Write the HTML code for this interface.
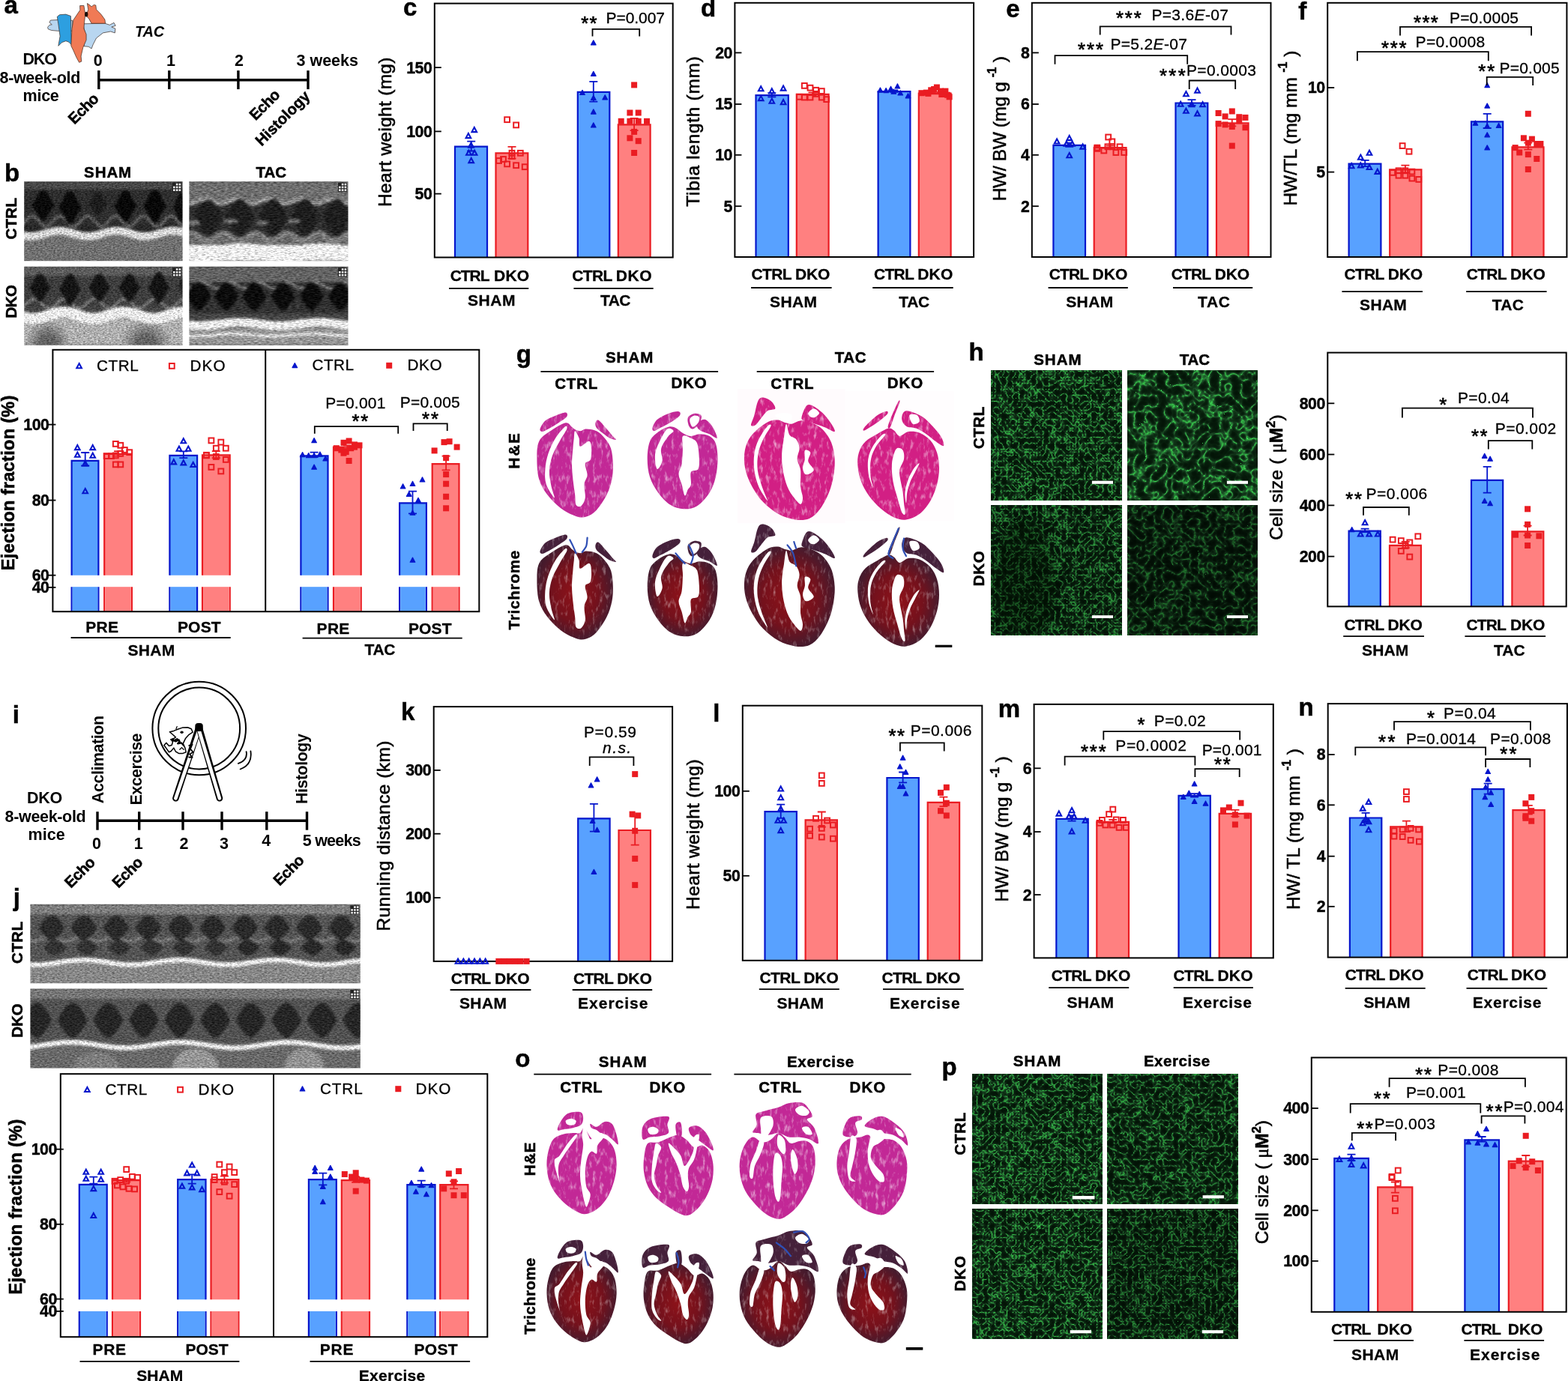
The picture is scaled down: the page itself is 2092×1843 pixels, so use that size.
<!DOCTYPE html>
<html lang="en"><head><meta charset="utf-8"><title>Figure</title>
<style>
html,body{margin:0;padding:0;background:#fff}
body{width:2092px;height:1843px;overflow:hidden}
svg{display:block;font-family:"Liberation Sans",sans-serif}
text{white-space:pre}
</style></head><body>
<svg width="2092" height="1843" viewBox="0 0 2092 1843">
<defs><filter id="blur8" x="-50%" y="-50%" width="200%" height="200%"><feGaussianBlur stdDeviation="8"/></filter>
<clipPath id="ec1"><rect x="32.2" y="242.3" width="211.4" height="105.9"/></clipPath>
<filter id="ef1" filterUnits="userSpaceOnUse" x="32.2" y="242.3" width="211.4" height="105.9" color-interpolation-filters="sRGB"><feGaussianBlur in="SourceGraphic" stdDeviation="1.4" result="b"/><feTurbulence type="fractalNoise" baseFrequency="0.35 0.7" numOctaves="2" seed="2" result="n"/><feColorMatrix in="n" type="matrix" values="1 0 0 0 0 1 0 0 0 0 1 0 0 0 0 0 0 0 0 1" result="g"/><feComposite in="b" in2="g" operator="arithmetic" k1="0.7" k2="0.65" k3="0.2" k4="-0.1"/></filter>
<clipPath id="ec2"><rect x="252.4" y="242.3" width="212.1" height="105.9"/></clipPath>
<filter id="ef2" filterUnits="userSpaceOnUse" x="252.4" y="242.3" width="212.1" height="105.9" color-interpolation-filters="sRGB"><feGaussianBlur in="SourceGraphic" stdDeviation="1.4" result="b"/><feTurbulence type="fractalNoise" baseFrequency="0.2 0.8" numOctaves="2" seed="3" result="n"/><feColorMatrix in="n" type="matrix" values="1 0 0 0 0 1 0 0 0 0 1 0 0 0 0 0 0 0 0 1" result="g"/><feComposite in="b" in2="g" operator="arithmetic" k1="0.7" k2="0.65" k3="0.2" k4="-0.1"/></filter>
<clipPath id="ec3"><rect x="32.2" y="355.7" width="211.4" height="105"/></clipPath>
<filter id="ef3" filterUnits="userSpaceOnUse" x="32.2" y="355.7" width="211.4" height="105" color-interpolation-filters="sRGB"><feGaussianBlur in="SourceGraphic" stdDeviation="1.4" result="b"/><feTurbulence type="fractalNoise" baseFrequency="0.35 0.7" numOctaves="2" seed="4" result="n"/><feColorMatrix in="n" type="matrix" values="1 0 0 0 0 1 0 0 0 0 1 0 0 0 0 0 0 0 0 1" result="g"/><feComposite in="b" in2="g" operator="arithmetic" k1="0.7" k2="0.65" k3="0.2" k4="-0.1"/></filter>
<clipPath id="ec4"><rect x="252.4" y="355.7" width="212.1" height="105"/></clipPath>
<filter id="ef4" filterUnits="userSpaceOnUse" x="252.4" y="355.7" width="212.1" height="105" color-interpolation-filters="sRGB"><feGaussianBlur in="SourceGraphic" stdDeviation="1.4" result="b"/><feTurbulence type="fractalNoise" baseFrequency="0.2 0.8" numOctaves="2" seed="5" result="n"/><feColorMatrix in="n" type="matrix" values="1 0 0 0 0 1 0 0 0 0 1 0 0 0 0 0 0 0 0 1" result="g"/><feComposite in="b" in2="g" operator="arithmetic" k1="0.7" k2="0.65" k3="0.2" k4="-0.1"/></filter>
<clipPath id="ec5"><rect x="40.4" y="1206.8" width="440.4" height="105.4"/></clipPath>
<filter id="ef5" filterUnits="userSpaceOnUse" x="40.4" y="1206.8" width="440.4" height="105.4" color-interpolation-filters="sRGB"><feGaussianBlur in="SourceGraphic" stdDeviation="1.4" result="b"/><feTurbulence type="fractalNoise" baseFrequency="0.3 0.7" numOctaves="2" seed="6" result="n"/><feColorMatrix in="n" type="matrix" values="1 0 0 0 0 1 0 0 0 0 1 0 0 0 0 0 0 0 0 1" result="g"/><feComposite in="b" in2="g" operator="arithmetic" k1="0.7" k2="0.65" k3="0.2" k4="-0.1"/></filter>
<clipPath id="ec6"><rect x="40.4" y="1319.4" width="440.4" height="106"/></clipPath>
<filter id="ef6" filterUnits="userSpaceOnUse" x="40.4" y="1319.4" width="440.4" height="106" color-interpolation-filters="sRGB"><feGaussianBlur in="SourceGraphic" stdDeviation="1.4" result="b"/><feTurbulence type="fractalNoise" baseFrequency="0.3 0.7" numOctaves="2" seed="7" result="n"/><feColorMatrix in="n" type="matrix" values="1 0 0 0 0 1 0 0 0 0 1 0 0 0 0 0 0 0 0 1" result="g"/><feComposite in="b" in2="g" operator="arithmetic" k1="0.7" k2="0.65" k3="0.2" k4="-0.1"/></filter>
<filter id="gf1" filterUnits="userSpaceOnUse" x="1322.6" y="494.1" width="173.6" height="173.6" color-interpolation-filters="sRGB"><feTurbulence type="turbulence" baseFrequency="0.125" numOctaves="2" seed="3"/><feColorMatrix type="matrix" values="1 0 0 0 0 1 0 0 0 0 1 0 0 0 0 0 0 0 0 1"/><feComponentTransfer><feFuncR type="table" tableValues="0.220 0.130 0.070 0.040 0.025 0.020 0.015 0.012 0.010 0.010 0.010"/><feFuncG type="table" tableValues="0.800 0.600 0.400 0.280 0.210 0.170 0.140 0.120 0.110 0.100 0.090 0.085 0.080 0.080 0.080 0.080 0.080 0.080 0.080 0.080 0.080"/><feFuncB type="table" tableValues="0.300 0.180 0.100 0.060 0.045 0.035 0.030 0.025 0.022 0.020 0.020"/></feComponentTransfer></filter>
<filter id="gf2" filterUnits="userSpaceOnUse" x="1504.4" y="494.1" width="173.6" height="173.6" color-interpolation-filters="sRGB"><feTurbulence type="turbulence" baseFrequency="0.07" numOctaves="2" seed="8"/><feColorMatrix type="matrix" values="1 0 0 0 0 1 0 0 0 0 1 0 0 0 0 0 0 0 0 1"/><feComponentTransfer><feFuncR type="table" tableValues="0.231 0.137 0.074 0.042 0.026 0.021 0.016 0.013 0.011 0.011 0.011"/><feFuncG type="table" tableValues="0.840 0.630 0.420 0.294 0.221 0.179 0.147 0.126 0.116 0.105 0.095 0.089 0.084 0.084 0.084 0.084 0.084 0.084 0.084 0.084 0.084"/><feFuncB type="table" tableValues="0.315 0.189 0.105 0.063 0.047 0.037 0.032 0.026 0.023 0.021 0.021"/></feComponentTransfer></filter>
<filter id="gf3" filterUnits="userSpaceOnUse" x="1322.6" y="674.2" width="173.6" height="173.6" color-interpolation-filters="sRGB"><feTurbulence type="turbulence" baseFrequency="0.125" numOctaves="2" seed="12"/><feColorMatrix type="matrix" values="1 0 0 0 0 1 0 0 0 0 1 0 0 0 0 0 0 0 0 1"/><feComponentTransfer><feFuncR type="table" tableValues="0.198 0.117 0.063 0.036 0.023 0.018 0.013 0.011 0.009 0.009 0.009"/><feFuncG type="table" tableValues="0.720 0.540 0.360 0.252 0.189 0.153 0.126 0.108 0.099 0.090 0.081 0.077 0.072 0.072 0.072 0.072 0.072 0.072 0.072 0.072 0.072"/><feFuncB type="table" tableValues="0.270 0.162 0.090 0.054 0.041 0.032 0.027 0.023 0.020 0.018 0.018"/></feComponentTransfer></filter>
<clipPath id="gc3"><rect x="1322.6" y="674.2" width="173.6" height="173.6"/></clipPath>
<filter id="gf4" filterUnits="userSpaceOnUse" x="1504.4" y="674.2" width="173.6" height="173.6" color-interpolation-filters="sRGB"><feTurbulence type="turbulence" baseFrequency="0.085" numOctaves="2" seed="21"/><feColorMatrix type="matrix" values="1 0 0 0 0 1 0 0 0 0 1 0 0 0 0 0 0 0 0 1"/><feComponentTransfer><feFuncR type="table" tableValues="0.136 0.081 0.043 0.025 0.015 0.012 0.009 0.007 0.006 0.006 0.006"/><feFuncG type="table" tableValues="0.496 0.372 0.248 0.174 0.130 0.105 0.087 0.074 0.068 0.062 0.056 0.053 0.050 0.050 0.050 0.050 0.050 0.050 0.050 0.050 0.050"/><feFuncB type="table" tableValues="0.186 0.112 0.062 0.037 0.028 0.022 0.019 0.015 0.014 0.012 0.012"/></feComponentTransfer></filter>
<filter id="gf5" filterUnits="userSpaceOnUse" x="1297.1" y="1433.2" width="173.8" height="173.6" color-interpolation-filters="sRGB"><feTurbulence type="turbulence" baseFrequency="0.125" numOctaves="2" seed="31"/><feColorMatrix type="matrix" values="1 0 0 0 0 1 0 0 0 0 1 0 0 0 0 0 0 0 0 1"/><feComponentTransfer><feFuncR type="table" tableValues="0.220 0.130 0.070 0.040 0.025 0.020 0.015 0.012 0.010 0.010 0.010"/><feFuncG type="table" tableValues="0.800 0.600 0.400 0.280 0.210 0.170 0.140 0.120 0.110 0.100 0.090 0.085 0.080 0.080 0.080 0.080 0.080 0.080 0.080 0.080 0.080"/><feFuncB type="table" tableValues="0.300 0.180 0.100 0.060 0.045 0.035 0.030 0.025 0.022 0.020 0.020"/></feComponentTransfer></filter>
<filter id="gf6" filterUnits="userSpaceOnUse" x="1477.8" y="1433.2" width="174.1" height="173.6" color-interpolation-filters="sRGB"><feTurbulence type="turbulence" baseFrequency="0.115" numOctaves="2" seed="38"/><feColorMatrix type="matrix" values="1 0 0 0 0 1 0 0 0 0 1 0 0 0 0 0 0 0 0 1"/><feComponentTransfer><feFuncR type="table" tableValues="0.209 0.123 0.067 0.038 0.024 0.019 0.014 0.011 0.009 0.009 0.009"/><feFuncG type="table" tableValues="0.760 0.570 0.380 0.266 0.199 0.162 0.133 0.114 0.104 0.095 0.085 0.081 0.076 0.076 0.076 0.076 0.076 0.076 0.076 0.076 0.076"/><feFuncB type="table" tableValues="0.285 0.171 0.095 0.057 0.043 0.033 0.028 0.024 0.021 0.019 0.019"/></feComponentTransfer></filter>
<filter id="gf7" filterUnits="userSpaceOnUse" x="1297.1" y="1613.2" width="173.8" height="173.6" color-interpolation-filters="sRGB"><feTurbulence type="turbulence" baseFrequency="0.125" numOctaves="2" seed="42"/><feColorMatrix type="matrix" values="1 0 0 0 0 1 0 0 0 0 1 0 0 0 0 0 0 0 0 1"/><feComponentTransfer><feFuncR type="table" tableValues="0.220 0.130 0.070 0.040 0.025 0.020 0.015 0.012 0.010 0.010 0.010"/><feFuncG type="table" tableValues="0.800 0.600 0.400 0.280 0.210 0.170 0.140 0.120 0.110 0.100 0.090 0.085 0.080 0.080 0.080 0.080 0.080 0.080 0.080 0.080 0.080"/><feFuncB type="table" tableValues="0.300 0.180 0.100 0.060 0.045 0.035 0.030 0.025 0.022 0.020 0.020"/></feComponentTransfer></filter>
<filter id="gf8" filterUnits="userSpaceOnUse" x="1477.8" y="1613.2" width="174.1" height="173.6" color-interpolation-filters="sRGB"><feTurbulence type="turbulence" baseFrequency="0.125" numOctaves="2" seed="51"/><feColorMatrix type="matrix" values="1 0 0 0 0 1 0 0 0 0 1 0 0 0 0 0 0 0 0 1"/><feComponentTransfer><feFuncR type="table" tableValues="0.176 0.104 0.056 0.032 0.020 0.016 0.012 0.010 0.008 0.008 0.008"/><feFuncG type="table" tableValues="0.640 0.480 0.320 0.224 0.168 0.136 0.112 0.096 0.088 0.080 0.072 0.068 0.064 0.064 0.064 0.064 0.064 0.064 0.064 0.064 0.064"/><feFuncB type="table" tableValues="0.240 0.144 0.080 0.048 0.036 0.028 0.024 0.020 0.018 0.016 0.016"/></feComponentTransfer></filter>
<radialGradient id="trg" gradientUnits="objectBoundingBox" cx="0.5" cy="0.5" r="0.6"><stop offset="0" stop-color="#8e1219"/><stop offset="0.5" stop-color="#74111c"/><stop offset="0.82" stop-color="#4a1a2c"/><stop offset="1" stop-color="#3a1a2c"/></radialGradient>
<filter id="hx" x="0" y="0" width="100%" height="100%" color-interpolation-filters="sRGB"><feTurbulence type="fractalNoise" baseFrequency="0.22 0.09" numOctaves="3" seed="5" result="n"/><feColorMatrix in="n" type="matrix" values="0 0 0 0 1 0 0 0 0 1 0 0 0 0 1 1.5 0 0 0 -0.78" result="w"/><feComposite in="w" in2="SourceAlpha" operator="in" result="wi"/><feMerge><feMergeNode in="SourceGraphic"/><feMergeNode in="wi"/></feMerge></filter>
<filter id="hy" x="0" y="0" width="100%" height="100%" color-interpolation-filters="sRGB"><feTurbulence type="fractalNoise" baseFrequency="0.22 0.09" numOctaves="3" seed="9" result="n"/><feColorMatrix in="n" type="matrix" values="0 0 0 0 1 0 0 0 0 1 0 0 0 0 1 1.1 0 0 0 -0.6" result="w"/><feComposite in="w" in2="SourceAlpha" operator="in" result="wi"/><feMerge><feMergeNode in="SourceGraphic"/><feMergeNode in="wi"/></feMerge></filter></defs>
<rect width="2092" height="1843" fill="#fff"/>
<path d="M607 343.5V195.6H650V343.5" fill="#58a1ff" stroke="#0616cc" stroke-width="2.2"/>
<path d="M661.5 343.5V204.3H704.3V343.5" fill="#ff8080" stroke="#ea1c22" stroke-width="2.2"/>
<path d="M770.8 343.5V122.9H813.3V343.5" fill="#58a1ff" stroke="#0616cc" stroke-width="2.2"/>
<path d="M824.8 343.5V166.4H867.6V343.5" fill="#ff8080" stroke="#ea1c22" stroke-width="2.2"/>
<rect x="579.8" y="4.6" width="317.9" height="338.9" fill="none" stroke="#000" stroke-width="2"/>
<line x1="579.8" y1="90.1" x2="588.8" y2="90.1" stroke="#000" stroke-width="1.8"/>
<text x="576.3" y="97.5" font-size="21.3" font-weight="700" text-anchor="end" letter-spacing="-0.5" stroke="#000" stroke-width="0.4">150</text>
<line x1="579.8" y1="175.4" x2="588.8" y2="175.4" stroke="#000" stroke-width="1.8"/>
<text x="576.3" y="182.7" font-size="21.3" font-weight="700" text-anchor="end" letter-spacing="-0.5" stroke="#000" stroke-width="0.4">100</text>
<line x1="579.8" y1="258.6" x2="588.8" y2="258.6" stroke="#000" stroke-width="1.8"/>
<text x="576.3" y="265.9" font-size="21.3" font-weight="700" text-anchor="end" letter-spacing="-0.5" stroke="#000" stroke-width="0.4">50</text>
<path d="M623.2 188.7H634.2M623.2 201.5H634.2M628.7 188.7V201.5" fill="none" stroke="#0616cc" stroke-width="1.8"/>
<path d="M677.5 195.8H688.5M677.5 211.7H688.5M683 195.8V211.7" fill="none" stroke="#ea1c22" stroke-width="1.8"/>
<path d="M786.3 108.8H797.3M786.3 135.7H797.3M791.8 108.8V135.7" fill="none" stroke="#0616cc" stroke-width="1.8"/>
<path d="M840.6 157.9H851.6M840.6 174.1H851.6M846.1 157.9V174.1" fill="none" stroke="#ea1c22" stroke-width="1.8"/>
<polygon points="632.8,170 636.1,176.1 629.5,176.1" fill="none" stroke="#0616cc" stroke-width="2.1"/>
<polygon points="624.9,177.9 628.2,184.1 621.6,184.1" fill="none" stroke="#0616cc" stroke-width="2.1"/>
<polygon points="628.5,190.5 631.8,196.6 625.2,196.6" fill="none" stroke="#0616cc" stroke-width="2.1"/>
<polygon points="625.4,200.7 628.7,206.8 622.1,206.8" fill="none" stroke="#0616cc" stroke-width="2.1"/>
<polygon points="633.1,200.7 636.4,206.8 629.8,206.8" fill="none" stroke="#0616cc" stroke-width="2.1"/>
<polygon points="628.7,211 632,217.1 625.4,217.1" fill="none" stroke="#0616cc" stroke-width="2.1"/>
<rect x="673.2" y="156.3" width="6.8" height="6.8" fill="none" stroke="#ea1c22" stroke-width="2"/>
<rect x="685.2" y="163.5" width="6.8" height="6.8" fill="none" stroke="#ea1c22" stroke-width="2"/>
<rect x="690.9" y="200.9" width="6.8" height="6.8" fill="none" stroke="#ea1c22" stroke-width="2"/>
<rect x="679.6" y="200.9" width="6.8" height="6.8" fill="none" stroke="#ea1c22" stroke-width="2"/>
<rect x="679.6" y="205.2" width="6.8" height="6.8" fill="none" stroke="#ea1c22" stroke-width="2"/>
<rect x="662.2" y="211.1" width="6.8" height="6.8" fill="none" stroke="#ea1c22" stroke-width="2"/>
<rect x="668.1" y="209.1" width="6.8" height="6.8" fill="none" stroke="#ea1c22" stroke-width="2"/>
<rect x="673.2" y="215.5" width="6.8" height="6.8" fill="none" stroke="#ea1c22" stroke-width="2"/>
<rect x="685.2" y="217.3" width="6.8" height="6.8" fill="none" stroke="#ea1c22" stroke-width="2"/>
<rect x="696.8" y="219.3" width="6.8" height="6.8" fill="none" stroke="#ea1c22" stroke-width="2"/>
<polygon points="791.8,53.8 795.1,59.9 788.5,59.9" fill="#0616cc" stroke="#0616cc" stroke-width="1.2" stroke-linejoin="round"/>
<polygon points="791.8,95.3 795.1,101.4 788.5,101.4" fill="#0616cc" stroke="#0616cc" stroke-width="1.2" stroke-linejoin="round"/>
<polygon points="777,120.3 780.3,126.5 773.7,126.5" fill="#0616cc" stroke="#0616cc" stroke-width="1.2" stroke-linejoin="round"/>
<polygon points="807.2,126.7 810.5,132.9 803.9,132.9" fill="#0616cc" stroke="#0616cc" stroke-width="1.2" stroke-linejoin="round"/>
<polygon points="791.8,127.3 795.1,133.4 788.5,133.4" fill="#0616cc" stroke="#0616cc" stroke-width="1.2" stroke-linejoin="round"/>
<polygon points="791.8,145.9 795.1,152.1 788.5,152.1" fill="#0616cc" stroke="#0616cc" stroke-width="1.2" stroke-linejoin="round"/>
<polygon points="791.8,163.9 795.1,170 788.5,170" fill="#0616cc" stroke="#0616cc" stroke-width="1.2" stroke-linejoin="round"/>
<rect x="842.1" y="109.4" width="8" height="8" fill="#ea1c22"/>
<rect x="836.4" y="146.5" width="8" height="8" fill="#ea1c22"/>
<rect x="847.7" y="146.5" width="8" height="8" fill="#ea1c22"/>
<rect x="824.7" y="157.8" width="8" height="8" fill="#ea1c22"/>
<rect x="836.4" y="157.8" width="8" height="8" fill="#ea1c22"/>
<rect x="847.7" y="157.8" width="8" height="8" fill="#ea1c22"/>
<rect x="859" y="157.8" width="8" height="8" fill="#ea1c22"/>
<rect x="842.1" y="171.9" width="8" height="8" fill="#ea1c22"/>
<rect x="836.4" y="180.3" width="8" height="8" fill="#ea1c22"/>
<rect x="847.7" y="184.2" width="8" height="8" fill="#ea1c22"/>
<rect x="842.1" y="200" width="8" height="8" fill="#ea1c22"/>
<path d="M790.5 48.6V38.9H853.2V48.6" fill="none" stroke="#000" stroke-width="1.8"/>
<text font-size="25.5" letter-spacing="1.35" stroke="#000" stroke-width="0.7" x="775.3" y="40">**</text>
<text font-size="21" letter-spacing="-0.08" stroke="#000" stroke-width="0.3" x="808.6" y="31.2">P=0.007</text>
<text font-size="21" font-weight="700" letter-spacing="-1.10" stroke="#000" stroke-width="0.3" x="600.8" y="374.6">CTRL</text>
<text font-size="21" font-weight="700" letter-spacing="0.19" stroke="#000" stroke-width="0.3" x="659.1" y="374.6">DKO</text>
<text font-size="21" font-weight="700" letter-spacing="0.56" stroke="#000" stroke-width="0.3" x="624" y="408.3">SHAM</text>
<text font-size="21" font-weight="700" letter-spacing="-0.67" stroke="#000" stroke-width="0.3" x="763.3" y="374.6">CTRL</text>
<text font-size="21" font-weight="700" letter-spacing="0.58" stroke="#000" stroke-width="0.3" x="821.7" y="374.6">DKO</text>
<text font-size="21" font-weight="700" letter-spacing="-0.58" stroke="#000" stroke-width="0.3" x="801.1" y="408.3">TAC</text>
<line x1="599" y1="384.8" x2="705.3" y2="384.8" stroke="#000" stroke-width="1.8"/>
<line x1="765.4" y1="384.8" x2="871.7" y2="384.8" stroke="#000" stroke-width="1.8"/>
<text font-size="33" font-weight="700" stroke="#000" stroke-width="0.5" x="538.1" y="21">c</text>
<text font-size="24.5" letter-spacing="0.29" stroke="#000" stroke-width="0.6" transform="translate(521.6 275.9) rotate(-90)">Heart weight (mg)</text>
<path d="M1008.5 343V127.2H1051.8V343" fill="#58a1ff" stroke="#0616cc" stroke-width="2.2"/>
<path d="M1062.8 343V125.9H1105.6V343" fill="#ff8080" stroke="#ea1c22" stroke-width="2.2"/>
<path d="M1171.6 343V122.1H1214.4V343" fill="#58a1ff" stroke="#0616cc" stroke-width="2.2"/>
<path d="M1225.8 343V124.7H1268.6V343" fill="#ff8080" stroke="#ea1c22" stroke-width="2.2"/>
<rect x="980.4" y="3.8" width="318.7" height="339.2" fill="none" stroke="#000" stroke-width="2"/>
<line x1="980.4" y1="70.4" x2="989.4" y2="70.4" stroke="#000" stroke-width="1.8"/>
<text x="976.9" y="77.7" font-size="21.3" font-weight="700" text-anchor="end" letter-spacing="-0.5" stroke="#000" stroke-width="0.4">20</text>
<line x1="980.4" y1="139" x2="989.4" y2="139" stroke="#000" stroke-width="1.8"/>
<text x="976.9" y="146.4" font-size="21.3" font-weight="700" text-anchor="end" letter-spacing="-0.5" stroke="#000" stroke-width="0.4">15</text>
<line x1="980.4" y1="206.8" x2="989.4" y2="206.8" stroke="#000" stroke-width="1.8"/>
<text x="976.9" y="214.2" font-size="21.3" font-weight="700" text-anchor="end" letter-spacing="-0.5" stroke="#000" stroke-width="0.4">10</text>
<line x1="980.4" y1="275.2" x2="989.4" y2="275.2" stroke="#000" stroke-width="1.8"/>
<text x="976.9" y="282.5" font-size="21.3" font-weight="700" text-anchor="end" letter-spacing="-0.5" stroke="#000" stroke-width="0.4">5</text>
<path d="M1024.3 124.2H1035.3M1024.3 129.3H1035.3M1029.8 124.2V129.3" fill="none" stroke="#0616cc" stroke-width="1.8"/>
<path d="M1078.5 123.4H1089.5M1078.5 127.2H1089.5M1084 123.4V127.2" fill="none" stroke="#ea1c22" stroke-width="1.8"/>
<path d="M1187.3 120.3H1198.3M1187.3 122.9H1198.3M1192.8 120.3V122.9" fill="none" stroke="#0616cc" stroke-width="1.8"/>
<path d="M1241.9 122.9H1252.9M1241.9 125.4H1252.9M1247.4 122.9V125.4" fill="none" stroke="#ea1c22" stroke-width="1.8"/>
<polygon points="1015.2,115.2 1018.5,121.3 1011.9,121.3" fill="none" stroke="#0616cc" stroke-width="2.1"/>
<polygon points="1045.1,114.5 1048.4,120.6 1041.8,120.6" fill="none" stroke="#0616cc" stroke-width="2.1"/>
<polygon points="1029.8,118.3 1033.1,124.4 1026.5,124.4" fill="none" stroke="#0616cc" stroke-width="2.1"/>
<polygon points="1015.2,128 1018.5,134.1 1011.9,134.1" fill="none" stroke="#0616cc" stroke-width="2.1"/>
<polygon points="1029.8,131.6 1033.1,137.7 1026.5,137.7" fill="none" stroke="#0616cc" stroke-width="2.1"/>
<polygon points="1045.1,133.1 1048.4,139.3 1041.8,139.3" fill="none" stroke="#0616cc" stroke-width="2.1"/>
<rect x="1069.9" y="111" width="6.8" height="6.8" fill="none" stroke="#ea1c22" stroke-width="2"/>
<rect x="1077.6" y="113.8" width="6.8" height="6.8" fill="none" stroke="#ea1c22" stroke-width="2"/>
<rect x="1085.2" y="116.9" width="6.8" height="6.8" fill="none" stroke="#ea1c22" stroke-width="2"/>
<rect x="1092.9" y="118.2" width="6.8" height="6.8" fill="none" stroke="#ea1c22" stroke-width="2"/>
<rect x="1063" y="125.9" width="6.8" height="6.8" fill="none" stroke="#ea1c22" stroke-width="2"/>
<rect x="1069.9" y="126.6" width="6.8" height="6.8" fill="none" stroke="#ea1c22" stroke-width="2"/>
<rect x="1077.6" y="126.6" width="6.8" height="6.8" fill="none" stroke="#ea1c22" stroke-width="2"/>
<rect x="1085.2" y="122" width="6.8" height="6.8" fill="none" stroke="#ea1c22" stroke-width="2"/>
<rect x="1092.9" y="126.6" width="6.8" height="6.8" fill="none" stroke="#ea1c22" stroke-width="2"/>
<rect x="1099.3" y="129.2" width="6.8" height="6.8" fill="none" stroke="#ea1c22" stroke-width="2"/>
<polygon points="1174.4,117 1177.7,123.1 1171.1,123.1" fill="#0616cc" stroke="#0616cc" stroke-width="1.2" stroke-linejoin="round"/>
<polygon points="1182.1,117.5 1185.4,123.6 1178.8,123.6" fill="#0616cc" stroke="#0616cc" stroke-width="1.2" stroke-linejoin="round"/>
<polygon points="1188.5,115.2 1191.8,121.3 1185.2,121.3" fill="#0616cc" stroke="#0616cc" stroke-width="1.2" stroke-linejoin="round"/>
<polygon points="1197.4,111.9 1200.7,118 1194.1,118" fill="#0616cc" stroke="#0616cc" stroke-width="1.2" stroke-linejoin="round"/>
<polygon points="1192.3,119.1 1195.6,125.2 1189,125.2" fill="#0616cc" stroke="#0616cc" stroke-width="1.2" stroke-linejoin="round"/>
<polygon points="1201.3,120.9 1204.6,127 1198,127" fill="#0616cc" stroke="#0616cc" stroke-width="1.2" stroke-linejoin="round"/>
<polygon points="1211.5,124.7 1214.8,130.8 1208.2,130.8" fill="#0616cc" stroke="#0616cc" stroke-width="1.2" stroke-linejoin="round"/>
<rect x="1225.4" y="120.2" width="8" height="8" fill="#ea1c22"/>
<rect x="1231.8" y="119.6" width="8" height="8" fill="#ea1c22"/>
<rect x="1238.2" y="116.3" width="8" height="8" fill="#ea1c22"/>
<rect x="1245.9" y="112.5" width="8" height="8" fill="#ea1c22"/>
<rect x="1251" y="117.6" width="8" height="8" fill="#ea1c22"/>
<rect x="1257.4" y="117.6" width="8" height="8" fill="#ea1c22"/>
<rect x="1252.3" y="122" width="8" height="8" fill="#ea1c22"/>
<rect x="1260" y="122.7" width="8" height="8" fill="#ea1c22"/>
<rect x="1262.6" y="125.3" width="8" height="8" fill="#ea1c22"/>
<rect x="1242.1" y="115" width="8" height="8" fill="#ea1c22"/>
<rect x="1234.4" y="120.9" width="8" height="8" fill="#ea1c22"/>
<text font-size="21" font-weight="700" letter-spacing="-0.67" stroke="#000" stroke-width="0.3" x="1002.6" y="373.3">CTRL</text>
<text font-size="21" font-weight="700" letter-spacing="-0.06" stroke="#000" stroke-width="0.3" x="1060.9" y="373.3">DKO</text>
<text font-size="21" font-weight="700" letter-spacing="0.39" stroke="#000" stroke-width="0.3" x="1027.1" y="410.4">SHAM</text>
<text font-size="21" font-weight="700" letter-spacing="-0.67" stroke="#000" stroke-width="0.3" x="1165.9" y="373.3">CTRL</text>
<text font-size="21" font-weight="700" letter-spacing="0.19" stroke="#000" stroke-width="0.3" x="1224.2" y="373.3">DKO</text>
<text font-size="21" font-weight="700" letter-spacing="-0.33" stroke="#000" stroke-width="0.3" x="1199.3" y="410.4">TAC</text>
<line x1="1002.1" y1="384" x2="1109.6" y2="384" stroke="#000" stroke-width="1.8"/>
<line x1="1164.2" y1="384" x2="1271.7" y2="384" stroke="#000" stroke-width="1.8"/>
<text font-size="33" font-weight="700" stroke="#000" stroke-width="0.5" x="935" y="21.8">d</text>
<text font-size="24.5" letter-spacing="0.67" stroke="#000" stroke-width="0.6" transform="translate(933.1 275.7) rotate(-90)">Tibia length (mm)</text>
<path d="M1405.4 343V193.8H1448V343" fill="#58a1ff" stroke="#0616cc" stroke-width="2.2"/>
<path d="M1459.7 343V197.1H1502.5V343" fill="#ff8080" stroke="#ea1c22" stroke-width="2.2"/>
<path d="M1568.5 343V137.5H1611.3V343" fill="#58a1ff" stroke="#0616cc" stroke-width="2.2"/>
<path d="M1623 343V164.3H1665.6V343" fill="#ff8080" stroke="#ea1c22" stroke-width="2.2"/>
<rect x="1376.8" y="3.8" width="318.7" height="339.2" fill="none" stroke="#000" stroke-width="2"/>
<line x1="1376.8" y1="70.4" x2="1385.8" y2="70.4" stroke="#000" stroke-width="1.8"/>
<text x="1373.3" y="77.7" font-size="21.3" font-weight="700" text-anchor="end" letter-spacing="-0.5" stroke="#000" stroke-width="0.4">8</text>
<line x1="1376.8" y1="139" x2="1385.8" y2="139" stroke="#000" stroke-width="1.8"/>
<text x="1373.3" y="146.4" font-size="21.3" font-weight="700" text-anchor="end" letter-spacing="-0.5" stroke="#000" stroke-width="0.4">6</text>
<line x1="1376.8" y1="206.8" x2="1385.8" y2="206.8" stroke="#000" stroke-width="1.8"/>
<text x="1373.3" y="214.2" font-size="21.3" font-weight="700" text-anchor="end" letter-spacing="-0.5" stroke="#000" stroke-width="0.4">4</text>
<line x1="1376.8" y1="275.2" x2="1385.8" y2="275.2" stroke="#000" stroke-width="1.8"/>
<text x="1373.3" y="282.5" font-size="21.3" font-weight="700" text-anchor="end" letter-spacing="-0.5" stroke="#000" stroke-width="0.4">2</text>
<path d="M1421.2 190.7H1432.2M1421.2 195.8H1432.2M1426.7 190.7V195.8" fill="none" stroke="#0616cc" stroke-width="1.8"/>
<path d="M1475.7 194.6H1486.7M1475.7 199.2H1486.7M1481.2 194.6V199.2" fill="none" stroke="#ea1c22" stroke-width="1.8"/>
<path d="M1584.5 133.1H1595.5M1584.5 140.8H1595.5M1590 133.1V140.8" fill="none" stroke="#0616cc" stroke-width="1.8"/>
<path d="M1638.3 159.2H1649.3M1638.3 168.4H1649.3M1643.8 159.2V168.4" fill="none" stroke="#ea1c22" stroke-width="1.8"/>
<polygon points="1410.1,185.4 1413.4,191.5 1406.8,191.5" fill="none" stroke="#0616cc" stroke-width="2.1"/>
<polygon points="1426.7,181 1430,187.1 1423.4,187.1" fill="none" stroke="#0616cc" stroke-width="2.1"/>
<polygon points="1422.9,188.7 1426.2,194.8 1419.6,194.8" fill="none" stroke="#0616cc" stroke-width="2.1"/>
<polygon points="1430.6,188.7 1433.9,194.8 1427.3,194.8" fill="none" stroke="#0616cc" stroke-width="2.1"/>
<polygon points="1444.6,192.5 1447.9,198.6 1441.3,198.6" fill="none" stroke="#0616cc" stroke-width="2.1"/>
<polygon points="1426.7,204.1 1430,210.2 1423.4,210.2" fill="none" stroke="#0616cc" stroke-width="2.1"/>
<rect x="1475.3" y="179.6" width="6.8" height="6.8" fill="none" stroke="#ea1c22" stroke-width="2"/>
<rect x="1480.4" y="185.5" width="6.8" height="6.8" fill="none" stroke="#ea1c22" stroke-width="2"/>
<rect x="1460.4" y="195" width="6.8" height="6.8" fill="none" stroke="#ea1c22" stroke-width="2"/>
<rect x="1469.4" y="197.6" width="6.8" height="6.8" fill="none" stroke="#ea1c22" stroke-width="2"/>
<rect x="1474.5" y="192.4" width="6.8" height="6.8" fill="none" stroke="#ea1c22" stroke-width="2"/>
<rect x="1480.4" y="192.4" width="6.8" height="6.8" fill="none" stroke="#ea1c22" stroke-width="2"/>
<rect x="1490.6" y="192.4" width="6.8" height="6.8" fill="none" stroke="#ea1c22" stroke-width="2"/>
<rect x="1485.5" y="200.1" width="6.8" height="6.8" fill="none" stroke="#ea1c22" stroke-width="2"/>
<rect x="1496.3" y="200.1" width="6.8" height="6.8" fill="none" stroke="#ea1c22" stroke-width="2"/>
<rect x="1460.4" y="193.7" width="6.8" height="6.8" fill="none" stroke="#ea1c22" stroke-width="2"/>
<polygon points="1582.4,122.1 1585.7,128.2 1579.1,128.2" fill="none" stroke="#0616cc" stroke-width="2.1"/>
<polygon points="1597.5,117.5 1600.8,123.6 1594.2,123.6" fill="none" stroke="#0616cc" stroke-width="2.1"/>
<polygon points="1575.2,135.7 1578.5,141.8 1571.9,141.8" fill="none" stroke="#0616cc" stroke-width="2.1"/>
<polygon points="1590,136.2 1593.3,142.3 1586.7,142.3" fill="none" stroke="#0616cc" stroke-width="2.1"/>
<polygon points="1604.6,136.2 1607.9,142.3 1601.3,142.3" fill="none" stroke="#0616cc" stroke-width="2.1"/>
<polygon points="1582.4,144.7 1585.7,150.8 1579.1,150.8" fill="none" stroke="#0616cc" stroke-width="2.1"/>
<polygon points="1597.5,148.2 1600.8,154.4 1594.2,154.4" fill="none" stroke="#0616cc" stroke-width="2.1"/>
<rect x="1621.6" y="147" width="8" height="8" fill="#ea1c22"/>
<rect x="1639.8" y="144.5" width="8" height="8" fill="#ea1c22"/>
<rect x="1630.6" y="151.4" width="8" height="8" fill="#ea1c22"/>
<rect x="1649.3" y="152.2" width="8" height="8" fill="#ea1c22"/>
<rect x="1657.5" y="152.9" width="8" height="8" fill="#ea1c22"/>
<rect x="1621.6" y="161.1" width="8" height="8" fill="#ea1c22"/>
<rect x="1630.6" y="162.4" width="8" height="8" fill="#ea1c22"/>
<rect x="1639.8" y="165" width="8" height="8" fill="#ea1c22"/>
<rect x="1649.3" y="157.3" width="8" height="8" fill="#ea1c22"/>
<rect x="1657.5" y="166.2" width="8" height="8" fill="#ea1c22"/>
<rect x="1639.8" y="190.6" width="8" height="8" fill="#ea1c22"/>
<path d="M1467.7 46.6V35.3H1642.5V46.6" fill="none" stroke="#000" stroke-width="1.8"/>
<path d="M1407.5 85.8V74.2H1584.2V85.8" fill="none" stroke="#000" stroke-width="1.8"/>
<path d="M1586.7 119V107.5H1648.2V119" fill="none" stroke="#000" stroke-width="1.8"/>
<text font-size="25.5" letter-spacing="1.85" stroke="#000" stroke-width="0.7" x="1489.1" y="33.1">***</text>
<text font-size="25.5" letter-spacing="2.10" stroke="#000" stroke-width="0.7" x="1437.9" y="74.6">***</text>
<text font-size="25.5" letter-spacing="2.50" stroke="#000" stroke-width="0.7" x="1546.9" y="110.4">***</text>
<text font-size="21" letter-spacing="0.34" stroke="#000" stroke-width="0.3" x="1536.4" y="26.9">P=3.6<tspan font-style="italic">E</tspan>-07</text>
<text font-size="21" letter-spacing="0.34" stroke="#000" stroke-width="0.3" x="1481.4" y="66">P=5.2<tspan font-style="italic">E</tspan>-07</text>
<text font-size="21" letter-spacing="0.34" stroke="#000" stroke-width="0.3" x="1583" y="101.1">P=0.0003</text>
<text font-size="21" font-weight="700" letter-spacing="-0.93" stroke="#000" stroke-width="0.3" x="1399.8" y="373.3">CTRL</text>
<text font-size="21" font-weight="700" letter-spacing="0.19" stroke="#000" stroke-width="0.3" x="1457.4" y="373.3">DKO</text>
<text font-size="21" font-weight="700" letter-spacing="0.39" stroke="#000" stroke-width="0.3" x="1422.2" y="409.6">SHAM</text>
<text font-size="21" font-weight="700" letter-spacing="-0.93" stroke="#000" stroke-width="0.3" x="1562.8" y="373.3">CTRL</text>
<text font-size="21" font-weight="700" letter-spacing="-0.19" stroke="#000" stroke-width="0.3" x="1620.7" y="373.3">DKO</text>
<text font-size="21" font-weight="700" letter-spacing="0.70" stroke="#000" stroke-width="0.3" x="1598" y="409.6">TAC</text>
<line x1="1398.6" y1="384" x2="1504.8" y2="384" stroke="#000" stroke-width="1.8"/>
<line x1="1565" y1="384" x2="1671.2" y2="384" stroke="#000" stroke-width="1.8"/>
<text font-size="33" font-weight="700" stroke="#000" stroke-width="0.5" x="1342.2" y="22.5">e</text>
<text font-size="24.5" letter-spacing="-0.38" stroke="#000" stroke-width="0.6" transform="translate(1341.6 268.2) rotate(-90)">HW/ BW (mg g <tspan font-size="15.7" font-weight="700" dy="-12.2">-1</tspan><tspan dy="12.2"> )</tspan></text>
<path d="M1799.6 343V218.6H1842.4V343" fill="#58a1ff" stroke="#0616cc" stroke-width="2.2"/>
<path d="M1854.2 343V226.3H1896.4V343" fill="#ff8080" stroke="#ea1c22" stroke-width="2.2"/>
<path d="M1963 343V162.3H2005.2V343" fill="#58a1ff" stroke="#0616cc" stroke-width="2.2"/>
<path d="M2017.5 343V196.3H2059.5V343" fill="#ff8080" stroke="#ea1c22" stroke-width="2.2"/>
<rect x="1771.2" y="3.8" width="319.2" height="339.2" fill="none" stroke="#000" stroke-width="2"/>
<line x1="1771.2" y1="117" x2="1780.2" y2="117" stroke="#000" stroke-width="1.8"/>
<text x="1767.7" y="124.3" font-size="21.3" font-weight="700" text-anchor="end" letter-spacing="-0.5" stroke="#000" stroke-width="0.4">10</text>
<line x1="1771.2" y1="229.6" x2="1780.2" y2="229.6" stroke="#000" stroke-width="1.8"/>
<text x="1767.7" y="237" font-size="21.3" font-weight="700" text-anchor="end" letter-spacing="-0.5" stroke="#000" stroke-width="0.4">5</text>
<path d="M1815.7 213.8H1826.7M1815.7 222.2H1826.7M1821.2 213.8V222.2" fill="none" stroke="#0616cc" stroke-width="1.8"/>
<path d="M1869.4 220.7H1880.4M1869.4 230.4H1880.4M1874.9 220.7V230.4" fill="none" stroke="#ea1c22" stroke-width="1.8"/>
<path d="M1978.7 151.8H1989.7M1978.7 171H1989.7M1984.2 151.8V171" fill="none" stroke="#0616cc" stroke-width="1.8"/>
<path d="M2033.3 190.7H2044.3M2033.3 199.7H2044.3M2038.8 190.7V199.7" fill="none" stroke="#ea1c22" stroke-width="1.8"/>
<polygon points="1815.3,206.6 1818.6,212.7 1812,212.7" fill="none" stroke="#0616cc" stroke-width="2.1"/>
<polygon points="1827,200.7 1830.3,206.8 1823.7,206.8" fill="none" stroke="#0616cc" stroke-width="2.1"/>
<polygon points="1803.2,218.1 1806.5,224.2 1799.9,224.2" fill="none" stroke="#0616cc" stroke-width="2.1"/>
<polygon points="1815.3,217.4 1818.6,223.5 1812,223.5" fill="none" stroke="#0616cc" stroke-width="2.1"/>
<polygon points="1827,219.9 1830.3,226 1823.7,226" fill="none" stroke="#0616cc" stroke-width="2.1"/>
<polygon points="1837.8,225.8 1841.1,231.9 1834.5,231.9" fill="none" stroke="#0616cc" stroke-width="2.1"/>
<rect x="1867.7" y="191.2" width="6.8" height="6.8" fill="none" stroke="#ea1c22" stroke-width="2"/>
<rect x="1876.6" y="198.8" width="6.8" height="6.8" fill="none" stroke="#ea1c22" stroke-width="2"/>
<rect x="1854.4" y="227" width="6.8" height="6.8" fill="none" stroke="#ea1c22" stroke-width="2"/>
<rect x="1862.6" y="230.8" width="6.8" height="6.8" fill="none" stroke="#ea1c22" stroke-width="2"/>
<rect x="1871.5" y="224.4" width="6.8" height="6.8" fill="none" stroke="#ea1c22" stroke-width="2"/>
<rect x="1871.5" y="230.8" width="6.8" height="6.8" fill="none" stroke="#ea1c22" stroke-width="2"/>
<rect x="1880.5" y="225.7" width="6.8" height="6.8" fill="none" stroke="#ea1c22" stroke-width="2"/>
<rect x="1880.5" y="234.7" width="6.8" height="6.8" fill="none" stroke="#ea1c22" stroke-width="2"/>
<rect x="1889.4" y="236" width="6.8" height="6.8" fill="none" stroke="#ea1c22" stroke-width="2"/>
<rect x="1862.6" y="224.4" width="6.8" height="6.8" fill="none" stroke="#ea1c22" stroke-width="2"/>
<polygon points="1984.2,110.6 1987.5,116.7 1980.9,116.7" fill="#0616cc" stroke="#0616cc" stroke-width="1.2" stroke-linejoin="round"/>
<polygon points="1984.2,138 1987.5,144.1 1980.9,144.1" fill="#0616cc" stroke="#0616cc" stroke-width="1.2" stroke-linejoin="round"/>
<polygon points="1968.4,161 1971.7,167.2 1965.1,167.2" fill="#0616cc" stroke="#0616cc" stroke-width="1.2" stroke-linejoin="round"/>
<polygon points="1984.2,164.9 1987.5,171 1980.9,171" fill="#0616cc" stroke="#0616cc" stroke-width="1.2" stroke-linejoin="round"/>
<polygon points="1999.6,164.4 2002.9,170.5 1996.3,170.5" fill="#0616cc" stroke="#0616cc" stroke-width="1.2" stroke-linejoin="round"/>
<polygon points="1984.2,176.7 1987.5,182.8 1980.9,182.8" fill="#0616cc" stroke="#0616cc" stroke-width="1.2" stroke-linejoin="round"/>
<polygon points="1984.2,193.8 1987.5,199.9 1980.9,199.9" fill="#0616cc" stroke="#0616cc" stroke-width="1.2" stroke-linejoin="round"/>
<rect x="2034.8" y="147.8" width="8" height="8" fill="#ea1c22"/>
<rect x="2028.9" y="180.3" width="8" height="8" fill="#ea1c22"/>
<rect x="2039.9" y="181.6" width="8" height="8" fill="#ea1c22"/>
<rect x="2017.6" y="193.1" width="8" height="8" fill="#ea1c22"/>
<rect x="2023.2" y="199.5" width="8" height="8" fill="#ea1c22"/>
<rect x="2034.8" y="186.7" width="8" height="8" fill="#ea1c22"/>
<rect x="2046.3" y="188" width="8" height="8" fill="#ea1c22"/>
<rect x="2051.4" y="188" width="8" height="8" fill="#ea1c22"/>
<rect x="2034.8" y="202.1" width="8" height="8" fill="#ea1c22"/>
<rect x="2046.3" y="208" width="8" height="8" fill="#ea1c22"/>
<rect x="2034.8" y="222" width="8" height="8" fill="#ea1c22"/>
<path d="M1868 47.4V35.8H2043.1V47.4" fill="none" stroke="#000" stroke-width="1.8"/>
<path d="M1810.9 81.2V69.1H1985.8V81.2" fill="none" stroke="#000" stroke-width="1.8"/>
<path d="M1983.7 113.9V102.9H2045.2V113.9" fill="none" stroke="#000" stroke-width="1.8"/>
<text font-size="25.5" letter-spacing="1.46" stroke="#000" stroke-width="0.7" x="1886.1" y="38.7">***</text>
<text font-size="25.5" letter-spacing="1.85" stroke="#000" stroke-width="0.7" x="1843" y="73.3">***</text>
<text font-size="25.5" letter-spacing="2.12" stroke="#000" stroke-width="0.7" x="1972.3" y="104">**</text>
<text font-size="21" letter-spacing="0.23" stroke="#000" stroke-width="0.3" x="1933.9" y="30.7">P=0.0005</text>
<text font-size="21" letter-spacing="0.30" stroke="#000" stroke-width="0.3" x="1888.6" y="62.7">P=0.0008</text>
<text font-size="21" letter-spacing="0.22" stroke="#000" stroke-width="0.3" x="2000.5" y="97.8">P=0.005</text>
<text font-size="21" font-weight="700" letter-spacing="-0.67" stroke="#000" stroke-width="0.3" x="1793.4" y="373.3">CTRL</text>
<text font-size="21" font-weight="700" letter-spacing="-0.19" stroke="#000" stroke-width="0.3" x="1851.8" y="373.3">DKO</text>
<text font-size="21" font-weight="700" letter-spacing="0.31" stroke="#000" stroke-width="0.3" x="1814.1" y="414.2">SHAM</text>
<text font-size="21" font-weight="700" letter-spacing="-0.76" stroke="#000" stroke-width="0.3" x="1956.8" y="373.3">CTRL</text>
<text font-size="21" font-weight="700" letter-spacing="0.06" stroke="#000" stroke-width="0.3" x="2015.1" y="373.3">DKO</text>
<text font-size="21" font-weight="700" letter-spacing="0.31" stroke="#000" stroke-width="0.3" x="1990.7" y="414.2">TAC</text>
<line x1="1790.4" y1="389.1" x2="1898" y2="389.1" stroke="#000" stroke-width="1.8"/>
<line x1="1956.1" y1="389.1" x2="2063.6" y2="389.1" stroke="#000" stroke-width="1.8"/>
<text font-size="33" font-weight="700" stroke="#000" stroke-width="0.5" x="1732.3" y="25.6">f</text>
<text font-size="24.5" letter-spacing="-0.04" stroke="#000" stroke-width="0.6" transform="translate(1729.6 274.6) rotate(-90)">HW/TL (mg mm <tspan font-size="15.7" font-weight="700" dy="-12.2">-1</tspan><tspan dy="12.2"> )</tspan></text>
<path d="M95.6 767.7V614.9H131.4V767.7" fill="#58a1ff" stroke="#0616cc" stroke-width="2.2"/>
<path d="M95.6 783.2V816.2M131.4 783.2V816.2" fill="none" stroke="#0616cc" stroke-width="2.2"/>
<rect x="96.7" y="783.2" width="33.6" height="32.9" fill="#58a1ff"/>
<path d="M139.2 767.7V605.8H175.9V767.7" fill="#ff8080" stroke="#ea1c22" stroke-width="2.2"/>
<path d="M139.2 783.2V816.2M175.9 783.2V816.2" fill="none" stroke="#ea1c22" stroke-width="2.2"/>
<rect x="140.3" y="783.2" width="34.5" height="32.9" fill="#ff8080"/>
<path d="M226.4 767.7V607.8H263.1V767.7" fill="#58a1ff" stroke="#0616cc" stroke-width="2.2"/>
<path d="M226.4 783.2V816.2M263.1 783.2V816.2" fill="none" stroke="#0616cc" stroke-width="2.2"/>
<rect x="227.5" y="783.2" width="34.5" height="32.9" fill="#58a1ff"/>
<path d="M270 767.7V607.4H306.7V767.7" fill="#ff8080" stroke="#ea1c22" stroke-width="2.2"/>
<path d="M270 783.2V816.2M306.7 783.2V816.2" fill="none" stroke="#ea1c22" stroke-width="2.2"/>
<rect x="271.1" y="783.2" width="34.5" height="32.9" fill="#ff8080"/>
<path d="M401.4 767.7V608.4H437.5V767.7" fill="#58a1ff" stroke="#0616cc" stroke-width="2.2"/>
<path d="M401.4 783.2V816.2M437.5 783.2V816.2" fill="none" stroke="#0616cc" stroke-width="2.2"/>
<rect x="402.5" y="783.2" width="33.9" height="32.9" fill="#58a1ff"/>
<path d="M445 767.7V596.5H481.7V767.7" fill="#ff8080" stroke="#ea1c22" stroke-width="2.2"/>
<path d="M445 783.2V816.2M481.7 783.2V816.2" fill="none" stroke="#ea1c22" stroke-width="2.2"/>
<rect x="446.1" y="783.2" width="34.5" height="32.9" fill="#ff8080"/>
<path d="M533.1 767.7V671.4H568.9V767.7" fill="#58a1ff" stroke="#0616cc" stroke-width="2.2"/>
<path d="M533.1 783.2V816.2M568.9 783.2V816.2" fill="none" stroke="#0616cc" stroke-width="2.2"/>
<rect x="534.2" y="783.2" width="33.6" height="32.9" fill="#58a1ff"/>
<path d="M576.7 767.7V619.1H612.5V767.7" fill="#ff8080" stroke="#ea1c22" stroke-width="2.2"/>
<path d="M576.7 783.2V816.2M612.5 783.2V816.2" fill="none" stroke="#ea1c22" stroke-width="2.2"/>
<rect x="577.8" y="783.2" width="33.6" height="32.9" fill="#ff8080"/>
<rect x="70.4" y="466.8" width="568.9" height="349.4" fill="none" stroke="#000" stroke-width="2"/>
<line x1="354.2" y1="466.8" x2="354.2" y2="816.2" stroke="#000" stroke-width="2"/>
<line x1="63.4" y1="566.6" x2="74.4" y2="566.6" stroke="#000" stroke-width="1.8"/>
<text x="65.4" y="573.9" font-size="21.3" font-weight="700" text-anchor="end" letter-spacing="-0.5" stroke="#000" stroke-width="0.4">100</text>
<line x1="63.4" y1="667.6" x2="74.4" y2="667.6" stroke="#000" stroke-width="1.8"/>
<text x="65.4" y="675" font-size="21.3" font-weight="700" text-anchor="end" letter-spacing="-0.5" stroke="#000" stroke-width="0.4">80</text>
<line x1="63.4" y1="767.7" x2="74.4" y2="767.7" stroke="#000" stroke-width="1.8"/>
<text x="65.4" y="775.1" font-size="21.3" font-weight="700" text-anchor="end" letter-spacing="-0.5" stroke="#000" stroke-width="0.4">60</text>
<line x1="63.4" y1="783.9" x2="74.4" y2="783.9" stroke="#000" stroke-width="1.8"/>
<text x="65.4" y="791.2" font-size="21.3" font-weight="700" text-anchor="end" letter-spacing="-0.5" stroke="#000" stroke-width="0.4">40</text>
<path d="M108.2 604H119.2M108.2 621.5H119.2M113.7 604V621.5" fill="none" stroke="#0616cc" stroke-width="1.8"/>
<path d="M152.1 602.1H163.1M152.1 608.6H163.1M157.6 602.1V608.6" fill="none" stroke="#ea1c22" stroke-width="1.8"/>
<path d="M239.3 602.4H250.3M239.3 611.1H250.3M244.8 602.4V611.1" fill="none" stroke="#0616cc" stroke-width="1.8"/>
<path d="M282.8 602.1H293.8M282.8 611.1H293.8M288.3 602.1V611.1" fill="none" stroke="#ea1c22" stroke-width="1.8"/>
<path d="M413.6 603.7H424.6M413.6 610.2H424.6M419.1 603.7V610.2" fill="none" stroke="#0616cc" stroke-width="1.8"/>
<path d="M457.9 594.3H468.9M457.9 598.9H468.9M463.4 594.3V598.9" fill="none" stroke="#ea1c22" stroke-width="1.8"/>
<path d="M545 655.7H556M545 685.4H556M550.5 655.7V685.4" fill="none" stroke="#0616cc" stroke-width="1.8"/>
<path d="M589.6 608.6H600.6M589.6 627.3H600.6M595.1 608.6V627.3" fill="none" stroke="#ea1c22" stroke-width="1.8"/>
<polygon points="103.3,594 106.6,600.1 100,600.1" fill="none" stroke="#0616cc" stroke-width="2.1"/>
<polygon points="123.7,594 127,600.1 120.4,600.1" fill="none" stroke="#0616cc" stroke-width="2.1"/>
<polygon points="103.3,603.6 106.6,609.7 100,609.7" fill="none" stroke="#0616cc" stroke-width="2.1"/>
<polygon points="123.7,604.6 127,610.7 120.4,610.7" fill="none" stroke="#0616cc" stroke-width="2.1"/>
<polygon points="113.7,615.3 117,621.4 110.4,621.4" fill="none" stroke="#0616cc" stroke-width="2.1"/>
<polygon points="113.7,652.1 117,658.2 110.4,658.2" fill="none" stroke="#0616cc" stroke-width="2.1"/>
<rect x="150.9" y="589" width="6.8" height="6.8" fill="none" stroke="#ea1c22" stroke-width="2"/>
<rect x="157.4" y="590.9" width="6.8" height="6.8" fill="none" stroke="#ea1c22" stroke-width="2"/>
<rect x="162.9" y="597.1" width="6.8" height="6.8" fill="none" stroke="#ea1c22" stroke-width="2"/>
<rect x="169.3" y="600.3" width="6.8" height="6.8" fill="none" stroke="#ea1c22" stroke-width="2"/>
<rect x="138.7" y="605.2" width="6.8" height="6.8" fill="none" stroke="#ea1c22" stroke-width="2"/>
<rect x="145.1" y="605.2" width="6.8" height="6.8" fill="none" stroke="#ea1c22" stroke-width="2"/>
<rect x="150.9" y="604.5" width="6.8" height="6.8" fill="none" stroke="#ea1c22" stroke-width="2"/>
<rect x="157.4" y="601.9" width="6.8" height="6.8" fill="none" stroke="#ea1c22" stroke-width="2"/>
<rect x="150.9" y="616.5" width="6.8" height="6.8" fill="none" stroke="#ea1c22" stroke-width="2"/>
<rect x="157.4" y="616.5" width="6.8" height="6.8" fill="none" stroke="#ea1c22" stroke-width="2"/>
<polygon points="244.8,585.2 248.1,591.3 241.5,591.3" fill="none" stroke="#0616cc" stroke-width="2.1"/>
<polygon points="238.9,595.6 242.2,601.7 235.6,601.7" fill="none" stroke="#0616cc" stroke-width="2.1"/>
<polygon points="251.2,595.6 254.5,601.7 247.9,601.7" fill="none" stroke="#0616cc" stroke-width="2.1"/>
<polygon points="231.8,613.3 235.1,619.4 228.5,619.4" fill="none" stroke="#0616cc" stroke-width="2.1"/>
<polygon points="244.8,614.3 248.1,620.4 241.5,620.4" fill="none" stroke="#0616cc" stroke-width="2.1"/>
<polygon points="257.7,616.9 261,623 254.4,623" fill="none" stroke="#0616cc" stroke-width="2.1"/>
<rect x="278.5" y="584.5" width="6.8" height="6.8" fill="none" stroke="#ea1c22" stroke-width="2"/>
<rect x="291.4" y="586.7" width="6.8" height="6.8" fill="none" stroke="#ea1c22" stroke-width="2"/>
<rect x="284.9" y="594.8" width="6.8" height="6.8" fill="none" stroke="#ea1c22" stroke-width="2"/>
<rect x="297.9" y="594.8" width="6.8" height="6.8" fill="none" stroke="#ea1c22" stroke-width="2"/>
<rect x="272" y="603.9" width="6.8" height="6.8" fill="none" stroke="#ea1c22" stroke-width="2"/>
<rect x="284.9" y="606.1" width="6.8" height="6.8" fill="none" stroke="#ea1c22" stroke-width="2"/>
<rect x="297.9" y="610" width="6.8" height="6.8" fill="none" stroke="#ea1c22" stroke-width="2"/>
<rect x="278.5" y="620" width="6.8" height="6.8" fill="none" stroke="#ea1c22" stroke-width="2"/>
<rect x="291.4" y="625.5" width="6.8" height="6.8" fill="none" stroke="#ea1c22" stroke-width="2"/>
<rect x="272" y="604.5" width="6.8" height="6.8" fill="none" stroke="#ea1c22" stroke-width="2"/>
<polygon points="419.1,584.6 422.4,590.7 415.8,590.7" fill="#0616cc" stroke="#0616cc" stroke-width="1.2" stroke-linejoin="round"/>
<polygon points="403.6,603.6 406.9,609.7 400.3,609.7" fill="#0616cc" stroke="#0616cc" stroke-width="1.2" stroke-linejoin="round"/>
<polygon points="411.7,604.6 415,610.7 408.4,610.7" fill="#0616cc" stroke="#0616cc" stroke-width="1.2" stroke-linejoin="round"/>
<polygon points="419.1,604.6 422.4,610.7 415.8,610.7" fill="#0616cc" stroke="#0616cc" stroke-width="1.2" stroke-linejoin="round"/>
<polygon points="426.9,603 430.2,609.1 423.6,609.1" fill="#0616cc" stroke="#0616cc" stroke-width="1.2" stroke-linejoin="round"/>
<polygon points="434.3,608.8 437.6,614.9 431,614.9" fill="#0616cc" stroke="#0616cc" stroke-width="1.2" stroke-linejoin="round"/>
<polygon points="419.1,620.1 422.4,626.2 415.8,626.2" fill="#0616cc" stroke="#0616cc" stroke-width="1.2" stroke-linejoin="round"/>
<rect x="454.5" y="586.8" width="8" height="8" fill="#ea1c22"/>
<rect x="461.6" y="584.5" width="8" height="8" fill="#ea1c22"/>
<rect x="469" y="589.4" width="8" height="8" fill="#ea1c22"/>
<rect x="475.5" y="590.3" width="8" height="8" fill="#ea1c22"/>
<rect x="444.8" y="594.2" width="8" height="8" fill="#ea1c22"/>
<rect x="451.3" y="596.5" width="8" height="8" fill="#ea1c22"/>
<rect x="457.7" y="599.1" width="8" height="8" fill="#ea1c22"/>
<rect x="464.2" y="594.2" width="8" height="8" fill="#ea1c22"/>
<rect x="461.6" y="611" width="8" height="8" fill="#ea1c22"/>
<rect x="454.5" y="600.7" width="8" height="8" fill="#ea1c22"/>
<rect x="469" y="592.6" width="8" height="8" fill="#ea1c22"/>
<polygon points="563.5,636.9 566.8,643 560.2,643" fill="#0616cc" stroke="#0616cc" stroke-width="1.2" stroke-linejoin="round"/>
<polygon points="537.6,645.9 540.9,652 534.3,652" fill="#0616cc" stroke="#0616cc" stroke-width="1.2" stroke-linejoin="round"/>
<polygon points="550.5,642.4 553.8,648.5 547.2,648.5" fill="#0616cc" stroke="#0616cc" stroke-width="1.2" stroke-linejoin="round"/>
<polygon points="545.7,656.3 549,662.4 542.4,662.4" fill="#0616cc" stroke="#0616cc" stroke-width="1.2" stroke-linejoin="round"/>
<polygon points="558,664.3 561.3,670.4 554.7,670.4" fill="#0616cc" stroke="#0616cc" stroke-width="1.2" stroke-linejoin="round"/>
<polygon points="550.5,681.1 553.8,687.2 547.2,687.2" fill="#0616cc" stroke="#0616cc" stroke-width="1.2" stroke-linejoin="round"/>
<polygon points="550.5,744.1 553.8,750.2 547.2,750.2" fill="#0616cc" stroke="#0616cc" stroke-width="1.2" stroke-linejoin="round"/>
<rect x="588.5" y="586.1" width="8" height="8" fill="#ea1c22"/>
<rect x="595.6" y="585.2" width="8" height="8" fill="#ea1c22"/>
<rect x="575.6" y="597.4" width="8" height="8" fill="#ea1c22"/>
<rect x="605.6" y="592.6" width="8" height="8" fill="#ea1c22"/>
<rect x="591.1" y="607.1" width="8" height="8" fill="#ea1c22"/>
<rect x="591.1" y="629.1" width="8" height="8" fill="#ea1c22"/>
<rect x="591.1" y="641.7" width="8" height="8" fill="#ea1c22"/>
<rect x="591.1" y="658.8" width="8" height="8" fill="#ea1c22"/>
<rect x="591.1" y="674.3" width="8" height="8" fill="#ea1c22"/>
<path d="M419.8 578.8V569.2H531.2V578.8" fill="none" stroke="#000" stroke-width="1.8"/>
<path d="M551.5 575V565.3H596.7V575" fill="none" stroke="#000" stroke-width="1.8"/>
<text font-size="25.5" letter-spacing="1.86" stroke="#000" stroke-width="0.7" x="469.4" y="571">**</text>
<text font-size="25.5" letter-spacing="1.86" stroke="#000" stroke-width="0.7" x="563.1" y="567.8">**</text>
<text font-size="21" letter-spacing="0.23" stroke="#000" stroke-width="0.3" x="434.2" y="544.9">P=0.001</text>
<text font-size="21" letter-spacing="0.21" stroke="#000" stroke-width="0.3" x="533.7" y="544">P=0.005</text>
<text font-size="21" font-weight="700" letter-spacing="0.30" stroke="#000" stroke-width="0.3" x="114.2" y="843.8">PRE</text>
<text font-size="21" font-weight="700" letter-spacing="0.21" stroke="#000" stroke-width="0.3" x="236.9" y="843.8">POST</text>
<text font-size="21" font-weight="700" letter-spacing="0.32" stroke="#000" stroke-width="0.3" x="170.5" y="875.1">SHAM</text>
<text font-size="21" font-weight="700" letter-spacing="0.30" stroke="#000" stroke-width="0.3" x="422.6" y="846">PRE</text>
<text font-size="21" font-weight="700" letter-spacing="0.11" stroke="#000" stroke-width="0.3" x="545" y="846">POST</text>
<text font-size="21" font-weight="700" letter-spacing="-0.24" stroke="#000" stroke-width="0.3" x="486.4" y="873.5">TAC</text>
<line x1="94.6" y1="851" x2="307.7" y2="851" stroke="#000" stroke-width="1.8"/>
<line x1="403.6" y1="851.7" x2="616.7" y2="851.7" stroke="#000" stroke-width="1.8"/>
<text font-size="23.5" font-weight="700" letter-spacing="0.32" stroke="#000" stroke-width="0.6" transform="translate(18.9 761.2) rotate(-90)">Ejection fraction (%)</text>
<polygon points="105.6,485.1 108.9,491.2 102.3,491.2" fill="none" stroke="#0616cc" stroke-width="2.1"/>
<text font-size="20.7" letter-spacing="0.52" stroke="#000" stroke-width="0.3" x="129.1" y="494.9">CTRL</text>
<rect x="225.9" y="485" width="6.8" height="6.8" fill="none" stroke="#ea1c22" stroke-width="2"/>
<text font-size="20.7" letter-spacing="1.17" stroke="#000" stroke-width="0.3" x="253.4" y="494.9">DKO</text>
<polygon points="393.3,484.5 396.6,490.6 390,490.6" fill="#0616cc" stroke="#0616cc" stroke-width="1.2" stroke-linejoin="round"/>
<text font-size="20.7" letter-spacing="0.52" stroke="#000" stroke-width="0.3" x="416.5" y="494.2">CTRL</text>
<rect x="515.2" y="483.8" width="8" height="8" fill="#ea1c22"/>
<text font-size="20.7" letter-spacing="0.68" stroke="#000" stroke-width="0.3" x="543.4" y="494.2">DKO</text>
<path d="M1799.6 809.5V708.6H1841.8V809.5" fill="#58a1ff" stroke="#0616cc" stroke-width="2.2"/>
<path d="M1854 809.5V727.8H1895.9V809.5" fill="#ff8080" stroke="#ea1c22" stroke-width="2.2"/>
<path d="M1963 809.5V640.9H2005.2V809.5" fill="#58a1ff" stroke="#0616cc" stroke-width="2.2"/>
<path d="M2017.4 809.5V709.4H2059.3V809.5" fill="#ff8080" stroke="#ea1c22" stroke-width="2.2"/>
<rect x="1771.3" y="470.6" width="318.4" height="338.8" fill="none" stroke="#000" stroke-width="2"/>
<line x1="1771.3" y1="538.3" x2="1780.3" y2="538.3" stroke="#000" stroke-width="1.8"/>
<text x="1767.8" y="545.7" font-size="21.3" font-weight="700" text-anchor="end" letter-spacing="-0.5" stroke="#000" stroke-width="0.4">800</text>
<line x1="1771.3" y1="606.5" x2="1780.3" y2="606.5" stroke="#000" stroke-width="1.8"/>
<text x="1767.8" y="613.8" font-size="21.3" font-weight="700" text-anchor="end" letter-spacing="-0.5" stroke="#000" stroke-width="0.4">600</text>
<line x1="1771.3" y1="674.4" x2="1780.3" y2="674.4" stroke="#000" stroke-width="1.8"/>
<text x="1767.8" y="681.8" font-size="21.3" font-weight="700" text-anchor="end" letter-spacing="-0.5" stroke="#000" stroke-width="0.4">400</text>
<line x1="1771.3" y1="742.6" x2="1780.3" y2="742.6" stroke="#000" stroke-width="1.8"/>
<text x="1767.8" y="749.9" font-size="21.3" font-weight="700" text-anchor="end" letter-spacing="-0.5" stroke="#000" stroke-width="0.4">200</text>
<path d="M1815.6 705.6H1826.6M1815.6 710.2H1826.6M1821.1 705.6V710.2" fill="none" stroke="#0616cc" stroke-width="1.8"/>
<path d="M1869.7 722.9H1880.7M1869.7 731.1H1880.7M1875.2 722.9V731.1" fill="none" stroke="#ea1c22" stroke-width="1.8"/>
<path d="M1978.7 622.8H1989.7M1978.7 657.6H1989.7M1984.2 622.8V657.6" fill="none" stroke="#0616cc" stroke-width="1.8"/>
<path d="M2032.6 701.7H2043.6M2032.6 714.5H2043.6M2038.1 701.7V714.5" fill="none" stroke="#ea1c22" stroke-width="1.8"/>
<polygon points="1803.7,703.5 1807,709.6 1800.4,709.6" fill="#0616cc" stroke="#0616cc" stroke-width="1.2" stroke-linejoin="round"/>
<polygon points="1821.1,694.1 1824.4,700.2 1817.8,700.2" fill="none" stroke="#0616cc" stroke-width="2.1"/>
<polygon points="1815.2,709.4 1818.5,715.5 1811.9,715.5" fill="none" stroke="#0616cc" stroke-width="2.1"/>
<polygon points="1826.7,709.4 1830,715.5 1823.4,715.5" fill="none" stroke="#0616cc" stroke-width="2.1"/>
<polygon points="1838.2,709.4 1841.5,715.5 1834.9,715.5" fill="none" stroke="#0616cc" stroke-width="2.1"/>
<rect x="1854.7" y="716.7" width="6.8" height="6.8" fill="none" stroke="#ea1c22" stroke-width="2"/>
<rect x="1865.9" y="718.2" width="6.8" height="6.8" fill="none" stroke="#ea1c22" stroke-width="2"/>
<rect x="1877.4" y="720.5" width="6.8" height="6.8" fill="none" stroke="#ea1c22" stroke-width="2"/>
<rect x="1888.4" y="712.4" width="6.8" height="6.8" fill="none" stroke="#ea1c22" stroke-width="2"/>
<rect x="1871.8" y="725.1" width="6.8" height="6.8" fill="none" stroke="#ea1c22" stroke-width="2"/>
<rect x="1865.9" y="732" width="6.8" height="6.8" fill="none" stroke="#ea1c22" stroke-width="2"/>
<rect x="1877.4" y="739.7" width="6.8" height="6.8" fill="none" stroke="#ea1c22" stroke-width="2"/>
<polygon points="1980.7,605.2 1984,611.3 1977.4,611.3" fill="#0616cc" stroke="#0616cc" stroke-width="1.2" stroke-linejoin="round"/>
<polygon points="1988.1,609.1 1991.4,615.2 1984.8,615.2" fill="#0616cc" stroke="#0616cc" stroke-width="1.2" stroke-linejoin="round"/>
<polygon points="1980.7,665.2 1984,671.3 1977.4,671.3" fill="#0616cc" stroke="#0616cc" stroke-width="1.2" stroke-linejoin="round"/>
<polygon points="1988.1,668.6 1991.4,674.7 1984.8,674.7" fill="#0616cc" stroke="#0616cc" stroke-width="1.2" stroke-linejoin="round"/>
<rect x="2034.1" y="675.3" width="8" height="8" fill="#ea1c22"/>
<rect x="2034.1" y="695.9" width="8" height="8" fill="#ea1c22"/>
<rect x="2018" y="709.7" width="8" height="8" fill="#ea1c22"/>
<rect x="2034.1" y="710.5" width="8" height="8" fill="#ea1c22"/>
<rect x="2049.4" y="711.3" width="8" height="8" fill="#ea1c22"/>
<rect x="2034.1" y="724" width="8" height="8" fill="#ea1c22"/>
<path d="M1870.9 557.5V544.7H2045V557.5" fill="none" stroke="#000" stroke-width="1.8"/>
<path d="M1985.8 599.6V588.1H2044.3V599.6" fill="none" stroke="#000" stroke-width="1.8"/>
<path d="M1819 687.7V677H1879.8V687.7" fill="none" stroke="#000" stroke-width="1.8"/>
<text font-size="25.5" stroke="#000" stroke-width="0.7" x="1920.3" y="548.9">*</text>
<text font-size="25.5" letter-spacing="1.81" stroke="#000" stroke-width="0.7" x="1962.9" y="591">**</text>
<text font-size="25.5" letter-spacing="1.81" stroke="#000" stroke-width="0.7" x="1795.2" y="675.3">**</text>
<text font-size="21" letter-spacing="0.32" stroke="#000" stroke-width="0.3" x="1945" y="538.3">P=0.04</text>
<text font-size="21" letter-spacing="0.44" stroke="#000" stroke-width="0.3" x="1994.8" y="579.2">P=0.002</text>
<text font-size="21" letter-spacing="0.49" stroke="#000" stroke-width="0.3" x="1822.5" y="666">P=0.006</text>
<text font-size="21" font-weight="700" letter-spacing="-0.80" stroke="#000" stroke-width="0.3" x="1793.4" y="841.2">CTRL</text>
<text font-size="21" font-weight="700" letter-spacing="-0.25" stroke="#000" stroke-width="0.3" x="1851.6" y="841.2">DKO</text>
<text font-size="21" font-weight="700" letter-spacing="0.09" stroke="#000" stroke-width="0.3" x="1817.1" y="874.9">SHAM</text>
<text font-size="21" font-weight="700" letter-spacing="-0.89" stroke="#000" stroke-width="0.3" x="1956.6" y="841.2">CTRL</text>
<text font-size="21" font-weight="700" letter-spacing="-0.25" stroke="#000" stroke-width="0.3" x="2015.1" y="841.2">DKO</text>
<text font-size="21" font-weight="700" stroke="#000" stroke-width="0.3" x="1993" y="874.9">TAC</text>
<line x1="1792.2" y1="849.1" x2="1900" y2="849.1" stroke="#000" stroke-width="1.8"/>
<line x1="1954.4" y1="849.1" x2="2062.1" y2="849.1" stroke="#000" stroke-width="1.8"/>
<text font-size="24.5" letter-spacing="0.16" stroke="#000" stroke-width="0.6" transform="translate(1711.2 720.8) rotate(-90)">Cell size ( <tspan font-family="'Liberation Serif',serif">μ</tspan><tspan font-weight="700">M</tspan><tspan font-size="16.2" font-weight="700" dy="-9.8">2</tspan><tspan dy="9.8">)</tspan></text>
<path d="M771.2 1282.9V1092.3H813.6V1282.9" fill="#58a1ff" stroke="#0616cc" stroke-width="2.2"/>
<path d="M825.5 1282.9V1108H867.9V1282.9" fill="#ff8080" stroke="#ea1c22" stroke-width="2.2"/>
<rect x="578.7" y="943.1" width="318.4" height="339.8" fill="none" stroke="#000" stroke-width="2"/>
<line x1="578.7" y1="1027.9" x2="587.7" y2="1027.9" stroke="#000" stroke-width="1.8"/>
<text x="575.2" y="1035.2" font-size="21.3" font-weight="700" text-anchor="end" letter-spacing="-0.5" stroke="#000" stroke-width="0.4">300</text>
<line x1="578.7" y1="1112.7" x2="587.7" y2="1112.7" stroke="#000" stroke-width="1.8"/>
<text x="575.2" y="1120.1" font-size="21.3" font-weight="700" text-anchor="end" letter-spacing="-0.5" stroke="#000" stroke-width="0.4">200</text>
<line x1="578.7" y1="1198.1" x2="587.7" y2="1198.1" stroke="#000" stroke-width="1.8"/>
<text x="575.2" y="1205.4" font-size="21.3" font-weight="700" text-anchor="end" letter-spacing="-0.5" stroke="#000" stroke-width="0.4">100</text>
<path d="M786.9 1072.8H797.9M786.9 1109.6H797.9M792.4 1072.8V1109.6" fill="none" stroke="#0616cc" stroke-width="1.8"/>
<path d="M841.7 1089.7H852.7M841.7 1127.6H852.7M847.2 1089.7V1127.6" fill="none" stroke="#ea1c22" stroke-width="1.8"/>
<polygon points="611,1279.6 614.3,1285.7 607.7,1285.7" fill="none" stroke="#0616cc" stroke-width="2.1"/>
<polygon points="618.3,1279.6 621.6,1285.7 615,1285.7" fill="none" stroke="#0616cc" stroke-width="2.1"/>
<polygon points="625.6,1279.6 628.9,1285.7 622.3,1285.7" fill="none" stroke="#0616cc" stroke-width="2.1"/>
<polygon points="633,1279.6 636.3,1285.7 629.7,1285.7" fill="none" stroke="#0616cc" stroke-width="2.1"/>
<polygon points="640.3,1279.6 643.6,1285.7 637,1285.7" fill="none" stroke="#0616cc" stroke-width="2.1"/>
<polygon points="647.6,1279.6 650.9,1285.7 644.3,1285.7" fill="none" stroke="#0616cc" stroke-width="2.1"/>
<rect x="661.3" y="1278.9" width="8" height="8" fill="#ea1c22"/>
<rect x="668.6" y="1278.9" width="8" height="8" fill="#ea1c22"/>
<rect x="675.9" y="1278.9" width="8" height="8" fill="#ea1c22"/>
<rect x="683.2" y="1278.9" width="8" height="8" fill="#ea1c22"/>
<rect x="690.6" y="1278.9" width="8" height="8" fill="#ea1c22"/>
<rect x="698.6" y="1278.9" width="8" height="8" fill="#ea1c22"/>
<polygon points="796.6,1036.8 799.9,1043 793.3,1043" fill="#0616cc" stroke="#0616cc" stroke-width="1.2" stroke-linejoin="round"/>
<polygon points="788.5,1044.9 791.8,1051 785.2,1051" fill="#0616cc" stroke="#0616cc" stroke-width="1.2" stroke-linejoin="round"/>
<polygon points="790.6,1092.4 793.9,1098.5 787.3,1098.5" fill="#0616cc" stroke="#0616cc" stroke-width="1.2" stroke-linejoin="round"/>
<polygon points="796.6,1104.2 799.9,1110.3 793.3,1110.3" fill="#0616cc" stroke="#0616cc" stroke-width="1.2" stroke-linejoin="round"/>
<polygon points="792.4,1160.3 795.7,1166.4 789.1,1166.4" fill="#0616cc" stroke="#0616cc" stroke-width="1.2" stroke-linejoin="round"/>
<rect x="843.2" y="1029.1" width="8" height="8" fill="#ea1c22"/>
<rect x="839.6" y="1082.6" width="8" height="8" fill="#ea1c22"/>
<rect x="847.2" y="1084.4" width="8" height="8" fill="#ea1c22"/>
<rect x="843.2" y="1104.8" width="8" height="8" fill="#ea1c22"/>
<rect x="843.2" y="1141.9" width="8" height="8" fill="#ea1c22"/>
<rect x="843.2" y="1177.1" width="8" height="8" fill="#ea1c22"/>
<path d="M786.7 1021.9V1010.4H845.4V1021.9" fill="none" stroke="#000" stroke-width="1.8"/>
<text font-size="21" letter-spacing="0.57" stroke="#000" stroke-width="0.3" x="779" y="984.3">P=0.59</text>
<text font-size="21" font-style="italic" letter-spacing="1.42" stroke="#000" stroke-width="0.3" x="804.1" y="1005.2">n.s.</text>
<text font-size="21" font-weight="700" letter-spacing="-0.94" stroke="#000" stroke-width="0.3" x="601.8" y="1313.2">CTRL</text>
<text font-size="21" font-weight="700" letter-spacing="-0.02" stroke="#000" stroke-width="0.3" x="660" y="1313.2">DKO</text>
<text font-size="21" font-weight="700" letter-spacing="0.36" stroke="#000" stroke-width="0.3" x="613" y="1345.8">SHAM</text>
<text font-size="21" font-weight="700" letter-spacing="-0.76" stroke="#000" stroke-width="0.3" x="765" y="1313.2">CTRL</text>
<text font-size="21" font-weight="700" letter-spacing="-0.02" stroke="#000" stroke-width="0.3" x="823.2" y="1313.2">DKO</text>
<text font-size="21" font-weight="700" letter-spacing="1.01" stroke="#000" stroke-width="0.3" x="771" y="1345.8">Exercise</text>
<line x1="600.6" y1="1321" x2="708.4" y2="1321" stroke="#000" stroke-width="1.8"/>
<line x1="763.7" y1="1321" x2="870.2" y2="1321" stroke="#000" stroke-width="1.8"/>
<text font-size="33" font-weight="700" stroke="#000" stroke-width="0.5" x="535.1" y="961.3">k</text>
<text font-size="24.5" letter-spacing="0.45" stroke="#000" stroke-width="0.6" transform="translate(519.6 1242.6) rotate(-90)">Running distance (km)</text>
<path d="M1020.5 1281.8V1083.2H1062.9V1281.8" fill="#58a1ff" stroke="#0616cc" stroke-width="2.2"/>
<path d="M1074.6 1281.8V1094.4H1116.9V1281.8" fill="#ff8080" stroke="#ea1c22" stroke-width="2.2"/>
<path d="M1183.4 1281.8V1038H1225.8V1281.8" fill="#58a1ff" stroke="#0616cc" stroke-width="2.2"/>
<path d="M1237.7 1281.8V1070.9H1280.1V1281.8" fill="#ff8080" stroke="#ea1c22" stroke-width="2.2"/>
<rect x="990.8" y="941.7" width="319.5" height="340.1" fill="none" stroke="#000" stroke-width="2"/>
<line x1="990.8" y1="1055.8" x2="999.8" y2="1055.8" stroke="#000" stroke-width="1.8"/>
<text x="987.3" y="1063.2" font-size="21.3" font-weight="700" text-anchor="end" letter-spacing="-0.5" stroke="#000" stroke-width="0.4">100</text>
<line x1="990.8" y1="1168.8" x2="999.8" y2="1168.8" stroke="#000" stroke-width="1.8"/>
<text x="987.3" y="1176.2" font-size="21.3" font-weight="700" text-anchor="end" letter-spacing="-0.5" stroke="#000" stroke-width="0.4">50</text>
<path d="M1036.2 1073.6H1047.2M1036.2 1091.8H1047.2M1041.7 1073.6V1091.8" fill="none" stroke="#0616cc" stroke-width="1.8"/>
<path d="M1090.8 1083.5H1101.8M1090.8 1103.6H1101.8M1096.3 1083.5V1103.6" fill="none" stroke="#ea1c22" stroke-width="1.8"/>
<path d="M1199.1 1030.5H1210.1M1199.1 1044.3H1210.1M1204.6 1030.5V1044.3" fill="none" stroke="#0616cc" stroke-width="1.8"/>
<path d="M1253.4 1063.6H1264.4M1253.4 1076.2H1264.4M1258.9 1063.6V1076.2" fill="none" stroke="#ea1c22" stroke-width="1.8"/>
<polygon points="1041.7,1049.4 1045,1055.5 1038.4,1055.5" fill="none" stroke="#0616cc" stroke-width="2.1"/>
<polygon points="1041.7,1061.1 1045,1067.2 1038.4,1067.2" fill="none" stroke="#0616cc" stroke-width="2.1"/>
<polygon points="1041.7,1076 1045,1082.1 1038.4,1082.1" fill="none" stroke="#0616cc" stroke-width="2.1"/>
<polygon points="1037.8,1091.7 1041.1,1097.8 1034.5,1097.8" fill="none" stroke="#0616cc" stroke-width="2.1"/>
<polygon points="1045.6,1091.7 1048.9,1097.8 1042.3,1097.8" fill="none" stroke="#0616cc" stroke-width="2.1"/>
<polygon points="1041.7,1105 1045,1111.1 1038.4,1111.1" fill="none" stroke="#0616cc" stroke-width="2.1"/>
<rect x="1092.9" y="1031.5" width="6.8" height="6.8" fill="none" stroke="#ea1c22" stroke-width="2"/>
<rect x="1092.9" y="1042" width="6.8" height="6.8" fill="none" stroke="#ea1c22" stroke-width="2"/>
<rect x="1085.1" y="1088.9" width="6.8" height="6.8" fill="none" stroke="#ea1c22" stroke-width="2"/>
<rect x="1100.2" y="1091.6" width="6.8" height="6.8" fill="none" stroke="#ea1c22" stroke-width="2"/>
<rect x="1108" y="1097.6" width="6.8" height="6.8" fill="none" stroke="#ea1c22" stroke-width="2"/>
<rect x="1077.2" y="1102.8" width="6.8" height="6.8" fill="none" stroke="#ea1c22" stroke-width="2"/>
<rect x="1092.9" y="1102" width="6.8" height="6.8" fill="none" stroke="#ea1c22" stroke-width="2"/>
<rect x="1077.2" y="1111.9" width="6.8" height="6.8" fill="none" stroke="#ea1c22" stroke-width="2"/>
<rect x="1092.9" y="1113.7" width="6.8" height="6.8" fill="none" stroke="#ea1c22" stroke-width="2"/>
<rect x="1108" y="1115.8" width="6.8" height="6.8" fill="none" stroke="#ea1c22" stroke-width="2"/>
<polygon points="1204.6,1008.1 1207.9,1014.2 1201.3,1014.2" fill="#0616cc" stroke="#0616cc" stroke-width="1.2" stroke-linejoin="round"/>
<polygon points="1200.7,1019.9 1204,1026 1197.4,1026" fill="#0616cc" stroke="#0616cc" stroke-width="1.2" stroke-linejoin="round"/>
<polygon points="1208.5,1027.2 1211.8,1033.3 1205.2,1033.3" fill="#0616cc" stroke="#0616cc" stroke-width="1.2" stroke-linejoin="round"/>
<polygon points="1200.7,1046.2 1204,1052.3 1197.4,1052.3" fill="#0616cc" stroke="#0616cc" stroke-width="1.2" stroke-linejoin="round"/>
<polygon points="1204.6,1046.2 1207.9,1052.3 1201.3,1052.3" fill="#0616cc" stroke="#0616cc" stroke-width="1.2" stroke-linejoin="round"/>
<polygon points="1208.5,1055.9 1211.8,1062 1205.2,1062" fill="#0616cc" stroke="#0616cc" stroke-width="1.2" stroke-linejoin="round"/>
<rect x="1258.8" y="1046.8" width="8" height="8" fill="#ea1c22"/>
<rect x="1251" y="1053.9" width="8" height="8" fill="#ea1c22"/>
<rect x="1258.8" y="1067.7" width="8" height="8" fill="#ea1c22"/>
<rect x="1251" y="1078.2" width="8" height="8" fill="#ea1c22"/>
<rect x="1258.8" y="1084.4" width="8" height="8" fill="#ea1c22"/>
<path d="M1200.9 1002.6V991.3H1259.7V1002.6" fill="none" stroke="#000" stroke-width="1.8"/>
<text font-size="25.5" letter-spacing="1.76" stroke="#000" stroke-width="0.7" x="1185.4" y="991.4">**</text>
<text font-size="21" letter-spacing="0.48" stroke="#000" stroke-width="0.3" x="1214.7" y="982.2">P=0.006</text>
<text font-size="21" font-weight="700" letter-spacing="-0.59" stroke="#000" stroke-width="0.3" x="1013.5" y="1312.4">CTRL</text>
<text font-size="21" font-weight="700" letter-spacing="-0.02" stroke="#000" stroke-width="0.3" x="1072.2" y="1312.4">DKO</text>
<text font-size="21" font-weight="700" letter-spacing="0.27" stroke="#000" stroke-width="0.3" x="1036.4" y="1345.8">SHAM</text>
<text font-size="21" font-weight="700" letter-spacing="-0.85" stroke="#000" stroke-width="0.3" x="1176.6" y="1312.4">CTRL</text>
<text font-size="21" font-weight="700" letter-spacing="-0.28" stroke="#000" stroke-width="0.3" x="1235.3" y="1312.4">DKO</text>
<text font-size="21" font-weight="700" letter-spacing="1.01" stroke="#000" stroke-width="0.3" x="1187.1" y="1345.8">Exercise</text>
<line x1="1012.8" y1="1320.2" x2="1119.8" y2="1320.2" stroke="#000" stroke-width="1.8"/>
<line x1="1178" y1="1320.2" x2="1285.8" y2="1320.2" stroke="#000" stroke-width="1.8"/>
<text font-size="33" font-weight="700" stroke="#000" stroke-width="0.5" x="951.2" y="962.6">l</text>
<text font-size="24.5" letter-spacing="0.37" stroke="#000" stroke-width="0.6" transform="translate(933.1 1213.9) rotate(-90)">Heart weight (mg)</text>
<path d="M1409.3 1278.5V1092.8H1451.7V1278.5" fill="#58a1ff" stroke="#0616cc" stroke-width="2.2"/>
<path d="M1463.3 1278.5V1096.8H1506V1278.5" fill="#ff8080" stroke="#ea1c22" stroke-width="2.2"/>
<path d="M1572.5 1278.5V1061.8H1614.8V1278.5" fill="#58a1ff" stroke="#0616cc" stroke-width="2.2"/>
<path d="M1626.7 1278.5V1085.8H1669.1V1278.5" fill="#ff8080" stroke="#ea1c22" stroke-width="2.2"/>
<rect x="1379.6" y="939.9" width="319.2" height="338.5" fill="none" stroke="#000" stroke-width="2"/>
<line x1="1379.6" y1="1025.3" x2="1388.6" y2="1025.3" stroke="#000" stroke-width="1.8"/>
<text x="1376.1" y="1032.6" font-size="21.3" font-weight="700" text-anchor="end" letter-spacing="-0.5" stroke="#000" stroke-width="0.4">6</text>
<line x1="1379.6" y1="1110.1" x2="1388.6" y2="1110.1" stroke="#000" stroke-width="1.8"/>
<text x="1376.1" y="1117.4" font-size="21.3" font-weight="700" text-anchor="end" letter-spacing="-0.5" stroke="#000" stroke-width="0.4">4</text>
<line x1="1379.6" y1="1194.1" x2="1388.6" y2="1194.1" stroke="#000" stroke-width="1.8"/>
<text x="1376.1" y="1201.5" font-size="21.3" font-weight="700" text-anchor="end" letter-spacing="-0.5" stroke="#000" stroke-width="0.4">2</text>
<path d="M1424.5 1088.4H1435.5M1424.5 1095.7H1435.5M1430 1088.4V1095.7" fill="none" stroke="#0616cc" stroke-width="1.8"/>
<path d="M1479.3 1093.9H1490.3M1479.3 1098.4H1490.3M1484.8 1093.9V1098.4" fill="none" stroke="#ea1c22" stroke-width="1.8"/>
<path d="M1588.1 1059.2H1599.1M1588.1 1063.6H1599.1M1593.6 1059.2V1063.6" fill="none" stroke="#0616cc" stroke-width="1.8"/>
<path d="M1642.4 1080.9H1653.4M1642.4 1089.7H1653.4M1647.9 1080.9V1089.7" fill="none" stroke="#ea1c22" stroke-width="1.8"/>
<polygon points="1412.8,1082.5 1416.1,1088.6 1409.5,1088.6" fill="none" stroke="#0616cc" stroke-width="2.1"/>
<polygon points="1430,1078.1 1433.3,1084.2 1426.7,1084.2" fill="none" stroke="#0616cc" stroke-width="2.1"/>
<polygon points="1426.1,1086.4 1429.4,1092.5 1422.8,1092.5" fill="none" stroke="#0616cc" stroke-width="2.1"/>
<polygon points="1433.1,1086.4 1436.4,1092.5 1429.8,1092.5" fill="none" stroke="#0616cc" stroke-width="2.1"/>
<polygon points="1448,1091.7 1451.3,1097.8 1444.7,1097.8" fill="none" stroke="#0616cc" stroke-width="2.1"/>
<polygon points="1430,1106.3 1433.3,1112.4 1426.7,1112.4" fill="none" stroke="#0616cc" stroke-width="2.1"/>
<rect x="1481.4" y="1076.7" width="6.8" height="6.8" fill="none" stroke="#ea1c22" stroke-width="2"/>
<rect x="1476.2" y="1083.2" width="6.8" height="6.8" fill="none" stroke="#ea1c22" stroke-width="2"/>
<rect x="1467" y="1091" width="6.8" height="6.8" fill="none" stroke="#ea1c22" stroke-width="2"/>
<rect x="1485.8" y="1090.5" width="6.8" height="6.8" fill="none" stroke="#ea1c22" stroke-width="2"/>
<rect x="1495" y="1091" width="6.8" height="6.8" fill="none" stroke="#ea1c22" stroke-width="2"/>
<rect x="1463.6" y="1095" width="6.8" height="6.8" fill="none" stroke="#ea1c22" stroke-width="2"/>
<rect x="1471.5" y="1097.6" width="6.8" height="6.8" fill="none" stroke="#ea1c22" stroke-width="2"/>
<rect x="1480.6" y="1097.6" width="6.8" height="6.8" fill="none" stroke="#ea1c22" stroke-width="2"/>
<rect x="1489.7" y="1101" width="6.8" height="6.8" fill="none" stroke="#ea1c22" stroke-width="2"/>
<rect x="1498.9" y="1101" width="6.8" height="6.8" fill="none" stroke="#ea1c22" stroke-width="2"/>
<polygon points="1593.6,1042.9 1596.9,1049 1590.3,1049" fill="#0616cc" stroke="#0616cc" stroke-width="1.2" stroke-linejoin="round"/>
<polygon points="1586.3,1055.1 1589.6,1061.2 1583,1061.2" fill="#0616cc" stroke="#0616cc" stroke-width="1.2" stroke-linejoin="round"/>
<polygon points="1600.2,1056.4 1603.5,1062.5 1596.9,1062.5" fill="#0616cc" stroke="#0616cc" stroke-width="1.2" stroke-linejoin="round"/>
<polygon points="1578.8,1060.3 1582.1,1066.4 1575.5,1066.4" fill="#0616cc" stroke="#0616cc" stroke-width="1.2" stroke-linejoin="round"/>
<polygon points="1593.6,1066.3 1596.9,1072.4 1590.3,1072.4" fill="#0616cc" stroke="#0616cc" stroke-width="1.2" stroke-linejoin="round"/>
<polygon points="1608.5,1069 1611.8,1075.1 1605.2,1075.1" fill="#0616cc" stroke="#0616cc" stroke-width="1.2" stroke-linejoin="round"/>
<rect x="1651.5" y="1067.7" width="8" height="8" fill="#ea1c22"/>
<rect x="1635.8" y="1073.5" width="8" height="8" fill="#ea1c22"/>
<rect x="1628" y="1077.4" width="8" height="8" fill="#ea1c22"/>
<rect x="1643.9" y="1083.4" width="8" height="8" fill="#ea1c22"/>
<rect x="1659.6" y="1084.7" width="8" height="8" fill="#ea1c22"/>
<rect x="1643.9" y="1096.4" width="8" height="8" fill="#ea1c22"/>
<path d="M1472.3 987.4V976.2H1654.2V987.4" fill="none" stroke="#000" stroke-width="1.8"/>
<path d="M1420.6 1021.4V1009.6H1594.4V1021.4" fill="none" stroke="#000" stroke-width="1.8"/>
<path d="M1594.4 1037V1026.1H1653.7V1037" fill="none" stroke="#000" stroke-width="1.8"/>
<text font-size="25.5" stroke="#000" stroke-width="0.7" x="1517.5" y="975.8">*</text>
<text font-size="25.5" letter-spacing="2.04" stroke="#000" stroke-width="0.7" x="1441.9" y="1011.5">***</text>
<text font-size="25.5" letter-spacing="1.76" stroke="#000" stroke-width="0.7" x="1620.1" y="1029.3">**</text>
<text font-size="21" letter-spacing="0.33" stroke="#000" stroke-width="0.3" x="1539.8" y="968.6">P=0.02</text>
<text font-size="21" letter-spacing="0.59" stroke="#000" stroke-width="0.3" x="1488.3" y="1002.3">P=0.0002</text>
<text font-size="21" letter-spacing="0.15" stroke="#000" stroke-width="0.3" x="1603.7" y="1008.3">P=0.001</text>
<text font-size="21" font-weight="700" letter-spacing="-0.76" stroke="#000" stroke-width="0.3" x="1402.8" y="1309.3">CTRL</text>
<text font-size="21" font-weight="700" letter-spacing="0.37" stroke="#000" stroke-width="0.3" x="1461" y="1309.3">DKO</text>
<text font-size="21" font-weight="700" letter-spacing="0.27" stroke="#000" stroke-width="0.3" x="1423.4" y="1344.5">SHAM</text>
<text font-size="21" font-weight="700" letter-spacing="-0.59" stroke="#000" stroke-width="0.3" x="1565.4" y="1309.3">CTRL</text>
<text font-size="21" font-weight="700" letter-spacing="0.24" stroke="#000" stroke-width="0.3" x="1624.4" y="1309.3">DKO</text>
<text font-size="21" font-weight="700" letter-spacing="0.82" stroke="#000" stroke-width="0.3" x="1577.9" y="1344.5">Exercise</text>
<line x1="1399.2" y1="1318.1" x2="1506.2" y2="1318.1" stroke="#000" stroke-width="1.8"/>
<line x1="1565.7" y1="1318.1" x2="1671.9" y2="1318.1" stroke="#000" stroke-width="1.8"/>
<text font-size="33" font-weight="700" stroke="#000" stroke-width="0.5" x="1331.8" y="957.4">m</text>
<text font-size="24.5" letter-spacing="-0.32" stroke="#000" stroke-width="0.6" transform="translate(1344.9 1203.4) rotate(-90)">HW/ BW (mg g <tspan font-size="15.7" font-weight="700" dy="-12.2">-1</tspan><tspan dy="12.2"> )</tspan></text>
<path d="M1800.9 1277.7V1091.5H1843.3V1277.7" fill="#58a1ff" stroke="#0616cc" stroke-width="2.2"/>
<path d="M1855.2 1277.7V1103.3H1897.6V1277.7" fill="#ff8080" stroke="#ea1c22" stroke-width="2.2"/>
<path d="M1964.1 1277.7V1053.2H2006.4V1277.7" fill="#58a1ff" stroke="#0616cc" stroke-width="2.2"/>
<path d="M2018.4 1277.7V1081.1H2060.7V1277.7" fill="#ff8080" stroke="#ea1c22" stroke-width="2.2"/>
<rect x="1771.7" y="939.1" width="319.2" height="338.5" fill="none" stroke="#000" stroke-width="2"/>
<line x1="1771.7" y1="1007" x2="1780.7" y2="1007" stroke="#000" stroke-width="1.8"/>
<text x="1768.2" y="1014.3" font-size="21.3" font-weight="700" text-anchor="end" letter-spacing="-0.5" stroke="#000" stroke-width="0.4">8</text>
<line x1="1771.7" y1="1074.3" x2="1780.7" y2="1074.3" stroke="#000" stroke-width="1.8"/>
<text x="1768.2" y="1081.7" font-size="21.3" font-weight="700" text-anchor="end" letter-spacing="-0.5" stroke="#000" stroke-width="0.4">6</text>
<line x1="1771.7" y1="1142.7" x2="1780.7" y2="1142.7" stroke="#000" stroke-width="1.8"/>
<text x="1768.2" y="1150.1" font-size="21.3" font-weight="700" text-anchor="end" letter-spacing="-0.5" stroke="#000" stroke-width="0.4">4</text>
<line x1="1771.7" y1="1209.8" x2="1780.7" y2="1209.8" stroke="#000" stroke-width="1.8"/>
<text x="1768.2" y="1217.2" font-size="21.3" font-weight="700" text-anchor="end" letter-spacing="-0.5" stroke="#000" stroke-width="0.4">2</text>
<path d="M1816.6 1084.8H1827.6M1816.6 1097.6H1827.6M1822.1 1084.8V1097.6" fill="none" stroke="#0616cc" stroke-width="1.8"/>
<path d="M1870.9 1095.7H1881.9M1870.9 1110.1H1881.9M1876.4 1095.7V1110.1" fill="none" stroke="#ea1c22" stroke-width="1.8"/>
<path d="M1979.7 1045.6H1990.7M1979.7 1059.7H1990.7M1985.2 1045.6V1059.7" fill="none" stroke="#0616cc" stroke-width="1.8"/>
<path d="M2033.8 1074.9H2044.8M2033.8 1086.6H2044.8M2039.3 1074.9V1086.6" fill="none" stroke="#ea1c22" stroke-width="1.8"/>
<polygon points="1826,1066.9 1829.3,1073 1822.7,1073" fill="none" stroke="#0616cc" stroke-width="2.1"/>
<polygon points="1818.2,1075.5 1821.5,1081.6 1814.9,1081.6" fill="none" stroke="#0616cc" stroke-width="2.1"/>
<polygon points="1822.1,1089.8 1825.4,1095.9 1818.8,1095.9" fill="none" stroke="#0616cc" stroke-width="2.1"/>
<polygon points="1818.2,1095.1 1821.5,1101.2 1814.9,1101.2" fill="none" stroke="#0616cc" stroke-width="2.1"/>
<polygon points="1826,1093.2 1829.3,1099.3 1822.7,1099.3" fill="none" stroke="#0616cc" stroke-width="2.1"/>
<polygon points="1826,1104.2 1829.3,1110.3 1822.7,1110.3" fill="none" stroke="#0616cc" stroke-width="2.1"/>
<rect x="1873" y="1053.2" width="6.8" height="6.8" fill="none" stroke="#ea1c22" stroke-width="2"/>
<rect x="1873" y="1063.1" width="6.8" height="6.8" fill="none" stroke="#ea1c22" stroke-width="2"/>
<rect x="1878.7" y="1102" width="6.8" height="6.8" fill="none" stroke="#ea1c22" stroke-width="2"/>
<rect x="1867.8" y="1103.6" width="6.8" height="6.8" fill="none" stroke="#ea1c22" stroke-width="2"/>
<rect x="1856.6" y="1105.4" width="6.8" height="6.8" fill="none" stroke="#ea1c22" stroke-width="2"/>
<rect x="1889.2" y="1103.6" width="6.8" height="6.8" fill="none" stroke="#ea1c22" stroke-width="2"/>
<rect x="1856.6" y="1112.7" width="6.8" height="6.8" fill="none" stroke="#ea1c22" stroke-width="2"/>
<rect x="1867.8" y="1113.2" width="6.8" height="6.8" fill="none" stroke="#ea1c22" stroke-width="2"/>
<rect x="1878.7" y="1117.9" width="6.8" height="6.8" fill="none" stroke="#ea1c22" stroke-width="2"/>
<rect x="1890" y="1119.7" width="6.8" height="6.8" fill="none" stroke="#ea1c22" stroke-width="2"/>
<polygon points="1985.2,1026.4 1988.5,1032.5 1981.9,1032.5" fill="#0616cc" stroke="#0616cc" stroke-width="1.2" stroke-linejoin="round"/>
<polygon points="1985.2,1036.8 1988.5,1043 1981.9,1043" fill="#0616cc" stroke="#0616cc" stroke-width="1.2" stroke-linejoin="round"/>
<polygon points="1982.1,1047.3 1985.4,1053.4 1978.8,1053.4" fill="#0616cc" stroke="#0616cc" stroke-width="1.2" stroke-linejoin="round"/>
<polygon points="1989.2,1054.6 1992.5,1060.7 1985.9,1060.7" fill="#0616cc" stroke="#0616cc" stroke-width="1.2" stroke-linejoin="round"/>
<polygon points="1981.3,1060.6 1984.6,1066.7 1978,1066.7" fill="#0616cc" stroke="#0616cc" stroke-width="1.2" stroke-linejoin="round"/>
<polygon points="1989.2,1070.3 1992.5,1076.4 1985.9,1076.4" fill="#0616cc" stroke="#0616cc" stroke-width="1.2" stroke-linejoin="round"/>
<rect x="2039.2" y="1059.9" width="8" height="8" fill="#ea1c22"/>
<rect x="2031.4" y="1068.3" width="8" height="8" fill="#ea1c22"/>
<rect x="2039.2" y="1078.2" width="8" height="8" fill="#ea1c22"/>
<rect x="2031.4" y="1085.2" width="8" height="8" fill="#ea1c22"/>
<rect x="2031.4" y="1087.8" width="8" height="8" fill="#ea1c22"/>
<rect x="2039.2" y="1091.7" width="8" height="8" fill="#ea1c22"/>
<path d="M1860 974.4V963.1H2041.9V974.4" fill="none" stroke="#000" stroke-width="1.8"/>
<path d="M1808.3 1008.3V997.3H1982.1V1008.3" fill="none" stroke="#000" stroke-width="1.8"/>
<path d="M1982.1 1024V1013H2041.4V1024" fill="none" stroke="#000" stroke-width="1.8"/>
<text font-size="25.5" stroke="#000" stroke-width="0.7" x="1903.9" y="967.4">*</text>
<text font-size="25.5" letter-spacing="2.50" stroke="#000" stroke-width="0.7" x="1839" y="998.7">**</text>
<text font-size="25.5" letter-spacing="2.28" stroke="#000" stroke-width="0.7" x="2001.3" y="1015.4">**</text>
<text font-size="21" letter-spacing="0.51" stroke="#000" stroke-width="0.3" x="1926.1" y="958.7">P=0.04</text>
<text font-size="21" letter-spacing="0.34" stroke="#000" stroke-width="0.3" x="1876" y="992.6">P=0.0014</text>
<text font-size="21" letter-spacing="0.39" stroke="#000" stroke-width="0.3" x="1988" y="992.6">P=0.008</text>
<text font-size="21" font-weight="700" letter-spacing="-0.76" stroke="#000" stroke-width="0.3" x="1794.7" y="1308">CTRL</text>
<text font-size="21" font-weight="700" letter-spacing="-0.02" stroke="#000" stroke-width="0.3" x="1852.9" y="1308">DKO</text>
<text font-size="21" font-weight="700" letter-spacing="0.10" stroke="#000" stroke-width="0.3" x="1819.4" y="1344.5">SHAM</text>
<text font-size="21" font-weight="700" letter-spacing="-0.59" stroke="#000" stroke-width="0.3" x="1957.8" y="1308">CTRL</text>
<text font-size="21" font-weight="700" letter-spacing="0.24" stroke="#000" stroke-width="0.3" x="2016" y="1308">DKO</text>
<text font-size="21" font-weight="700" letter-spacing="0.74" stroke="#000" stroke-width="0.3" x="1964.8" y="1344.5">Exercise</text>
<line x1="1794.7" y1="1318.9" x2="1901.7" y2="1318.9" stroke="#000" stroke-width="1.8"/>
<line x1="1956.5" y1="1318.9" x2="2064.3" y2="1318.9" stroke="#000" stroke-width="1.8"/>
<text font-size="33" font-weight="700" stroke="#000" stroke-width="0.5" x="1732.5" y="955.3">n</text>
<text font-size="24.5" letter-spacing="0.05" stroke="#000" stroke-width="0.6" transform="translate(1733.9 1213.9) rotate(-90)">HW/ TL (mg mm <tspan font-size="15.7" font-weight="700" dy="-12.2">-1</tspan><tspan dy="12.2"> )</tspan></text>
<path d="M105.8 1734.3V1580.8H142.7V1734.3" fill="#58a1ff" stroke="#0616cc" stroke-width="2.2"/>
<path d="M105.8 1749.9V1784.2M142.7 1749.9V1784.2" fill="none" stroke="#0616cc" stroke-width="2.2"/>
<rect x="106.9" y="1749.9" width="34.7" height="34.3" fill="#58a1ff"/>
<path d="M150 1734.3V1575.1H187V1734.3" fill="#ff8080" stroke="#ea1c22" stroke-width="2.2"/>
<path d="M150 1749.9V1784.2M187 1749.9V1784.2" fill="none" stroke="#ea1c22" stroke-width="2.2"/>
<rect x="151.1" y="1749.9" width="34.7" height="34.3" fill="#ff8080"/>
<path d="M237.2 1734.3V1574.1H274.5V1734.3" fill="#58a1ff" stroke="#0616cc" stroke-width="2.2"/>
<path d="M237.2 1749.9V1784.2M274.5 1749.9V1784.2" fill="none" stroke="#0616cc" stroke-width="2.2"/>
<rect x="238.3" y="1749.9" width="35.1" height="34.3" fill="#58a1ff"/>
<path d="M281.5 1734.3V1574.1H318.4V1734.3" fill="#ff8080" stroke="#ea1c22" stroke-width="2.2"/>
<path d="M281.5 1749.9V1784.2M318.4 1749.9V1784.2" fill="none" stroke="#ea1c22" stroke-width="2.2"/>
<rect x="282.6" y="1749.9" width="34.7" height="34.3" fill="#ff8080"/>
<path d="M411.9 1734.3V1574.1H448.8V1734.3" fill="#58a1ff" stroke="#0616cc" stroke-width="2.2"/>
<path d="M411.9 1749.9V1784.2M448.8 1749.9V1784.2" fill="none" stroke="#0616cc" stroke-width="2.2"/>
<rect x="413" y="1749.9" width="34.7" height="34.3" fill="#58a1ff"/>
<path d="M455.8 1734.3V1575.1H493V1734.3" fill="#ff8080" stroke="#ea1c22" stroke-width="2.2"/>
<path d="M455.8 1749.9V1784.2M493 1749.9V1784.2" fill="none" stroke="#ea1c22" stroke-width="2.2"/>
<rect x="456.9" y="1749.9" width="35.1" height="34.3" fill="#ff8080"/>
<path d="M543.3 1734.3V1581.1H580.5V1734.3" fill="#58a1ff" stroke="#0616cc" stroke-width="2.2"/>
<path d="M543.3 1749.9V1784.2M580.5 1749.9V1784.2" fill="none" stroke="#0616cc" stroke-width="2.2"/>
<rect x="544.4" y="1749.9" width="35.1" height="34.3" fill="#58a1ff"/>
<path d="M587.2 1734.3V1581.1H624.4V1734.3" fill="#ff8080" stroke="#ea1c22" stroke-width="2.2"/>
<path d="M587.2 1749.9V1784.2M624.4 1749.9V1784.2" fill="none" stroke="#ea1c22" stroke-width="2.2"/>
<rect x="588.3" y="1749.9" width="35.1" height="34.3" fill="#ff8080"/>
<rect x="80.8" y="1433.2" width="569.5" height="351" fill="none" stroke="#000" stroke-width="2"/>
<line x1="365" y1="1433.2" x2="365" y2="1784.2" stroke="#000" stroke-width="2"/>
<line x1="73.8" y1="1533.7" x2="84.8" y2="1533.7" stroke="#000" stroke-width="1.8"/>
<text x="75.8" y="1541" font-size="21.3" font-weight="700" text-anchor="end" letter-spacing="-0.5" stroke="#000" stroke-width="0.4">100</text>
<line x1="73.8" y1="1633.8" x2="84.8" y2="1633.8" stroke="#000" stroke-width="1.8"/>
<text x="75.8" y="1641.2" font-size="21.3" font-weight="700" text-anchor="end" letter-spacing="-0.5" stroke="#000" stroke-width="0.4">80</text>
<line x1="73.8" y1="1733.6" x2="84.8" y2="1733.6" stroke="#000" stroke-width="1.8"/>
<text x="75.8" y="1741" font-size="21.3" font-weight="700" text-anchor="end" letter-spacing="-0.5" stroke="#000" stroke-width="0.4">60</text>
<line x1="73.8" y1="1749.9" x2="84.8" y2="1749.9" stroke="#000" stroke-width="1.8"/>
<text x="75.8" y="1757.3" font-size="21.3" font-weight="700" text-anchor="end" letter-spacing="-0.5" stroke="#000" stroke-width="0.4">40</text>
<path d="M119.3 1570.6H130.3M119.3 1579.6H130.3M124.8 1570.6V1579.6" fill="none" stroke="#0616cc" stroke-width="1.8"/>
<path d="M163.2 1573H174.2M163.2 1577.3H174.2M168.7 1573V1577.3" fill="none" stroke="#ea1c22" stroke-width="1.8"/>
<path d="M250.7 1567.3H261.7M250.7 1579.6H261.7M256.2 1567.3V1579.6" fill="none" stroke="#0616cc" stroke-width="1.8"/>
<path d="M293.9 1569.6H304.9M293.9 1578.6H304.9M299.4 1569.6V1578.6" fill="none" stroke="#ea1c22" stroke-width="1.8"/>
<path d="M425.3 1565.6H436.3M425.3 1581.3H436.3M430.8 1565.6V1581.3" fill="none" stroke="#0616cc" stroke-width="1.8"/>
<path d="M469.2 1570.3H480.2M469.2 1577.9H480.2M474.7 1570.3V1577.9" fill="none" stroke="#ea1c22" stroke-width="1.8"/>
<path d="M556.7 1575.6H567.7M556.7 1583.6H567.7M562.2 1575.6V1583.6" fill="none" stroke="#0616cc" stroke-width="1.8"/>
<path d="M600 1576.3H611M600 1586.3H611M605.5 1576.3V1586.3" fill="none" stroke="#ea1c22" stroke-width="1.8"/>
<polygon points="114.8,1560.7 118.1,1566.8 111.5,1566.8" fill="none" stroke="#0616cc" stroke-width="2.1"/>
<polygon points="134.7,1560.7 138,1566.8 131.4,1566.8" fill="none" stroke="#0616cc" stroke-width="2.1"/>
<polygon points="114.8,1569.7 118.1,1575.8 111.5,1575.8" fill="none" stroke="#0616cc" stroke-width="2.1"/>
<polygon points="134.7,1570.7 138,1576.8 131.4,1576.8" fill="none" stroke="#0616cc" stroke-width="2.1"/>
<polygon points="124.8,1583 128.1,1589.1 121.5,1589.1" fill="none" stroke="#0616cc" stroke-width="2.1"/>
<polygon points="124.8,1618.9 128.1,1625 121.5,1625" fill="none" stroke="#0616cc" stroke-width="2.1"/>
<rect x="165.3" y="1557.2" width="6.8" height="6.8" fill="none" stroke="#ea1c22" stroke-width="2"/>
<rect x="172.9" y="1566.9" width="6.8" height="6.8" fill="none" stroke="#ea1c22" stroke-width="2"/>
<rect x="180.2" y="1567.9" width="6.8" height="6.8" fill="none" stroke="#ea1c22" stroke-width="2"/>
<rect x="149.6" y="1572.9" width="6.8" height="6.8" fill="none" stroke="#ea1c22" stroke-width="2"/>
<rect x="157.3" y="1571.2" width="6.8" height="6.8" fill="none" stroke="#ea1c22" stroke-width="2"/>
<rect x="165.3" y="1572.9" width="6.8" height="6.8" fill="none" stroke="#ea1c22" stroke-width="2"/>
<rect x="153" y="1578.5" width="6.8" height="6.8" fill="none" stroke="#ea1c22" stroke-width="2"/>
<rect x="160.6" y="1580.5" width="6.8" height="6.8" fill="none" stroke="#ea1c22" stroke-width="2"/>
<rect x="168.6" y="1582.9" width="6.8" height="6.8" fill="none" stroke="#ea1c22" stroke-width="2"/>
<rect x="176.2" y="1583.5" width="6.8" height="6.8" fill="none" stroke="#ea1c22" stroke-width="2"/>
<polygon points="256.2,1551.4 259.5,1557.5 252.9,1557.5" fill="none" stroke="#0616cc" stroke-width="2.1"/>
<polygon points="249.5,1562.3 252.8,1568.4 246.2,1568.4" fill="none" stroke="#0616cc" stroke-width="2.1"/>
<polygon points="262.8,1562.3 266.1,1568.4 259.5,1568.4" fill="none" stroke="#0616cc" stroke-width="2.1"/>
<polygon points="242.9,1579.6 246.2,1585.7 239.6,1585.7" fill="none" stroke="#0616cc" stroke-width="2.1"/>
<polygon points="256.2,1581.3 259.5,1587.4 252.9,1587.4" fill="none" stroke="#0616cc" stroke-width="2.1"/>
<polygon points="269.5,1584 272.8,1590.1 266.2,1590.1" fill="none" stroke="#0616cc" stroke-width="2.1"/>
<rect x="289.4" y="1550.6" width="6.8" height="6.8" fill="none" stroke="#ea1c22" stroke-width="2"/>
<rect x="302.7" y="1553.6" width="6.8" height="6.8" fill="none" stroke="#ea1c22" stroke-width="2"/>
<rect x="296" y="1561.2" width="6.8" height="6.8" fill="none" stroke="#ea1c22" stroke-width="2"/>
<rect x="309.3" y="1561.2" width="6.8" height="6.8" fill="none" stroke="#ea1c22" stroke-width="2"/>
<rect x="282.7" y="1567.2" width="6.8" height="6.8" fill="none" stroke="#ea1c22" stroke-width="2"/>
<rect x="296" y="1573.9" width="6.8" height="6.8" fill="none" stroke="#ea1c22" stroke-width="2"/>
<rect x="309.3" y="1577.2" width="6.8" height="6.8" fill="none" stroke="#ea1c22" stroke-width="2"/>
<rect x="289.4" y="1587.2" width="6.8" height="6.8" fill="none" stroke="#ea1c22" stroke-width="2"/>
<rect x="302.7" y="1592.8" width="6.8" height="6.8" fill="none" stroke="#ea1c22" stroke-width="2"/>
<rect x="282.7" y="1571.2" width="6.8" height="6.8" fill="none" stroke="#ea1c22" stroke-width="2"/>
<polygon points="420.2,1555.3 423.5,1561.5 416.9,1561.5" fill="#0616cc" stroke="#0616cc" stroke-width="1.2" stroke-linejoin="round"/>
<polygon points="440.8,1555.3 444.1,1561.5 437.5,1561.5" fill="#0616cc" stroke="#0616cc" stroke-width="1.2" stroke-linejoin="round"/>
<polygon points="420.2,1560.3 423.5,1566.4 416.9,1566.4" fill="#0616cc" stroke="#0616cc" stroke-width="1.2" stroke-linejoin="round"/>
<polygon points="440.8,1567 444.1,1573.1 437.5,1573.1" fill="#0616cc" stroke="#0616cc" stroke-width="1.2" stroke-linejoin="round"/>
<polygon points="430.8,1580.3 434.1,1586.4 427.5,1586.4" fill="#0616cc" stroke="#0616cc" stroke-width="1.2" stroke-linejoin="round"/>
<polygon points="430.8,1600.6 434.1,1606.7 427.5,1606.7" fill="#0616cc" stroke="#0616cc" stroke-width="1.2" stroke-linejoin="round"/>
<rect x="455.8" y="1563" width="8" height="8" fill="#ea1c22"/>
<rect x="470.7" y="1561.3" width="8" height="8" fill="#ea1c22"/>
<rect x="465.1" y="1566.6" width="8" height="8" fill="#ea1c22"/>
<rect x="470.7" y="1569" width="8" height="8" fill="#ea1c22"/>
<rect x="478.4" y="1570.6" width="8" height="8" fill="#ea1c22"/>
<rect x="485" y="1571.6" width="8" height="8" fill="#ea1c22"/>
<rect x="470.7" y="1585.6" width="8" height="8" fill="#ea1c22"/>
<polygon points="562.2,1557 565.5,1563.1 558.9,1563.1" fill="#0616cc" stroke="#0616cc" stroke-width="1.2" stroke-linejoin="round"/>
<polygon points="548.9,1575.3 552.2,1581.4 545.6,1581.4" fill="#0616cc" stroke="#0616cc" stroke-width="1.2" stroke-linejoin="round"/>
<polygon points="562.2,1578.6 565.5,1584.7 558.9,1584.7" fill="#0616cc" stroke="#0616cc" stroke-width="1.2" stroke-linejoin="round"/>
<polygon points="575.5,1578.6 578.8,1584.7 572.2,1584.7" fill="#0616cc" stroke="#0616cc" stroke-width="1.2" stroke-linejoin="round"/>
<polygon points="554.9,1587 558.2,1593.1 551.6,1593.1" fill="#0616cc" stroke="#0616cc" stroke-width="1.2" stroke-linejoin="round"/>
<polygon points="568.9,1590.6 572.2,1596.7 565.6,1596.7" fill="#0616cc" stroke="#0616cc" stroke-width="1.2" stroke-linejoin="round"/>
<rect x="608.1" y="1559" width="8" height="8" fill="#ea1c22"/>
<rect x="594.8" y="1562.3" width="8" height="8" fill="#ea1c22"/>
<rect x="601.5" y="1573.3" width="8" height="8" fill="#ea1c22"/>
<rect x="588.2" y="1582.3" width="8" height="8" fill="#ea1c22"/>
<rect x="601.5" y="1591.2" width="8" height="8" fill="#ea1c22"/>
<rect x="614.8" y="1591.2" width="8" height="8" fill="#ea1c22"/>
<text font-size="21" font-weight="700" letter-spacing="0.76" stroke="#000" stroke-width="0.3" x="123.4" y="1808.3">PRE</text>
<text font-size="21" font-weight="700" stroke="#000" stroke-width="0.3" x="247.5" y="1808.3">POST</text>
<text font-size="21" font-weight="700" letter-spacing="0.05" stroke="#000" stroke-width="0.3" x="182.3" y="1843.2">SHAM</text>
<text font-size="21" font-weight="700" letter-spacing="0.76" stroke="#000" stroke-width="0.3" x="426.8" y="1808.3">PRE</text>
<text font-size="21" font-weight="700" letter-spacing="0.34" stroke="#000" stroke-width="0.3" x="552.5" y="1808.3">POST</text>
<text font-size="21" font-weight="700" letter-spacing="0.31" stroke="#000" stroke-width="0.3" x="478.7" y="1843.2">Exercise</text>
<line x1="106.5" y1="1816.8" x2="319.4" y2="1816.8" stroke="#000" stroke-width="1.8"/>
<line x1="413.5" y1="1816.8" x2="627.1" y2="1816.8" stroke="#000" stroke-width="1.8"/>
<text font-size="23.5" font-weight="700" letter-spacing="0.33" stroke="#000" stroke-width="0.6" transform="translate(29.3 1727.5) rotate(-90)">Ejection fraction (%)</text>
<polygon points="116.4,1450.9 119.7,1457 113.1,1457" fill="none" stroke="#0616cc" stroke-width="2.1"/>
<text font-size="20.7" letter-spacing="0.62" stroke="#000" stroke-width="0.3" x="140.4" y="1460.8">CTRL</text>
<rect x="237.1" y="1450.8" width="6.8" height="6.8" fill="none" stroke="#ea1c22" stroke-width="2"/>
<text font-size="20.7" letter-spacing="1.34" stroke="#000" stroke-width="0.3" x="264.5" y="1460.8">DKO</text>
<polygon points="403.5,1449.9 406.8,1456 400.2,1456" fill="#0616cc" stroke="#0616cc" stroke-width="1.2" stroke-linejoin="round"/>
<text font-size="20.7" letter-spacing="0.84" stroke="#000" stroke-width="0.3" x="427.1" y="1459.8">CTRL</text>
<rect x="527.3" y="1449.2" width="8" height="8" fill="#ea1c22"/>
<text font-size="20.7" letter-spacing="1.01" stroke="#000" stroke-width="0.3" x="554.6" y="1459.8">DKO</text>
<path d="M1780.3 1750.8V1545.8H1825.9V1750.8" fill="#58a1ff" stroke="#0616cc" stroke-width="2.2"/>
<path d="M1838.2 1750.8V1584.4H1884.3V1750.8" fill="#ff8080" stroke="#ea1c22" stroke-width="2.2"/>
<path d="M1954.4 1750.8V1521.4H2000V1750.8" fill="#58a1ff" stroke="#0616cc" stroke-width="2.2"/>
<path d="M2012.8 1750.8V1549.7H2058.3V1750.8" fill="#ff8080" stroke="#ea1c22" stroke-width="2.2"/>
<rect x="1749.8" y="1411.4" width="339.9" height="339.4" fill="none" stroke="#000" stroke-width="2"/>
<line x1="1749.8" y1="1479" x2="1758.8" y2="1479" stroke="#000" stroke-width="1.8"/>
<text x="1746.3" y="1486.3" font-size="21.3" font-weight="700" text-anchor="end" letter-spacing="-0.5" stroke="#000" stroke-width="0.4">400</text>
<line x1="1749.8" y1="1547.1" x2="1758.8" y2="1547.1" stroke="#000" stroke-width="1.8"/>
<text x="1746.3" y="1554.5" font-size="21.3" font-weight="700" text-anchor="end" letter-spacing="-0.5" stroke="#000" stroke-width="0.4">300</text>
<line x1="1749.8" y1="1615.3" x2="1758.8" y2="1615.3" stroke="#000" stroke-width="1.8"/>
<text x="1746.3" y="1622.6" font-size="21.3" font-weight="700" text-anchor="end" letter-spacing="-0.5" stroke="#000" stroke-width="0.4">200</text>
<line x1="1749.8" y1="1682.9" x2="1758.8" y2="1682.9" stroke="#000" stroke-width="1.8"/>
<text x="1746.3" y="1690.2" font-size="21.3" font-weight="700" text-anchor="end" letter-spacing="-0.5" stroke="#000" stroke-width="0.4">100</text>
<path d="M1797.5 1540.7H1808.5M1797.5 1548.9H1808.5M1803 1540.7V1548.9" fill="none" stroke="#0616cc" stroke-width="1.8"/>
<path d="M1855.9 1577.5H1866.9M1855.9 1591.6H1866.9M1861.4 1577.5V1591.6" fill="none" stroke="#ea1c22" stroke-width="1.8"/>
<path d="M1971.6 1517H1982.6M1971.6 1523.5H1982.6M1977.1 1517V1523.5" fill="none" stroke="#0616cc" stroke-width="1.8"/>
<path d="M2030.2 1542H2041.2M2030.2 1556.9H2041.2M2035.7 1542V1556.9" fill="none" stroke="#ea1c22" stroke-width="1.8"/>
<polygon points="1803,1526.6 1806.3,1532.7 1799.7,1532.7" fill="none" stroke="#0616cc" stroke-width="2.1"/>
<polygon points="1787,1543.8 1790.3,1549.9 1783.7,1549.9" fill="none" stroke="#0616cc" stroke-width="2.1"/>
<polygon points="1803,1542.5 1806.3,1548.7 1799.7,1548.7" fill="none" stroke="#0616cc" stroke-width="2.1"/>
<polygon points="1803,1550.8 1806.3,1556.9 1799.7,1556.9" fill="none" stroke="#0616cc" stroke-width="2.1"/>
<polygon points="1819.2,1552.3 1822.5,1558.4 1815.9,1558.4" fill="none" stroke="#0616cc" stroke-width="2.1"/>
<rect x="1861.8" y="1558.6" width="6.8" height="6.8" fill="none" stroke="#ea1c22" stroke-width="2"/>
<rect x="1853.6" y="1566.9" width="6.8" height="6.8" fill="none" stroke="#ea1c22" stroke-width="2"/>
<rect x="1861.8" y="1575.9" width="6.8" height="6.8" fill="none" stroke="#ea1c22" stroke-width="2"/>
<rect x="1858" y="1595.9" width="6.8" height="6.8" fill="none" stroke="#ea1c22" stroke-width="2"/>
<rect x="1858" y="1612.4" width="6.8" height="6.8" fill="none" stroke="#ea1c22" stroke-width="2"/>
<rect x="1853.6" y="1568.2" width="6.8" height="6.8" fill="none" stroke="#ea1c22" stroke-width="2"/>
<polygon points="1983,1503.2 1986.3,1509.3 1979.7,1509.3" fill="#0616cc" stroke="#0616cc" stroke-width="1.2" stroke-linejoin="round"/>
<polygon points="1971.4,1509.6 1974.7,1515.7 1968.1,1515.7" fill="#0616cc" stroke="#0616cc" stroke-width="1.2" stroke-linejoin="round"/>
<polygon points="1959.1,1520.7 1962.4,1526.8 1955.8,1526.8" fill="#0616cc" stroke="#0616cc" stroke-width="1.2" stroke-linejoin="round"/>
<polygon points="1971.4,1522 1974.7,1528.1 1968.1,1528.1" fill="#0616cc" stroke="#0616cc" stroke-width="1.2" stroke-linejoin="round"/>
<polygon points="1983,1523.8 1986.3,1529.9 1979.7,1529.9" fill="#0616cc" stroke="#0616cc" stroke-width="1.2" stroke-linejoin="round"/>
<polygon points="1994.5,1524.5 1997.8,1530.7 1991.2,1530.7" fill="#0616cc" stroke="#0616cc" stroke-width="1.2" stroke-linejoin="round"/>
<rect x="2031.7" y="1511.8" width="8" height="8" fill="#ea1c22"/>
<rect x="2022.7" y="1545.2" width="8" height="8" fill="#ea1c22"/>
<rect x="2040.2" y="1546.2" width="8" height="8" fill="#ea1c22"/>
<rect x="2014.5" y="1552.1" width="8" height="8" fill="#ea1c22"/>
<rect x="2031.7" y="1554.2" width="8" height="8" fill="#ea1c22"/>
<rect x="2047.9" y="1558" width="8" height="8" fill="#ea1c22"/>
<path d="M1853.6 1450.7V1439.1H2034.9V1450.7" fill="none" stroke="#000" stroke-width="1.8"/>
<path d="M1801.7 1485.4V1473.1H1975.3V1485.4" fill="none" stroke="#000" stroke-width="1.8"/>
<path d="M1976.6 1499.6V1489.3H2034.4V1499.6" fill="none" stroke="#000" stroke-width="1.8"/>
<path d="M1803.8 1522.2V1511.9H1862.1V1522.2" fill="none" stroke="#000" stroke-width="1.8"/>
<text font-size="25.5" letter-spacing="1.96" stroke="#000" stroke-width="0.7" x="1888.2" y="1443.3">**</text>
<text font-size="25.5" letter-spacing="1.96" stroke="#000" stroke-width="0.7" x="1832.9" y="1474.9">**</text>
<text font-size="25.5" letter-spacing="1.96" stroke="#000" stroke-width="0.7" x="1982.6" y="1492.1">**</text>
<text font-size="25.5" letter-spacing="1.45" stroke="#000" stroke-width="0.7" x="1810.3" y="1514.8">**</text>
<text font-size="21" letter-spacing="0.37" stroke="#000" stroke-width="0.3" x="1918.3" y="1434.8">P=0.008</text>
<text font-size="21" letter-spacing="0.17" stroke="#000" stroke-width="0.3" x="1875.9" y="1464.9">P=0.001</text>
<text font-size="21" letter-spacing="0.33" stroke="#000" stroke-width="0.3" x="2005.7" y="1484.1">P=0.004</text>
<text font-size="21" letter-spacing="0.45" stroke="#000" stroke-width="0.3" x="1833.5" y="1506.8">P=0.003</text>
<text font-size="21" font-weight="700" letter-spacing="-0.85" stroke="#000" stroke-width="0.3" x="1775.9" y="1781.4">CTRL</text>
<text font-size="21" font-weight="700" letter-spacing="-0.09" stroke="#000" stroke-width="0.3" x="1837.6" y="1781.4">DKO</text>
<text font-size="21" font-weight="700" letter-spacing="0.40" stroke="#000" stroke-width="0.3" x="1803.1" y="1815.3">SHAM</text>
<text font-size="21" font-weight="700" letter-spacing="-0.85" stroke="#000" stroke-width="0.3" x="1949.5" y="1781.4">CTRL</text>
<text font-size="21" font-weight="700" letter-spacing="0.03" stroke="#000" stroke-width="0.3" x="2011.7" y="1781.4">DKO</text>
<text font-size="21" font-weight="700" letter-spacing="1.00" stroke="#000" stroke-width="0.3" x="1961" y="1815.3">Exercise</text>
<line x1="1779.3" y1="1788.8" x2="1886" y2="1788.8" stroke="#000" stroke-width="1.8"/>
<line x1="1953.4" y1="1788.8" x2="2060.1" y2="1788.8" stroke="#000" stroke-width="1.8"/>
<text font-size="24.5" stroke="#000" stroke-width="0.6" transform="translate(1691.7 1660.2) rotate(-90)">Cell size ( <tspan font-family="'Liberation Serif',serif">μ</tspan><tspan font-weight="700">M</tspan><tspan font-size="16.2" font-weight="700" dy="-9.8">2</tspan><tspan dy="9.8">)</tspan></text>
<path d="M63.6 36.3L66.1 33.3L69.3 32.8L65.9 29.9L67.4 27L77.6 26.5L96.7 27.3L96.7 41.3L77.6 41.3L68.7 40.5L64.2 38.8Z" fill="#b8d6f0" stroke="#3a2a22" stroke-width="0.7" stroke-linejoin="round"/>
<path d="M76.3 22.3L79.5 19.7L87.8 19.1L94.4 21.4L94.8 38.2L95.4 59.8L91.6 56L87.8 54.7L82.7 56.6L77.8 61.3L80.1 48.3L77.8 31.8Z" fill="#2d9fe0" stroke="#3a2a22" stroke-width="0.7" stroke-linejoin="round"/>
<path d="M110.7 31.8L139.9 31.2L146.3 33.3L152 30.3L154.2 34.3L148.8 36L153.9 38.2L153.3 43.9L147.6 42L137.4 43.9L128.5 50.9L124 59.8L122.1 64.9L118.3 62.3L111.9 61.7L114.5 48.3Z" fill="#b8d6f0" stroke="#3a2a22" stroke-width="0.7" stroke-linejoin="round"/>
<path d="M116.4 4.5L118.9 6.1L122.1 8.9L125.3 6.4L127.8 7L128.5 12.7L134.8 19.1L139.9 26.1L140.6 31.2L122.1 31.2L118.9 25.4L115.1 21L117.7 12.7Z" fill="#f07a55" stroke="#3a2a22" stroke-width="0.7" stroke-linejoin="round"/>
<path d="M106.6 7.6L111.9 7.4L112.6 12.1L113.8 19.1L112.6 29.3L111.9 38.2L115.1 45.8L115.1 53.4L110.7 63.6L108.1 75L108.8 82L105.6 83.3L101.8 76.3L97.9 67.4L94.8 61.1L96 38.2L97.9 26.7L103 19.1L106.8 13.4Z" fill="#f07a55" stroke="#3a2a22" stroke-width="0.7" stroke-linejoin="round"/>
<ellipse cx="115.2" cy="19.1" rx="2.2" ry="3.4" fill="#1a0d08"/>
<text font-size="33" font-weight="700" stroke="#000" stroke-width="0.5" x="5.6" y="18.2">a</text>
<text font-size="20" font-weight="700" font-style="italic" letter-spacing="-0.17" x="179.9" y="49.2">TAC</text>
<text font-size="21.5" font-weight="700" letter-spacing="-1.11" x="30.4" y="85.9">DKO</text>
<text font-size="21.5" font-weight="700" letter-spacing="-0.38" x="-0.4" y="110.7">8-week-old</text>
<text font-size="21.5" font-weight="700" letter-spacing="-0.26" x="30.6" y="134.9">mice</text>
<line x1="131.8" y1="106.7" x2="411" y2="106.7" stroke="#000" stroke-width="3.6"/>
<line x1="131.8" y1="94.1" x2="131.8" y2="119.1" stroke="#000" stroke-width="3.4"/>
<line x1="225.8" y1="94.1" x2="225.8" y2="119.1" stroke="#000" stroke-width="3.4"/>
<line x1="317.9" y1="94.1" x2="317.9" y2="119.1" stroke="#000" stroke-width="3.4"/>
<line x1="411" y1="94.1" x2="411" y2="119.1" stroke="#000" stroke-width="3.4"/>
<text x="130.7" y="87.5" font-size="21.5" font-weight="700" text-anchor="middle">0</text>
<text x="228" y="87.5" font-size="21.5" font-weight="700" text-anchor="middle">1</text>
<text x="319.1" y="87.5" font-size="21.5" font-weight="700" text-anchor="middle">2</text>
<text font-size="21.5" font-weight="700" letter-spacing="0.03" x="395.4" y="87.5">3 weeks</text>
<text font-size="20.5" font-weight="700" letter-spacing="-0.66" stroke="#000" stroke-width="0.5" transform="translate(100.1 165.9) rotate(-45)" x="-1.3">Echo</text>
<text font-size="20.5" font-weight="700" letter-spacing="-0.66" stroke="#000" stroke-width="0.5" transform="translate(341.8 160.7) rotate(-45)" x="-1.3">Echo</text>
<text font-size="20.5" font-weight="700" stroke="#000" stroke-width="0.5" transform="translate(349.8 194.8) rotate(-45)" x="-1.3">Histology</text>
<text font-size="33" font-weight="700" stroke="#000" stroke-width="0.5" x="5.9" y="241.5">b</text>
<text font-size="20.5" font-weight="700" letter-spacing="0.91" stroke="#000" stroke-width="0.5" x="112.1" y="236.9">SHAM</text>
<text font-size="20.5" font-weight="700" letter-spacing="0.02" stroke="#000" stroke-width="0.5" x="341.5" y="236.9">TAC</text>
<text font-size="20.5" font-weight="700" letter-spacing="0.27" stroke="#000" stroke-width="0.5" transform="translate(22.3 319.5) rotate(-90)">CTRL</text>
<text font-size="20.5" font-weight="700" letter-spacing="-0.54" stroke="#000" stroke-width="0.5" transform="translate(22.3 424.5) rotate(-90)">DKO</text>
<g clip-path="url(#ec1)"><g filter="url(#ef1)">
<rect x="27.2" y="237.3" width="221.4" height="115.9" fill="#303030"/>
<rect x="27.2" y="242.3" width="221.4" height="10.6" fill="#484848"/>
<rect x="27.2" y="252.9" width="221.4" height="47.7" fill="#2e2e2e"/>
<rect x="27.2" y="300.6" width="221.4" height="7.4" fill="#282828"/>
<rect x="27.2" y="316.4" width="221.4" height="31.8" fill="#6c6c6c"/>
<path d="M28.2 314L32.2 314.9L36.2 315.6L40.2 315.9L44.2 315.8L48.2 315.3L52.2 314.5L56.2 313.4L60.2 312.2L64.2 311L68.2 309.9L72.2 309.1L76.2 308.6L80.2 308.5L84.2 308.8L88.2 309.5L92.2 310.4L96.2 311.6L100.2 312.8L104.2 314L108.2 314.9L112.2 315.6L116.2 315.9L120.2 315.8L124.2 315.3L128.2 314.5L132.2 313.4L136.2 312.2L140.2 311L144.2 310L148.2 309.1L152.2 308.6L156.2 308.5L160.2 308.8L164.2 309.5L168.2 310.4L172.2 311.6L176.2 312.8L180.2 313.9L184.2 314.9L188.2 315.6L192.2 315.9L196.2 315.8L200.2 315.3L204.2 314.5L208.2 313.5L212.2 312.3L216.2 311.1L220.2 310L224.2 309.1L228.2 308.6L232.2 308.5L236.2 308.8L240.2 309.4L244.2 310.4L248.2 311.5L247.5 353.5L28.2 353.5Z" fill="#707070"/>
<path d="M28.2 313.5L32.2 314.4L36.2 315.1L40.2 315.4L44.2 315.3L48.2 314.8L52.2 314L56.2 312.9L60.2 311.7L64.2 310.5L68.2 309.4L72.2 308.6L76.2 308.1L80.2 308L84.2 308.3L88.2 308.9L92.2 309.9L96.2 311.1L100.2 312.3L104.2 313.4L108.2 314.4L112.2 315.1L116.2 315.4L120.2 315.3L124.2 314.8L128.2 314L132.2 312.9L136.2 311.7L140.2 310.5L144.2 309.4L148.2 308.6L152.2 308.1L156.2 308L160.2 308.3L164.2 308.9L168.2 309.9L172.2 311L176.2 312.3L180.2 313.4L184.2 314.4L188.2 315.1L192.2 315.4L196.2 315.3L200.2 314.8L204.2 314L208.2 312.9L212.2 311.7L216.2 310.5L220.2 309.4L224.2 308.6L228.2 308.1L232.2 308L236.2 308.3L240.2 308.9L244.2 309.9L248.2 311" fill="none" stroke="#d7d7d7" stroke-width="10.6" stroke-linejoin="round"/>
<path d="M28.2 301.3L32.2 297.2L36.2 292.3L40.2 288.7L44.2 288L48.2 290.6L52.2 295.2L56.2 299.9L60.2 302.5L64.2 301.9L68.2 298.4L72.2 293.4L76.2 289.3L80.2 287.9L84.2 289.7L88.2 294L92.2 298.9L96.2 302.1L100.2 302.4L104.2 299.4L108.2 294.7L112.2 290.1L116.2 287.9L120.2 288.9L124.2 292.8L128.2 297.7L132.2 301.6L136.2 302.6L140.2 300.4L144.2 295.9L148.2 291.1L152.2 288.2L156.2 288.4L160.2 291.7L164.2 296.5L168.2 300.8L172.2 302.7L176.2 301.2L180.2 297.1L184.2 292.2L188.2 288.6L192.2 288L196.2 290.6L200.2 295.3L204.2 299.9L208.2 302.5L212.2 301.9L216.2 298.3L220.2 293.4L224.2 289.3L228.2 287.9L232.2 289.7L236.2 294.1L240.2 298.9L244.2 302.2L248.2 302.3" fill="none" stroke="#696969" stroke-width="3.2" stroke-linejoin="round"/>
<path d="M41.7 274.1C48.8 268 50.4 254 57.5 254C64.7 254 66.3 268 73.4 274.1C66.3 280.1 62.3 294.2 57.5 294.2C52.8 294.2 48.8 280.1 41.7 274.1Z" fill="#0a0a0a"/>
<path d="M77.6 277.3C84.7 270.6 86.3 255 93.5 255C100.6 255 102.2 270.6 109.3 277.3C102.2 283.9 98.2 299.5 93.5 299.5C88.7 299.5 84.7 283.9 77.6 277.3Z" fill="#0a0a0a"/>
<path d="M117.8 272C123.5 267.2 124.7 256.1 130.5 256.1C136.2 256.1 137.4 267.2 143.1 272C137.4 276.7 134.3 287.9 130.5 287.9C126.6 287.9 123.5 276.7 117.8 272Z" fill="#1c1c1c"/>
<path d="M151.6 275.1C158.7 268.8 160.3 254 167.4 254C174.6 254 176.2 268.8 183.3 275.1C176.2 281.5 172.2 296.3 167.4 296.3C162.7 296.3 158.7 281.5 151.6 275.1Z" fill="#080808"/>
<path d="M190.7 275.1C197.8 268.5 199.4 252.9 206.5 252.9C213.7 252.9 215.3 268.5 222.4 275.1C215.3 281.8 211.3 297.4 206.5 297.4C201.8 297.4 197.8 281.8 190.7 275.1Z" fill="#080808"/>
<path d="M230.8 277.3C235.6 271.5 236.7 258.2 241.4 258.2C246.2 258.2 247.2 271.5 252 277.3C247.2 283 244.6 296.3 241.4 296.3C238.2 296.3 235.6 283 230.8 277.3Z" fill="#0e0e0e"/>
</g>
<rect x="230" y="243.8" width="12" height="12" fill="#222"/>
<rect x="234.8" y="244.8" width="2.6" height="2.6" fill="#eee"/>
<rect x="238.6" y="244.8" width="2.6" height="2.6" fill="#eee"/>
<rect x="231" y="248.6" width="2.6" height="2.6" fill="#eee"/>
<rect x="234.8" y="248.6" width="2.6" height="2.6" fill="#eee"/>
<rect x="238.6" y="248.6" width="2.6" height="2.6" fill="#eee"/>
<rect x="231" y="252.4" width="2.6" height="2.6" fill="#eee"/>
<rect x="234.8" y="252.4" width="2.6" height="2.6" fill="#eee"/>
<rect x="238.6" y="252.4" width="2.6" height="2.6" fill="#eee"/>
</g>
<g clip-path="url(#ec2)"><g filter="url(#ef2)">
<rect x="247.4" y="237.3" width="222.1" height="115.9" fill="#464646"/>
<rect x="247.4" y="242.3" width="222.1" height="27.5" fill="#6e6e6e"/>
<rect x="247.4" y="269.8" width="222.1" height="46.6" fill="#303030"/>
<rect x="247.4" y="316.4" width="222.1" height="10.6" fill="#696969"/>
<rect x="247.4" y="327" width="222.1" height="21.2" fill="#ebebeb"/>
<path d="M248.4 271.5L252.4 272L256.4 271.4L260.4 269.9L264.4 268.1L268.4 266.5L272.4 265.6L276.4 265.9L280.4 267.1L284.4 268.9L288.4 270.7L292.4 271.8L296.4 271.9L300.4 270.9L304.4 269.2L308.4 267.4L312.4 266L316.4 265.6L320.4 266.3L324.4 267.8L328.4 269.7L332.4 271.2L336.4 271.9L340.4 271.6L344.4 270.3L348.4 268.4L352.4 266.7L356.4 265.7L360.4 265.8L364.4 266.8L368.4 268.6L372.4 270.4L376.4 271.6L380.4 271.9L384.4 271.2L388.4 269.6L392.4 267.7L396.4 266.2L400.4 265.6L404.4 266.1L408.4 267.5L412.4 269.3L416.4 271L420.4 271.9L424.4 271.7L428.4 270.6L432.4 268.8L436.4 267.1L440.4 265.9L444.4 265.7L448.4 266.5L452.4 268.2L456.4 270L460.4 271.4L464.4 272L468.4 271.4L472.4 269.9" fill="none" stroke="#969696" stroke-width="5.3" stroke-linejoin="round"/>
<path d="M258.8 290C262.6 283 269.3 266.7 277.9 266.7C286.5 266.7 293.2 283 297 290C293.2 297 283.6 313.3 277.9 313.3C272.2 313.3 262.6 297 258.8 290Z" fill="#1e1e1e"/>
<path d="M301.2 290C305 282.7 311.7 265.6 320.3 265.6C328.9 265.6 335.6 282.7 339.4 290C335.6 297.3 326 314.3 320.3 314.3C314.6 314.3 305 297.3 301.2 290Z" fill="#1e1e1e"/>
<path d="M345.8 290C349.6 282.7 356.2 265.6 364.8 265.6C373.4 265.6 380.1 282.7 383.9 290C380.1 297.3 370.6 314.3 364.8 314.3C359.1 314.3 349.6 297.3 345.8 290Z" fill="#1e1e1e"/>
<path d="M388.2 290C392 282.7 398.7 265.6 407.2 265.6C415.8 265.6 422.5 282.7 426.3 290C422.5 297.3 413 314.3 407.2 314.3C401.5 314.3 392 297.3 388.2 290Z" fill="#1e1e1e"/>
<path d="M430.6 290C434.4 282.7 441.1 265.6 449.7 265.6C458.2 265.6 464.9 282.7 468.7 290C464.9 297.3 455.4 314.3 449.7 314.3C443.9 314.3 434.4 297.3 430.6 290Z" fill="#1e1e1e"/>
<path d="M248.4 314.1L252.4 311.9L256.4 311.2L260.4 312.3L264.4 314.8L268.4 317.9L272.4 320.5L276.4 321.7L280.4 321.1L284.4 318.9L288.4 315.9L292.4 313.1L296.4 311.4L300.4 311.4L304.4 313.2L308.4 316L312.4 319.1L316.4 321.2L320.4 321.7L324.4 320.4L328.4 317.8L332.4 314.7L336.4 312.2L340.4 311.2L344.4 311.9L348.4 314.2L352.4 317.3L356.4 320.1L360.4 321.6L364.4 321.4L368.4 319.5L372.4 316.6L376.4 313.6L380.4 311.6L384.4 311.2L388.4 312.7L392.4 315.4L396.4 318.5L400.4 320.9L404.4 321.7L408.4 320.8L412.4 318.4L416.4 315.3L420.4 312.6L424.4 311.2L428.4 311.6L432.4 313.6L436.4 316.6L440.4 319.6L444.4 321.4L448.4 321.6L452.4 320L456.4 317.2L460.4 314.1L464.4 311.9L468.4 311.2L472.4 312.3" fill="none" stroke="#7d7d7d" stroke-width="7.4" stroke-linejoin="round"/>
<ellipse cx="307.6" cy="295.3" rx="10.6" ry="3.2" fill="#6e6e6e"/>
<ellipse cx="350" cy="297.4" rx="8.5" ry="3.2" fill="#6e6e6e"/>
<ellipse cx="392.4" cy="295.3" rx="8.5" ry="3.2" fill="#6e6e6e"/>
<ellipse cx="258.8" cy="297.4" rx="8.5" ry="4.2" fill="#6e6e6e"/>
<path d="M248.4 338.3L252.4 338.7L256.4 339.1L260.4 339.4L264.4 339.6L268.4 339.7L272.4 339.7L276.4 339.6L280.4 339.3L284.4 339L288.4 338.6L292.4 338.1L296.4 337.6L300.4 337.1L304.4 336.7L308.4 336.2L312.4 335.9L316.4 335.7L320.4 335.5L324.4 335.5L328.4 335.6L332.4 335.8L336.4 336.2L340.4 336.6L344.4 337L348.4 337.5L352.4 338L356.4 338.5L360.4 338.9L364.4 339.3L368.4 339.5L372.4 339.7L376.4 339.7L380.4 339.7L384.4 339.5L388.4 339.2L392.4 338.8L396.4 338.4L400.4 337.9L404.4 337.4L408.4 336.9L412.4 336.4L416.4 336.1L420.4 335.8L424.4 335.6L428.4 335.5L432.4 335.6L436.4 335.7L440.4 336L444.4 336.3L448.4 336.8L452.4 337.3L456.4 337.8L460.4 338.2L464.4 338.7L468.4 339.1L472.4 339.4" fill="none" stroke="#f0f0f0" stroke-width="21.2" stroke-linejoin="round"/>
</g>
<rect x="451" y="243.8" width="12" height="12" fill="#222"/>
<rect x="455.8" y="244.8" width="2.6" height="2.6" fill="#eee"/>
<rect x="459.6" y="244.8" width="2.6" height="2.6" fill="#eee"/>
<rect x="452" y="248.6" width="2.6" height="2.6" fill="#eee"/>
<rect x="455.8" y="248.6" width="2.6" height="2.6" fill="#eee"/>
<rect x="459.6" y="248.6" width="2.6" height="2.6" fill="#eee"/>
<rect x="452" y="252.4" width="2.6" height="2.6" fill="#eee"/>
<rect x="455.8" y="252.4" width="2.6" height="2.6" fill="#eee"/>
<rect x="459.6" y="252.4" width="2.6" height="2.6" fill="#eee"/>
</g>
<g clip-path="url(#ec3)"><g filter="url(#ef3)">
<rect x="27.2" y="350.7" width="221.4" height="115" fill="#464646"/>
<rect x="27.2" y="355.7" width="221.4" height="12.6" fill="#5c5c5c"/>
<rect x="27.2" y="368.3" width="221.4" height="42" fill="#3e3e3e"/>
<rect x="27.2" y="425" width="221.4" height="35.7" fill="#afafaf"/>
<ellipse cx="63.9" cy="460.7" rx="27.5" ry="31.5" fill="#969696"/>
<ellipse cx="63.9" cy="462.8" rx="21.1" ry="26.2" fill="#7d7d7d"/>
<ellipse cx="63.9" cy="464.9" rx="14.8" ry="21" fill="#646464"/>
<ellipse cx="194.9" cy="460.7" rx="31.7" ry="31.5" fill="#969696"/>
<ellipse cx="194.9" cy="462.8" rx="23.2" ry="26.2" fill="#7d7d7d"/>
<ellipse cx="194.9" cy="464.9" rx="16.9" ry="21" fill="#646464"/>
<path d="M28.2 422.1L32.2 423.2L36.2 424.2L40.2 424.8L44.2 425L48.2 424.8L52.2 424.3L56.2 423.4L60.2 422.2L64.2 420.9L68.2 419.6L72.2 418.4L76.2 417.5L80.2 416.9L84.2 416.6L88.2 416.8L92.2 417.3L96.2 418.2L100.2 419.4L104.2 420.7L108.2 422L112.2 423.1L116.2 424.1L120.2 424.8L124.2 425L128.2 424.9L132.2 424.3L136.2 423.4L140.2 422.3L144.2 421L148.2 419.7L152.2 418.5L156.2 417.6L160.2 416.9L164.2 416.6L168.2 416.8L172.2 417.3L176.2 418.2L180.2 419.3L184.2 420.6L188.2 421.9L192.2 423.1L196.2 424L200.2 424.7L204.2 425L208.2 424.9L212.2 424.4L216.2 423.5L220.2 422.4L224.2 421.1L228.2 419.8L232.2 418.6L236.2 417.6L240.2 416.9L244.2 416.6L248.2 416.7" fill="none" stroke="#ebebeb" stroke-width="14.7" stroke-linejoin="round"/>
<path d="M28.2 410.8L32.2 408.2L36.2 404.4L40.2 400.8L44.2 398.9L48.2 399.3L52.2 401.9L56.2 405.7L60.2 409.2L64.2 411.2L68.2 410.9L72.2 408.3L76.2 404.5L80.2 401L84.2 398.9L88.2 399.3L92.2 401.8L96.2 405.5L100.2 409.1L104.2 411.2L108.2 410.9L112.2 408.4L116.2 404.7L120.2 401.1L124.2 399L128.2 399.2L132.2 401.6L136.2 405.4L140.2 409L144.2 411.1L148.2 411L152.2 408.6L156.2 404.8L160.2 401.2L164.2 399L168.2 399.1L172.2 401.5L176.2 405.2L180.2 408.9L184.2 411.1L188.2 411L192.2 408.7L196.2 405L200.2 401.3L204.2 399.1L208.2 399.1L212.2 401.4L216.2 405.1L220.2 408.8L224.2 411.1L228.2 411.1L232.2 408.8L236.2 405.1L240.2 401.4L244.2 399.1L248.2 399" fill="none" stroke="#828282" stroke-width="3.1" stroke-linejoin="round"/>
<path d="M38.5 384.1C45.2 378.4 46.6 365.2 53.3 365.2C60 365.2 61.4 378.4 68.1 384.1C61.4 389.7 57.7 403 53.3 403C48.9 403 45.2 389.7 38.5 384.1Z" fill="#141414"/>
<path d="M78.7 386.2C85.3 379.9 86.8 365.2 93.5 365.2C100.1 365.2 101.6 379.9 108.3 386.2C101.6 392.5 97.9 407.2 93.5 407.2C89 407.2 85.3 392.5 78.7 386.2Z" fill="#141414"/>
<path d="M117.8 384.1C124.4 378.4 125.9 365.2 132.6 365.2C139.2 365.2 140.7 378.4 147.4 384.1C140.7 389.7 137 403 132.6 403C128.1 403 124.4 389.7 117.8 384.1Z" fill="#141414"/>
<path d="M157.9 384.1C164.6 378.4 166.1 365.2 172.7 365.2C179.4 365.2 180.9 378.4 187.5 384.1C180.9 389.7 177.2 403 172.7 403C168.3 403 164.6 389.7 157.9 384.1Z" fill="#141414"/>
<path d="M197 384.1C203.7 377.8 205.2 363.1 211.8 363.1C218.5 363.1 220 377.8 226.6 384.1C220 390.4 216.3 405.1 211.8 405.1C207.4 405.1 203.7 390.4 197 384.1Z" fill="#141414"/>
<path d="M237.2 382C240 378.8 240.7 371.5 243.5 371.5C246.4 371.5 247 378.8 249.9 382C247 385.1 245.4 392.5 243.5 392.5C241.6 392.5 240 385.1 237.2 382Z" fill="#242424"/>
</g>
<rect x="230" y="357.2" width="12" height="12" fill="#222"/>
<rect x="234.8" y="358.2" width="2.6" height="2.6" fill="#eee"/>
<rect x="238.6" y="358.2" width="2.6" height="2.6" fill="#eee"/>
<rect x="231" y="362" width="2.6" height="2.6" fill="#eee"/>
<rect x="234.8" y="362" width="2.6" height="2.6" fill="#eee"/>
<rect x="238.6" y="362" width="2.6" height="2.6" fill="#eee"/>
<rect x="231" y="365.8" width="2.6" height="2.6" fill="#eee"/>
<rect x="234.8" y="365.8" width="2.6" height="2.6" fill="#eee"/>
<rect x="238.6" y="365.8" width="2.6" height="2.6" fill="#eee"/>
</g>
<g clip-path="url(#ec4)"><g filter="url(#ef4)">
<rect x="247.4" y="350.7" width="222.1" height="115" fill="#444444"/>
<rect x="247.4" y="355.7" width="222.1" height="21" fill="#626262"/>
<rect x="247.4" y="376.7" width="222.1" height="42" fill="#323232"/>
<rect x="247.4" y="418.7" width="222.1" height="8.4" fill="#464646"/>
<rect x="247.4" y="437.6" width="222.1" height="23.1" fill="#969696"/>
<path d="M248.4 433.4L252.4 433.8L256.4 434.1L260.4 434.3L264.4 434.4L268.4 434.4L272.4 434.3L276.4 434.1L280.4 433.8L284.4 433.4L288.4 432.9L292.4 432.4L296.4 431.9L300.4 431.5L304.4 431L308.4 430.7L312.4 430.4L316.4 430.3L320.4 430.3L324.4 430.4L328.4 430.5L332.4 430.8L336.4 431.2L340.4 431.7L344.4 432.2L348.4 432.7L352.4 433.1L356.4 433.6L360.4 433.9L364.4 434.2L368.4 434.4L372.4 434.5L376.4 434.4L380.4 434.2L384.4 434L388.4 433.6L392.4 433.2L396.4 432.7L400.4 432.2L404.4 431.7L408.4 431.3L412.4 430.9L416.4 430.6L420.4 430.4L424.4 430.3L428.4 430.3L432.4 430.4L436.4 430.7L440.4 431L444.4 431.4L448.4 431.9L452.4 432.4L456.4 432.9L460.4 433.4L464.4 433.8L468.4 434.1L472.4 434.3" fill="none" stroke="#ebebeb" stroke-width="11.5" stroke-linejoin="round"/>
<path d="M248.4 448.4L252.4 448.5L256.4 448.6L260.4 448.6L264.4 448.5L268.4 448.3L272.4 448.1L276.4 447.8L280.4 447.4L284.4 447.1L288.4 446.7L292.4 446.4L296.4 446L300.4 445.8L304.4 445.6L308.4 445.5L312.4 445.5L316.4 445.6L320.4 445.7L324.4 446L328.4 446.2L332.4 446.6L336.4 447L340.4 447.3L344.4 447.7L348.4 448L352.4 448.3L356.4 448.5L360.4 448.6L364.4 448.6L368.4 448.6L372.4 448.4L376.4 448.2L380.4 448L384.4 447.6L388.4 447.3L392.4 446.9L396.4 446.5L400.4 446.2L404.4 445.9L408.4 445.7L412.4 445.5L416.4 445.5L420.4 445.5L424.4 445.6L428.4 445.8L432.4 446.1L436.4 446.4L440.4 446.8L444.4 447.1L448.4 447.5L452.4 447.8L456.4 448.1L460.4 448.4L464.4 448.5L468.4 448.6L472.4 448.6" fill="none" stroke="#f0f0f0" stroke-width="3.1" stroke-linejoin="round"/>
<path d="M248.4 384.2L252.4 385.1L256.4 384.2L260.4 381.9L264.4 379.2L268.4 377.2L272.4 376.8L276.4 378.2L280.4 380.8L284.4 383.4L288.4 385L292.4 384.8L296.4 382.9L300.4 380.2L304.4 377.8L308.4 376.7L312.4 377.5L316.4 379.8L320.4 382.5L324.4 384.6L328.4 385.1L332.4 383.8L336.4 381.2L340.4 378.6L344.4 376.9L348.4 377L352.4 378.8L356.4 381.5L360.4 383.9L364.4 385.1L368.4 384.5L372.4 382.3L376.4 379.5L380.4 377.4L384.4 376.8L388.4 377.9L392.4 380.4L396.4 383.1L400.4 384.9L404.4 384.9L408.4 383.3L412.4 380.6L416.4 378.1L420.4 376.8L424.4 377.3L428.4 379.4L432.4 382.1L436.4 384.4L440.4 385.1L444.4 384.1L448.4 381.7L452.4 378.9L456.4 377.1L460.4 376.9L464.4 378.4L468.4 381L472.4 383.6" fill="none" stroke="#8c8c8c" stroke-width="2.6" stroke-linejoin="round"/>
<path d="M248.2 395.6C251.6 390 257.5 376.7 265.2 376.7C272.8 376.7 278.7 390 282.1 395.6C278.7 401.3 270.3 414.5 265.2 414.5C260.1 414.5 251.6 401.3 248.2 395.6Z" fill="#0c0c0c"/>
<path d="M286.4 395.6C289.6 390 295.1 376.7 302.3 376.7C309.4 376.7 315 390 318.2 395.6C315 401.3 307.1 414.5 302.3 414.5C297.5 414.5 289.6 401.3 286.4 395.6Z" fill="#0c0c0c"/>
<path d="M323.5 395.6C326.7 390 332.2 376.7 339.4 376.7C346.5 376.7 352.1 390 355.3 395.6C352.1 401.3 344.2 414.5 339.4 414.5C334.6 414.5 326.7 401.3 323.5 395.6Z" fill="#0c0c0c"/>
<path d="M361.7 395.6C364.8 390 370.4 376.7 377.6 376.7C384.7 376.7 390.3 390 393.5 395.6C390.3 401.3 382.3 414.5 377.6 414.5C372.8 414.5 364.8 401.3 361.7 395.6Z" fill="#0c0c0c"/>
<path d="M399.8 395.6C403 390 408.6 376.7 415.7 376.7C422.9 376.7 428.5 390 431.6 395.6C428.5 401.3 420.5 414.5 415.7 414.5C411 414.5 403 401.3 399.8 395.6Z" fill="#0c0c0c"/>
<path d="M438 395.6C441.2 390 446.7 376.7 453.9 376.7C461.1 376.7 466.6 390 469.8 395.6C466.6 401.3 458.7 414.5 453.9 414.5C449.1 414.5 441.2 401.3 438 395.6Z" fill="#0c0c0c"/>
</g>
<rect x="451" y="357.2" width="12" height="12" fill="#222"/>
<rect x="455.8" y="358.2" width="2.6" height="2.6" fill="#eee"/>
<rect x="459.6" y="358.2" width="2.6" height="2.6" fill="#eee"/>
<rect x="452" y="362" width="2.6" height="2.6" fill="#eee"/>
<rect x="455.8" y="362" width="2.6" height="2.6" fill="#eee"/>
<rect x="459.6" y="362" width="2.6" height="2.6" fill="#eee"/>
<rect x="452" y="365.8" width="2.6" height="2.6" fill="#eee"/>
<rect x="455.8" y="365.8" width="2.6" height="2.6" fill="#eee"/>
<rect x="459.6" y="365.8" width="2.6" height="2.6" fill="#eee"/>
</g>
<text font-size="33" font-weight="700" stroke="#000" stroke-width="0.5" x="16.8" y="964.8">i</text>
<text font-size="21.5" font-weight="700" letter-spacing="-0.35" x="36.1" y="1071.6">DKO</text>
<text font-size="21.5" font-weight="700" letter-spacing="-0.34" x="6.6" y="1096.7">8-week-old</text>
<text font-size="21.5" font-weight="700" letter-spacing="0.07" x="37.6" y="1121.3">mice</text>
<line x1="130" y1="1095.3" x2="409.5" y2="1095.3" stroke="#000" stroke-width="3.6"/>
<line x1="130" y1="1083.2" x2="130" y2="1107.7" stroke="#000" stroke-width="3.4"/>
<line x1="185.7" y1="1083.2" x2="185.7" y2="1107.7" stroke="#000" stroke-width="3.4"/>
<line x1="244" y1="1083.2" x2="244" y2="1107.7" stroke="#000" stroke-width="3.4"/>
<line x1="296" y1="1083.2" x2="296" y2="1107.7" stroke="#000" stroke-width="3.4"/>
<line x1="355.8" y1="1083.2" x2="355.8" y2="1107.7" stroke="#000" stroke-width="3.4"/>
<line x1="409.5" y1="1083.2" x2="409.5" y2="1107.7" stroke="#000" stroke-width="3.4"/>
<text x="129.1" y="1133.1" font-size="21.5" font-weight="700" text-anchor="middle">0</text>
<text x="184.8" y="1133.1" font-size="21.5" font-weight="700" text-anchor="middle">1</text>
<text x="245.5" y="1133.1" font-size="21.5" font-weight="700" text-anchor="middle">2</text>
<text x="298.9" y="1133.1" font-size="21.5" font-weight="700" text-anchor="middle">3</text>
<text x="355.2" y="1129.4" font-size="21.5" font-weight="700" text-anchor="middle">4</text>
<text font-size="21.5" font-weight="700" letter-spacing="-0.74" x="403.7" y="1129.4">5 weeks</text>
<text font-size="21.5" font-weight="700" letter-spacing="-0.45" transform="translate(137.8 1072.2) rotate(-90)">Acclimation</text>
<text font-size="21.5" font-weight="700" letter-spacing="-0.55" transform="translate(189.2 1074.5) rotate(-90)">Excercise</text>
<text font-size="21.5" font-weight="700" letter-spacing="-0.50" transform="translate(410.1 1073) rotate(-90)">Histology</text>
<text font-size="20.5" font-weight="700" letter-spacing="-0.66" stroke="#000" stroke-width="0.5" transform="translate(95.3 1185.1) rotate(-45)" x="-1.3">Echo</text>
<text font-size="20.5" font-weight="700" letter-spacing="-0.66" stroke="#000" stroke-width="0.5" transform="translate(158.8 1185.1) rotate(-45)" x="-1.3">Echo</text>
<text font-size="20.5" font-weight="700" letter-spacing="-0.66" stroke="#000" stroke-width="0.5" transform="translate(374 1182.2) rotate(-45)" x="-1.3">Echo</text>
<circle cx="265.7" cy="972" r="62.3" fill="none" stroke="#000" stroke-width="2"/>
<circle cx="265.7" cy="972" r="54.4" fill="none" stroke="#000" stroke-width="2"/>
<line x1="265.5" y1="970.5" x2="234.4" y2="1065.3" stroke="#000" stroke-width="8.6" stroke-linecap="round"/>
<line x1="265.5" y1="974.5" x2="234.4" y2="1065.3" stroke="#fff" stroke-width="4.6" stroke-linecap="round"/>
<line x1="265.5" y1="970.5" x2="292.9" y2="1065.3" stroke="#000" stroke-width="8.6" stroke-linecap="round"/>
<line x1="265.5" y1="974.5" x2="292.9" y2="1065.3" stroke="#fff" stroke-width="4.6" stroke-linecap="round"/>
<rect x="260.3" y="965" width="10.5" height="11" rx="4" fill="#000"/>
<path d="M328.6 1003.1Q330.8 1014.5 317.9 1018.9" fill="none" stroke="#000" stroke-width="1.8" stroke-linecap="round"/>
<path d="M334.4 1002.5Q337 1020.3 320.6 1026.5" fill="none" stroke="#000" stroke-width="1.8" stroke-linecap="round"/>
<path d="M226.4 976.7L231.8 975.4L237.1 973.2L243.3 971.1L250.4 970.8L255.3 972.7L257.1 977.2L252.2 980.3L247.7 985.2L244.2 992.3L246.9 998.1L248.2 1003.8L243.3 1005.6L238.4 1005.4L234.4 1003L231.8 998.1L228.2 1002.5L225.5 1003.8L222.4 999.4L218.9 994.5L222 991.4L225.5 995.4L229.1 994.5L230.4 990.5L229.1 987.4L234.4 983.9L230.4 980.3Z" fill="#fff" stroke="#000" stroke-width="1.5" stroke-linejoin="round" stroke-linecap="round"/>
<ellipse cx="242.6" cy="977.2" rx="2.2" ry="1.8" fill="#000"/>
<path d="M236.2 969.6L234.9 972.7" fill="none" stroke="#000" stroke-width="1.2" stroke-linejoin="round" stroke-linecap="round"/>
<path d="M228.2 987L231.8 988.7L236.2 986.1L239.8 989.6L237.1 992.3L242 991.4L245.1 995" fill="none" stroke="#000" stroke-width="2.2" stroke-linejoin="round" stroke-linecap="round"/>
<path d="M230 986.1L234.4 989.6L238.9 987.4" fill="none" stroke="#000" stroke-width="2" stroke-linejoin="round" stroke-linecap="round"/>
<path d="M252.2 995L256.6 993.2L254 999.4L257.5 1003.8L253.1 1006.5L256.6 1010.9L252.2 1010.5" fill="none" stroke="#000" stroke-width="1.8" stroke-linejoin="round" stroke-linecap="round"/>
<path d="M239.8 1000.3L242.4 997.6L245.1 1000.3" fill="none" stroke="#000" stroke-width="1.3" stroke-linejoin="round" stroke-linecap="round"/>
<text font-size="33" font-weight="700" stroke="#000" stroke-width="0.5" x="17.8" y="1208.8">j</text>
<text font-size="20.5" font-weight="700" letter-spacing="0.56" stroke="#000" stroke-width="0.5" transform="translate(29.5 1286.1) rotate(-90)">CTRL</text>
<text font-size="20.5" font-weight="700" stroke="#000" stroke-width="0.5" transform="translate(29.5 1384.8) rotate(-90)">DKO</text>
<g clip-path="url(#ec5)"><g filter="url(#ef5)">
<rect x="35.4" y="1201.8" width="450.4" height="115.4" fill="#555555"/>
<rect x="35.4" y="1206.8" width="450.4" height="13.7" fill="#7d7d7d"/>
<rect x="35.4" y="1220.5" width="450.4" height="58" fill="#545454"/>
<path d="M36.4 1288L40.4 1288.2L44.4 1288.4L48.4 1288.5L52.4 1288.4L56.4 1288.2L60.4 1287.9L64.4 1287.5L68.4 1287L72.4 1286.4L76.4 1285.8L80.4 1285.2L84.4 1284.6L88.4 1284L92.4 1283.5L96.4 1283L100.4 1282.6L104.4 1282.3L108.4 1282.2L112.4 1282.1L116.4 1282.2L120.4 1282.4L124.4 1282.7L128.4 1283.1L132.4 1283.6L136.4 1284.2L140.4 1284.8L144.4 1285.4L148.4 1286L152.4 1286.6L156.4 1287.1L160.4 1287.6L164.4 1288L168.4 1288.3L172.4 1288.4L176.4 1288.5L180.4 1288.4L184.4 1288.2L188.4 1287.9L192.4 1287.5L196.4 1287L200.4 1286.4L204.4 1285.8L208.4 1285.2L212.4 1284.6L216.4 1284L220.4 1283.4L224.4 1283L228.4 1282.6L232.4 1282.3L236.4 1282.2L240.4 1282.1L244.4 1282.2L248.4 1282.4L252.4 1282.7L256.4 1283.2L260.4 1283.7L264.4 1284.2L268.4 1284.8L272.4 1285.4L276.4 1286.1L280.4 1286.6L284.4 1287.2L288.4 1287.6L292.4 1288L296.4 1288.3L300.4 1288.4L304.4 1288.5L308.4 1288.4L312.4 1288.2L316.4 1287.8L320.4 1287.4L324.4 1286.9L328.4 1286.4L332.4 1285.8L336.4 1285.1L340.4 1284.5L344.4 1283.9L348.4 1283.4L352.4 1282.9L356.4 1282.6L360.4 1282.3L364.4 1282.2L368.4 1282.1L372.4 1282.2L376.4 1282.4L380.4 1282.8L384.4 1283.2L388.4 1283.7L392.4 1284.3L396.4 1284.9L400.4 1285.5L404.4 1286.1L408.4 1286.7L412.4 1287.2L416.4 1287.7L420.4 1288L424.4 1288.3L428.4 1288.4L432.4 1288.5L436.4 1288.4L440.4 1288.1L444.4 1287.8L448.4 1287.4L452.4 1286.9L456.4 1286.3L460.4 1285.7L464.4 1285.1L468.4 1284.5L472.4 1283.9L476.4 1283.4L480.4 1282.9L484.4 1282.6L488.4 1282.3L484.8 1317.4L36.4 1317.4Z" fill="#878787"/>
<path d="M36.4 1286.9L40.4 1287.2L44.4 1287.4L48.4 1287.4L52.4 1287.3L56.4 1287.1L60.4 1286.8L64.4 1286.4L68.4 1285.9L72.4 1285.4L76.4 1284.8L80.4 1284.2L84.4 1283.6L88.4 1283L92.4 1282.4L96.4 1282L100.4 1281.6L104.4 1281.3L108.4 1281.1L112.4 1281.1L116.4 1281.2L120.4 1281.4L124.4 1281.7L128.4 1282.1L132.4 1282.6L136.4 1283.1L140.4 1283.7L144.4 1284.3L148.4 1285L152.4 1285.5L156.4 1286.1L160.4 1286.6L164.4 1286.9L168.4 1287.2L172.4 1287.4L176.4 1287.4L180.4 1287.3L184.4 1287.1L188.4 1286.8L192.4 1286.4L196.4 1285.9L200.4 1285.3L204.4 1284.7L208.4 1284.1L212.4 1283.5L216.4 1282.9L220.4 1282.4L224.4 1281.9L228.4 1281.5L232.4 1281.3L236.4 1281.1L240.4 1281.1L244.4 1281.2L248.4 1281.4L252.4 1281.7L256.4 1282.1L260.4 1282.6L264.4 1283.2L268.4 1283.8L272.4 1284.4L276.4 1285L280.4 1285.6L284.4 1286.1L288.4 1286.6L292.4 1287L296.4 1287.2L300.4 1287.4L304.4 1287.4L308.4 1287.3L312.4 1287.1L316.4 1286.8L320.4 1286.4L324.4 1285.9L328.4 1285.3L332.4 1284.7L336.4 1284.1L340.4 1283.5L344.4 1282.9L348.4 1282.4L352.4 1281.9L356.4 1281.5L360.4 1281.3L364.4 1281.1L368.4 1281.1L372.4 1281.2L376.4 1281.4L380.4 1281.7L384.4 1282.1L388.4 1282.6L392.4 1283.2L396.4 1283.8L400.4 1284.4L404.4 1285L408.4 1285.6L412.4 1286.2L416.4 1286.6L420.4 1287L424.4 1287.2L428.4 1287.4L432.4 1287.4L436.4 1287.3L440.4 1287.1L444.4 1286.8L448.4 1286.3L452.4 1285.8L456.4 1285.3L460.4 1284.7L464.4 1284L468.4 1283.4L472.4 1282.8L476.4 1282.3L480.4 1281.9L484.4 1281.5L488.4 1281.2" fill="none" stroke="#f0f0f0" stroke-width="6.3" stroke-linejoin="round"/>
<path d="M36.4 1254.7L40.4 1255.9L44.4 1256.3L48.4 1255.6L52.4 1254.1L56.4 1252.3L60.4 1250.7L64.4 1250L68.4 1250.3L72.4 1251.6L76.4 1253.4L80.4 1255.1L84.4 1256.1L88.4 1256.2L92.4 1255.3L96.4 1253.6L100.4 1251.8L104.4 1250.4L108.4 1250L112.4 1250.6L116.4 1252L120.4 1253.9L124.4 1255.4L128.4 1256.3L132.4 1256L136.4 1254.9L140.4 1253.1L144.4 1251.4L148.4 1250.2L152.4 1250L156.4 1250.9L160.4 1252.5L164.4 1254.3L168.4 1255.7L172.4 1256.3L176.4 1255.8L180.4 1254.4L184.4 1252.6L188.4 1251L192.4 1250.1L196.4 1250.2L200.4 1251.3L204.4 1253L208.4 1254.8L212.4 1256L216.4 1256.3L220.4 1255.5L224.4 1254L228.4 1252.2L232.4 1250.7L236.4 1250L240.4 1250.4L244.4 1251.7L248.4 1253.5L252.4 1255.2L256.4 1256.2L260.4 1256.2L264.4 1255.2L268.4 1253.5L272.4 1251.7L276.4 1250.4L280.4 1250L284.4 1250.7L288.4 1252.1L292.4 1254L296.4 1255.5L300.4 1256.3L304.4 1256L308.4 1254.8L312.4 1253L316.4 1251.3L320.4 1250.2L324.4 1250.1L328.4 1251L332.4 1252.6L336.4 1254.4L340.4 1255.8L344.4 1256.3L348.4 1255.8L352.4 1254.3L356.4 1252.5L360.4 1250.9L364.4 1250L368.4 1250.2L372.4 1251.4L376.4 1253.1L380.4 1254.9L384.4 1256L388.4 1256.3L392.4 1255.5L396.4 1253.9L400.4 1252L404.4 1250.6L408.4 1250L412.4 1250.4L416.4 1251.8L420.4 1253.6L424.4 1255.2L428.4 1256.2L432.4 1256.1L436.4 1255.1L440.4 1253.4L444.4 1251.6L448.4 1250.3L452.4 1250L456.4 1250.7L460.4 1252.2L464.4 1254.1L468.4 1255.6L472.4 1256.3L476.4 1256L480.4 1254.7L484.4 1252.9L488.4 1251.2" fill="none" stroke="#828282" stroke-width="3.2" stroke-linejoin="round"/>
<path d="M51.4 1238.4C55 1233.3 61.1 1221.5 69.1 1221.5C77 1221.5 83.2 1233.3 86.7 1238.4C83.2 1243.5 74.3 1255.3 69.1 1255.3C63.8 1255.3 55 1243.5 51.4 1238.4Z" fill="#2a2a2a"/>
<path d="M58 1264.7C61.1 1261.6 66.5 1254.2 73.5 1254.2C80.4 1254.2 85.8 1261.6 88.9 1264.7C85.8 1267.9 78.1 1275.3 73.5 1275.3C68.8 1275.3 61.1 1267.9 58 1264.7Z" fill="#323232"/>
<path d="M94.4 1238.4C97.9 1233.3 104.1 1221.5 112 1221.5C119.9 1221.5 126.1 1233.3 129.6 1238.4C126.1 1243.5 117.3 1255.3 112 1255.3C106.7 1255.3 97.9 1243.5 94.4 1238.4Z" fill="#2a2a2a"/>
<path d="M101 1264.7C104.1 1261.6 109.5 1254.2 116.4 1254.2C123.3 1254.2 128.7 1261.6 131.8 1264.7C128.7 1267.9 121 1275.3 116.4 1275.3C111.8 1275.3 104.1 1267.9 101 1264.7Z" fill="#323232"/>
<path d="M137.3 1238.4C140.8 1233.3 147 1221.5 154.9 1221.5C162.9 1221.5 169 1233.3 172.6 1238.4C169 1243.5 160.2 1255.3 154.9 1255.3C149.7 1255.3 140.8 1243.5 137.3 1238.4Z" fill="#2a2a2a"/>
<path d="M143.9 1264.7C147 1261.6 152.4 1254.2 159.3 1254.2C166.3 1254.2 171.7 1261.6 174.8 1264.7C171.7 1267.9 164 1275.3 159.3 1275.3C154.7 1275.3 147 1267.9 143.9 1264.7Z" fill="#323232"/>
<path d="M180.3 1238.4C183.8 1233.3 189.9 1221.5 197.9 1221.5C205.8 1221.5 212 1233.3 215.5 1238.4C212 1243.5 203.2 1255.3 197.9 1255.3C192.6 1255.3 183.8 1243.5 180.3 1238.4Z" fill="#2a2a2a"/>
<path d="M186.9 1264.7C189.9 1261.6 195.3 1254.2 202.3 1254.2C209.2 1254.2 214.6 1261.6 217.7 1264.7C214.6 1267.9 206.9 1275.3 202.3 1275.3C197.7 1275.3 189.9 1267.9 186.9 1264.7Z" fill="#323232"/>
<path d="M223.2 1238.4C226.7 1233.3 232.9 1221.5 240.8 1221.5C248.7 1221.5 254.9 1233.3 258.4 1238.4C254.9 1243.5 246.1 1255.3 240.8 1255.3C235.5 1255.3 226.7 1243.5 223.2 1238.4Z" fill="#2a2a2a"/>
<path d="M229.8 1264.7C232.9 1261.6 238.3 1254.2 245.2 1254.2C252.2 1254.2 257.6 1261.6 260.6 1264.7C257.6 1267.9 249.8 1275.3 245.2 1275.3C240.6 1275.3 232.9 1267.9 229.8 1264.7Z" fill="#323232"/>
<path d="M266.1 1238.4C269.7 1233.3 275.8 1221.5 283.8 1221.5C291.7 1221.5 297.8 1233.3 301.4 1238.4C297.8 1243.5 289 1255.3 283.8 1255.3C278.5 1255.3 269.7 1243.5 266.1 1238.4Z" fill="#2a2a2a"/>
<path d="M272.7 1264.7C275.8 1261.6 281.2 1254.2 288.2 1254.2C295.1 1254.2 300.5 1261.6 303.6 1264.7C300.5 1267.9 292.8 1275.3 288.2 1275.3C283.5 1275.3 275.8 1267.9 272.7 1264.7Z" fill="#323232"/>
<path d="M309.1 1238.4C312.6 1233.3 318.8 1221.5 326.7 1221.5C334.6 1221.5 340.8 1233.3 344.3 1238.4C340.8 1243.5 332 1255.3 326.7 1255.3C321.4 1255.3 312.6 1243.5 309.1 1238.4Z" fill="#2a2a2a"/>
<path d="M315.7 1264.7C318.8 1261.6 324.2 1254.2 331.1 1254.2C338 1254.2 343.4 1261.6 346.5 1264.7C343.4 1267.9 335.7 1275.3 331.1 1275.3C326.5 1275.3 318.8 1267.9 315.7 1264.7Z" fill="#282828"/>
<path d="M352 1238.4C355.5 1233.3 361.7 1221.5 369.6 1221.5C377.6 1221.5 383.7 1233.3 387.3 1238.4C383.7 1243.5 374.9 1255.3 369.6 1255.3C364.3 1255.3 355.5 1243.5 352 1238.4Z" fill="#2a2a2a"/>
<path d="M358.6 1264.7C361.7 1261.6 367.1 1254.2 374 1254.2C381 1254.2 386.4 1261.6 389.5 1264.7C386.4 1267.9 378.7 1275.3 374 1275.3C369.4 1275.3 361.7 1267.9 358.6 1264.7Z" fill="#282828"/>
<path d="M395 1238.4C398.5 1233.3 404.6 1221.5 412.6 1221.5C420.5 1221.5 426.7 1233.3 430.2 1238.4C426.7 1243.5 417.9 1255.3 412.6 1255.3C407.3 1255.3 398.5 1243.5 395 1238.4Z" fill="#2a2a2a"/>
<path d="M401.6 1264.7C404.6 1261.6 410 1254.2 417 1254.2C423.9 1254.2 429.3 1261.6 432.4 1264.7C429.3 1267.9 421.6 1275.3 417 1275.3C412.4 1275.3 404.6 1267.9 401.6 1264.7Z" fill="#282828"/>
<path d="M437.9 1238.4C441.4 1233.3 447.6 1221.5 455.5 1221.5C463.4 1221.5 469.6 1233.3 473.1 1238.4C469.6 1243.5 460.8 1255.3 455.5 1255.3C450.2 1255.3 441.4 1243.5 437.9 1238.4Z" fill="#2a2a2a"/>
<path d="M444.5 1264.7C447.6 1261.6 453 1254.2 459.9 1254.2C466.9 1254.2 472.2 1261.6 475.3 1264.7C472.2 1267.9 464.5 1275.3 459.9 1275.3C455.3 1275.3 447.6 1267.9 444.5 1264.7Z" fill="#282828"/>
</g>
<rect x="467.3" y="1208.3" width="12" height="12" fill="#222"/>
<rect x="472.1" y="1209.3" width="2.6" height="2.6" fill="#eee"/>
<rect x="475.9" y="1209.3" width="2.6" height="2.6" fill="#eee"/>
<rect x="468.3" y="1213.1" width="2.6" height="2.6" fill="#eee"/>
<rect x="472.1" y="1213.1" width="2.6" height="2.6" fill="#eee"/>
<rect x="475.9" y="1213.1" width="2.6" height="2.6" fill="#eee"/>
<rect x="468.3" y="1216.9" width="2.6" height="2.6" fill="#eee"/>
<rect x="472.1" y="1216.9" width="2.6" height="2.6" fill="#eee"/>
<rect x="475.9" y="1216.9" width="2.6" height="2.6" fill="#eee"/>
</g>
<g clip-path="url(#ec6)"><g filter="url(#ef6)">
<rect x="35.4" y="1314.4" width="450.4" height="116" fill="#555555"/>
<rect x="35.4" y="1319.4" width="450.4" height="13.8" fill="#767676"/>
<rect x="35.4" y="1333.2" width="450.4" height="56.2" fill="#525252"/>
<path d="M36.4 1398.7L40.4 1398.3L44.4 1397.8L48.4 1397.2L52.4 1396.6L56.4 1396L60.4 1395.4L64.4 1394.7L68.4 1394.1L72.4 1393.6L76.4 1393.1L80.4 1392.7L84.4 1392.3L88.4 1392.1L92.4 1392L96.4 1392L100.4 1392.1L104.4 1392.3L108.4 1392.6L112.4 1393.1L116.4 1393.5L120.4 1394.1L124.4 1394.7L128.4 1395.3L132.4 1396L136.4 1396.6L140.4 1397.2L144.4 1397.8L148.4 1398.3L152.4 1398.7L156.4 1399L160.4 1399.3L164.4 1399.4L168.4 1399.4L172.4 1399.3L176.4 1399.1L180.4 1398.8L184.4 1398.4L188.4 1398L192.4 1397.4L196.4 1396.8L200.4 1396.2L204.4 1395.6L208.4 1394.9L212.4 1394.3L216.4 1393.7L220.4 1393.2L224.4 1392.8L228.4 1392.4L232.4 1392.2L236.4 1392L240.4 1392L244.4 1392.1L248.4 1392.2L252.4 1392.5L256.4 1392.9L260.4 1393.4L264.4 1393.9L268.4 1394.5L272.4 1395.1L276.4 1395.7L280.4 1396.4L284.4 1397L288.4 1397.6L292.4 1398.1L296.4 1398.6L300.4 1398.9L304.4 1399.2L308.4 1399.4L312.4 1399.4L316.4 1399.4L320.4 1399.2L324.4 1398.9L328.4 1398.6L332.4 1398.1L336.4 1397.6L340.4 1397L344.4 1396.4L348.4 1395.8L352.4 1395.1L356.4 1394.5L360.4 1393.9L364.4 1393.4L368.4 1392.9L372.4 1392.6L376.4 1392.3L380.4 1392.1L384.4 1392L388.4 1392L392.4 1392.2L396.4 1392.4L400.4 1392.8L404.4 1393.2L408.4 1393.7L412.4 1394.3L416.4 1394.9L420.4 1395.5L424.4 1396.2L428.4 1396.8L432.4 1397.4L436.4 1397.9L440.4 1398.4L444.4 1398.8L448.4 1399.1L452.4 1399.3L456.4 1399.4L460.4 1399.4L464.4 1399.3L468.4 1399L472.4 1398.7L476.4 1398.3L480.4 1397.8L484.4 1397.2L488.4 1396.6L484.8 1430.7L36.4 1430.7Z" fill="#696969"/>
<ellipse cx="128.5" cy="1425.4" rx="30.8" ry="21.2" fill="#7d7d7d"/>
<ellipse cx="260.6" cy="1425.4" rx="30.8" ry="26.5" fill="#969696"/>
<ellipse cx="406" cy="1425.4" rx="26.4" ry="26.5" fill="#919191"/>
<path d="M36.4 1397.6L40.4 1397.2L44.4 1396.7L48.4 1396.2L52.4 1395.6L56.4 1394.9L60.4 1394.3L64.4 1393.7L68.4 1393.1L72.4 1392.5L76.4 1392L80.4 1391.6L84.4 1391.3L88.4 1391.1L92.4 1391L96.4 1391L100.4 1391.1L104.4 1391.3L108.4 1391.6L112.4 1392L116.4 1392.5L120.4 1393L124.4 1393.6L128.4 1394.3L132.4 1394.9L136.4 1395.5L140.4 1396.1L144.4 1396.7L148.4 1397.2L152.4 1397.6L156.4 1398L160.4 1398.2L164.4 1398.3L168.4 1398.4L172.4 1398.3L176.4 1398.1L180.4 1397.8L184.4 1397.4L188.4 1396.9L192.4 1396.4L196.4 1395.8L200.4 1395.1L204.4 1394.5L208.4 1393.9L212.4 1393.3L216.4 1392.7L220.4 1392.2L224.4 1391.7L228.4 1391.4L232.4 1391.1L236.4 1391L240.4 1390.9L244.4 1391L248.4 1391.2L252.4 1391.5L256.4 1391.8L260.4 1392.3L264.4 1392.8L268.4 1393.4L272.4 1394L276.4 1394.7L280.4 1395.3L284.4 1395.9L288.4 1396.5L292.4 1397L296.4 1397.5L300.4 1397.9L304.4 1398.1L308.4 1398.3L312.4 1398.4L316.4 1398.3L320.4 1398.1L324.4 1397.9L328.4 1397.5L332.4 1397.1L336.4 1396.5L340.4 1396L344.4 1395.4L348.4 1394.7L352.4 1394.1L356.4 1393.5L360.4 1392.9L364.4 1392.3L368.4 1391.9L372.4 1391.5L376.4 1391.2L380.4 1391L384.4 1390.9L388.4 1391L392.4 1391.1L396.4 1391.4L400.4 1391.7L404.4 1392.1L408.4 1392.7L412.4 1393.2L416.4 1393.8L420.4 1394.5L424.4 1395.1L428.4 1395.7L432.4 1396.3L436.4 1396.9L440.4 1397.4L444.4 1397.7L448.4 1398.1L452.4 1398.3L456.4 1398.4L460.4 1398.3L464.4 1398.2L468.4 1398L472.4 1397.6L476.4 1397.2L480.4 1396.7L484.4 1396.2L488.4 1395.6" fill="none" stroke="#f0f0f0" stroke-width="6.4" stroke-linejoin="round"/>
<path d="M29.4 1361.8C32.4 1354.8 40.3 1338.5 49.2 1338.5C58.2 1338.5 66.1 1354.8 69.1 1361.8C66.1 1368.8 55.2 1385.1 49.2 1385.1C43.3 1385.1 32.4 1368.8 29.4 1361.8Z" fill="#262626"/>
<path d="M77 1361.8C80 1354.8 87.9 1338.5 96.8 1338.5C105.7 1338.5 113.6 1354.8 116.6 1361.8C113.6 1368.8 102.7 1385.1 96.8 1385.1C90.9 1385.1 80 1368.8 77 1361.8Z" fill="#262626"/>
<path d="M124.5 1361.8C127.5 1354.8 135.4 1338.5 144.4 1338.5C153.3 1338.5 161.2 1354.8 164.2 1361.8C161.2 1368.8 150.3 1385.1 144.4 1385.1C138.4 1385.1 127.5 1368.8 124.5 1361.8Z" fill="#262626"/>
<path d="M172.1 1361.8C175.1 1354.8 183 1338.5 191.9 1338.5C200.8 1338.5 208.8 1354.8 211.7 1361.8C208.8 1368.8 197.9 1385.1 191.9 1385.1C186 1385.1 175.1 1368.8 172.1 1361.8Z" fill="#262626"/>
<path d="M219.7 1361.8C222.6 1354.8 230.6 1338.5 239.5 1338.5C248.4 1338.5 256.3 1354.8 259.3 1361.8C256.3 1368.8 245.4 1385.1 239.5 1385.1C233.5 1385.1 222.6 1368.8 219.7 1361.8Z" fill="#262626"/>
<path d="M267.2 1361.8C270.2 1354.8 278.1 1338.5 287.1 1338.5C296 1338.5 303.9 1354.8 306.9 1361.8C303.9 1368.8 293 1385.1 287.1 1385.1C281.1 1385.1 270.2 1368.8 267.2 1361.8Z" fill="#262626"/>
<path d="M314.8 1361.8C317.8 1354.8 325.7 1338.5 334.6 1338.5C343.5 1338.5 351.5 1354.8 354.4 1361.8C351.5 1368.8 340.6 1385.1 334.6 1385.1C328.7 1385.1 317.8 1368.8 314.8 1361.8Z" fill="#262626"/>
<path d="M362.4 1361.8C365.3 1354.8 373.3 1338.5 382.2 1338.5C391.1 1338.5 399 1354.8 402 1361.8C399 1368.8 388.1 1385.1 382.2 1385.1C376.2 1385.1 365.3 1368.8 362.4 1361.8Z" fill="#262626"/>
<path d="M409.9 1361.8C412.9 1354.8 420.8 1338.5 429.7 1338.5C438.7 1338.5 446.6 1354.8 449.6 1361.8C446.6 1368.8 435.7 1385.1 429.7 1385.1C423.8 1385.1 412.9 1368.8 409.9 1361.8Z" fill="#262626"/>
<path d="M457.5 1361.8C460.5 1354.8 468.4 1338.5 477.3 1338.5C486.2 1338.5 494.2 1354.8 497.1 1361.8C494.2 1368.8 483.3 1385.1 477.3 1385.1C471.4 1385.1 460.5 1368.8 457.5 1361.8Z" fill="#262626"/>
</g>
<rect x="467.3" y="1320.9" width="12" height="12" fill="#222"/>
<rect x="472.1" y="1321.9" width="2.6" height="2.6" fill="#eee"/>
<rect x="475.9" y="1321.9" width="2.6" height="2.6" fill="#eee"/>
<rect x="468.3" y="1325.7" width="2.6" height="2.6" fill="#eee"/>
<rect x="472.1" y="1325.7" width="2.6" height="2.6" fill="#eee"/>
<rect x="475.9" y="1325.7" width="2.6" height="2.6" fill="#eee"/>
<rect x="468.3" y="1329.5" width="2.6" height="2.6" fill="#eee"/>
<rect x="472.1" y="1329.5" width="2.6" height="2.6" fill="#eee"/>
<rect x="475.9" y="1329.5" width="2.6" height="2.6" fill="#eee"/>
</g>
<text font-size="33" font-weight="700" stroke="#000" stroke-width="0.5" x="1292.5" y="481.4">h</text>
<text font-size="20.5" font-weight="700" letter-spacing="0.99" stroke="#000" stroke-width="0.5" x="1379.2" y="486.5">SHAM</text>
<text font-size="20.5" font-weight="700" letter-spacing="-0.15" stroke="#000" stroke-width="0.5" x="1573.7" y="486.5">TAC</text>
<text font-size="20.5" font-weight="700" letter-spacing="0.57" stroke="#000" stroke-width="0.5" transform="translate(1312.9 599.1) rotate(-90)">CTRL</text>
<text font-size="20.5" font-weight="700" letter-spacing="0.66" stroke="#000" stroke-width="0.5" transform="translate(1312.9 782.2) rotate(-90)">DKO</text>
<rect x="1322.6" y="494.1" width="173.6" height="173.6" fill="#04140a" filter="url(#gf1)"/>
<rect x="1504.4" y="494.1" width="173.6" height="173.6" fill="#04140a" filter="url(#gf2)"/>
<rect x="1322.6" y="674.2" width="173.6" height="173.6" fill="#04140a" filter="url(#gf3)"/>
<g clip-path="url(#gc3)">
<ellipse cx="1366" cy="778.3" rx="43.4" ry="86.8" fill="#020a04" opacity="0.4" filter="url(#blur8)"/>
</g>
<rect x="1504.4" y="674.2" width="173.6" height="173.6" fill="#04140a" filter="url(#gf4)"/>
<rect x="1456.9" y="641.7" width="28.1" height="4.1" fill="#fff"/>
<rect x="1636.9" y="641.7" width="28.1" height="4.1" fill="#fff"/>
<rect x="1456.9" y="821.2" width="28.1" height="3.8" fill="#fff"/>
<rect x="1636.9" y="821.2" width="28.1" height="3.8" fill="#fff"/>
<text font-size="33" font-weight="700" stroke="#000" stroke-width="0.5" x="1256.4" y="1435.3">p</text>
<text font-size="20.5" font-weight="700" letter-spacing="1.13" stroke="#000" stroke-width="0.5" x="1351.7" y="1423.2">SHAM</text>
<text font-size="20.5" font-weight="700" letter-spacing="0.55" stroke="#000" stroke-width="0.5" x="1525.9" y="1423.2">Exercise</text>
<text font-size="20.5" font-weight="700" letter-spacing="0.69" stroke="#000" stroke-width="0.5" transform="translate(1287.8 1541.5) rotate(-90)">CTRL</text>
<text font-size="20.5" font-weight="700" letter-spacing="0.82" stroke="#000" stroke-width="0.5" transform="translate(1287.8 1723.3) rotate(-90)">DKO</text>
<rect x="1297.1" y="1433.2" width="173.8" height="173.6" fill="#04140a" filter="url(#gf5)"/>
<rect x="1477.8" y="1433.2" width="174.1" height="173.6" fill="#04140a" filter="url(#gf6)"/>
<rect x="1297.1" y="1613.2" width="173.8" height="173.6" fill="#04140a" filter="url(#gf7)"/>
<rect x="1477.8" y="1613.2" width="174.1" height="173.6" fill="#04140a" filter="url(#gf8)"/>
<rect x="1430.8" y="1596" width="29.6" height="4.4" fill="#fff"/>
<rect x="1604.6" y="1595.2" width="28.3" height="4.1" fill="#fff"/>
<rect x="1427.7" y="1775.2" width="28.3" height="4.1" fill="#fff"/>
<rect x="1603.8" y="1775.2" width="28.3" height="4.1" fill="#fff"/>
<rect x="983.9" y="519.1" width="143.7" height="179.2" fill="#fffbfd"/>
<rect x="1127.6" y="522.3" width="145.3" height="172.7" fill="#fffdfe"/>
<g filter="url(#hx)">
<path d="M720.5 572.5C721.2 570.1 724 564.5 727.4 561.5C730.8 558.5 736.5 556.5 741.1 554.7C745.7 552.8 752.3 550.3 754.8 550.5C757.3 550.8 757.8 553.7 756.2 556C754.6 558.3 749.3 561.5 745.2 564.2C741.1 567 735.2 570.5 731.5 572.5C727.9 574.4 725.1 575.9 723.3 575.9C721.5 575.9 719.9 574.9 720.5 572.5Z" fill="#c22896"/>
<path d="M794.5 564.2C795 562.5 796.3 559.7 798.6 560.8C800.9 562 805.3 567.8 808.2 571.1C811.2 574.4 814.2 578.1 816.4 580.7C818.7 583.3 822.4 586.2 821.9 586.8C821.5 587.5 816.7 586.3 813.7 584.8C810.7 583.3 807.1 580.2 804.1 577.9C801.1 575.7 797.5 573.4 795.9 571.1C794.3 568.8 794.1 566 794.5 564.2Z" fill="#c22896"/>
<path d="M754.8 564.2C749.8 564.9 740.2 571.1 734.2 575.2C728.3 579.3 722.1 582.7 719.2 588.9C716.2 595.1 716.4 603.7 716.4 612.2C716.4 620.6 716.9 631.6 719.2 639.6C721.5 647.6 725.3 653.7 730.1 660.1C734.9 666.5 741.6 673.2 747.9 677.9C754.3 682.7 762.8 687 768.5 688.9C774.2 690.8 777.6 691 782.2 689.6C786.8 688.2 791.3 685.6 795.9 680.7C800.5 675.8 806.2 667 809.6 660.1C813 653.3 815.1 646.4 816.4 639.6C817.8 632.7 818 625.9 817.8 619C817.6 612.2 816.9 604.2 815.1 598.5C813.2 592.8 810 588.7 806.8 584.8C803.7 580.9 800 577.3 795.9 575.2C791.8 573.2 785.8 572.5 782.2 572.5C778.5 572.5 776.9 575.4 774 575.2C771 575 767.6 572.9 764.4 571.1C761.2 569.3 759.8 563.6 754.8 564.2Z" fill="#c22896"/>
<path d="M870.5 571.1C871.2 568.6 873.2 563.3 876.7 560.1C880.3 556.9 887 553.7 891.8 551.9C896.6 550.1 903 548.7 905.5 549.2C908 549.6 908.4 552.4 906.8 554.7C905.3 556.9 900.2 560.1 895.9 562.9C891.6 565.6 884.7 569 880.8 571.1C876.9 573.2 874.3 575.2 872.6 575.2C870.9 575.2 869.9 573.6 870.5 571.1Z" fill="#c22896"/>
<path d="M932.9 562.9C934.7 561.3 938.1 559 941.1 560.1C944.1 561.3 948.1 565.6 950.7 569.7C953.3 573.8 957.5 583.2 956.8 584.8C956.2 586.4 950.1 580.9 946.6 579.3C943 577.7 938.4 576.8 935.6 575.2C932.9 573.6 930.6 571.8 930.1 569.7C929.7 567.7 931.1 564.5 932.9 562.9Z" fill="#c22896"/>
<path d="M917.8 557.4C918.9 554.7 923.1 552.4 926 551.9C929 551.5 934.5 552.4 935.6 554.7C936.8 556.9 934.7 562.6 932.9 565.6C931.1 568.6 926.9 572 924.7 572.5C922.4 572.9 920.3 570.9 919.2 568.4C918 565.8 916.7 560.1 917.8 557.4Z" fill="#c22896"/>
<path d="M891.8 569.7C887.9 570.6 882.2 573.4 878.1 576.6C874 579.8 869.5 583 867.1 588.9C864.7 594.8 863.7 604.2 863.7 612.2C863.7 620.2 864.7 629.3 867.1 636.8C869.5 644.4 873.5 651.2 878.1 657.4C882.6 663.6 888.8 670.2 894.5 673.8C900.2 677.5 906.4 679.1 912.3 679.3C918.3 679.5 924.4 678.9 930.1 675.2C935.8 671.6 942.5 663.8 946.6 657.4C950.7 651 953 644.4 954.8 636.8C956.6 629.3 957.5 619.7 957.5 612.2C957.5 604.7 956.6 596.7 954.8 591.6C953 586.6 950.2 584.1 946.6 582.1C942.9 580 937 579.3 932.9 579.3C928.8 579.3 925.6 582.3 921.9 582.1C918.3 581.8 914.4 579.8 911 577.9C907.5 576.1 904.6 572.5 901.4 571.1C898.2 569.7 895.7 568.8 891.8 569.7Z" fill="#c22896"/>
<path d="M1002 567.2C1001.8 565 1005 559.2 1006.4 554C1007.9 548.9 1009.1 540.3 1010.8 536.4C1012.5 532.5 1013.8 530.8 1016.7 530.5C1019.6 530.3 1025.5 532.5 1028.4 535C1031.4 537.4 1035 543 1034.3 545.2C1033.6 547.4 1027.2 546 1024 548.2C1020.9 550.4 1017.9 555.3 1015.2 558.4C1012.5 561.6 1010.1 565.8 1007.9 567.2C1005.7 568.7 1002.3 569.4 1002 567.2Z" fill="#d21f84"/>
<path d="M1069.5 557C1070 553.8 1073.2 545 1075.4 542.3C1077.6 539.6 1079.1 539.4 1082.7 540.8C1086.4 542.3 1093 546.9 1097.4 551.1C1101.8 555.3 1106.5 561.6 1109.2 565.8C1111.8 569.9 1115 575.3 1113.6 576C1112.1 576.8 1105.5 572.1 1100.4 570.2C1095.2 568.2 1087.4 565.8 1082.7 564.3C1078.1 562.8 1074.7 562.6 1072.5 561.4C1070.3 560.1 1069 560.1 1069.5 557Z" fill="#d21f84"/>
<path d="M1028.4 561.4C1023.1 563.1 1017.2 567.5 1012.3 571.6C1007.4 575.8 1002.3 580.7 999.1 586.3C995.9 591.9 993.9 598.6 993.2 605.4C992.5 612.3 993 620.1 994.7 627.4C996.4 634.8 999.6 642.3 1003.5 649.4C1007.4 656.5 1012.3 663.9 1018.2 670C1024 676.1 1031.6 682.2 1038.7 686.1C1045.8 690 1053.9 692.5 1060.7 693.5C1067.6 694.4 1074.2 694.4 1079.8 692C1085.4 689.5 1090.1 684.7 1094.5 678.8C1098.9 672.9 1103.3 664.1 1106.2 656.8C1109.2 649.4 1110.9 642.1 1112.1 634.8C1113.3 627.4 1114.1 620.1 1113.6 612.7C1113.1 605.4 1111.8 597.3 1109.2 590.7C1106.5 584.1 1101.8 577.5 1097.4 573.1C1093 568.7 1087.6 566.3 1082.7 564.3C1077.8 562.3 1072.7 561.1 1068.1 561.4C1063.4 561.6 1058.8 565.8 1054.9 565.8C1050.9 565.8 1049 562.1 1044.6 561.4C1040.2 560.6 1033.8 559.7 1028.4 561.4Z" fill="#d21f84"/>
<path d="M1151.7 573.1C1152.2 571.9 1152.9 570.4 1156.1 567.2C1159.3 564.1 1166.4 557.1 1170.8 554C1175.2 551 1180.3 549.1 1182.5 548.9C1184.7 548.6 1185.5 550.5 1184 552.6C1182.5 554.6 1177.7 558.4 1173.7 561.4C1169.8 564.3 1164 568 1160.5 570.2C1157.1 572.4 1154.7 574.1 1153.2 574.6C1151.7 575.1 1151.2 574.3 1151.7 573.1Z" fill="#d21f84"/>
<path d="M1203.1 558.4C1203.1 555 1204.6 548.6 1209 548.2C1213.4 547.7 1223.6 552.1 1229.5 555.5C1235.4 558.9 1239.8 564.1 1244.2 568.7C1248.6 573.4 1253.5 579 1255.9 583.4C1258.4 587.8 1260.1 594.1 1258.9 595.1C1257.6 596.1 1252.5 591.9 1248.6 589.3C1244.7 586.6 1239.8 581.9 1235.4 579C1231 576 1226.6 573.4 1222.2 571.6C1217.8 569.9 1212.1 570.9 1209 568.7C1205.8 566.5 1203.1 561.9 1203.1 558.4Z" fill="#d21f84"/>
<path d="M1184.7 568.7C1185.4 565.5 1189 556.6 1191.4 551.1C1193.7 545.6 1197.2 538 1198.7 535.7C1200.2 533.4 1201 534.1 1200.2 537.2C1199.3 540.2 1195.6 548.5 1193.6 554C1191.5 559.5 1189.1 567.7 1187.7 570.2C1186.2 572.6 1184.1 571.9 1184.7 568.7Z" fill="#d21f84"/>
<path d="M1185.5 571.6C1181.8 572.4 1175.9 576 1170.8 579C1165.7 581.9 1158.8 585.1 1154.7 589.3C1150.5 593.4 1147.6 598.6 1145.9 603.9C1144.1 609.3 1143.9 615.2 1144.4 621.5C1144.9 627.9 1146.3 635.5 1148.8 642.1C1151.2 648.7 1154.7 655.1 1159.1 661.2C1163.5 667.3 1169.6 673.9 1175.2 678.8C1180.8 683.7 1187.2 688.1 1192.8 690.5C1198.4 693 1203.3 694.2 1209 693.5C1214.6 692.7 1221.2 690.3 1226.6 686.1C1232 682 1237.3 675.1 1241.3 668.5C1245.2 661.9 1248.1 653.8 1250.1 646.5C1252 639.2 1253 631.6 1253 624.5C1253 617.4 1252 610 1250.1 603.9C1248.1 597.8 1245.2 592.2 1241.3 587.8C1237.3 583.4 1231.5 579.5 1226.6 577.5C1221.7 575.6 1216.3 575.3 1211.9 576C1207.5 576.8 1203.3 582.2 1200.2 581.9C1197 581.7 1195.3 576.3 1192.8 574.6C1190.4 572.9 1189.1 570.9 1185.5 571.6Z" fill="#d21f84"/>
</g>
<path d="M767.1 575.2C768.3 575.2 771.5 581.4 772.6 584.8C773.7 588.2 771.7 595.1 774 595.8C776.3 596.4 783.8 588.2 786.3 588.9C788.8 589.6 788.8 595.8 789 599.9C789.3 604 789 610.4 787.7 613.6C786.3 616.8 781.5 615.6 780.8 619C780.1 622.5 783.8 629.5 783.6 634.1C783.3 638.7 779.9 641.4 779.5 646.4C779 651.5 781.5 659.5 780.8 664.2C780.1 669 777.4 673.6 775.3 675.2C773.3 676.8 769.9 676.3 768.5 673.8C767.1 671.3 767.8 665.8 767.1 660.1C766.4 654.4 765.1 646.4 764.4 639.6C763.7 632.7 763 625.9 763 619C763 612.2 763.9 604.2 764.4 598.5C764.8 592.8 765.3 588.7 765.8 584.8C766.2 580.9 766 575.2 767.1 575.2Z" fill="#fff"/>
<path d="M753.4 569.7C750.9 571.8 744.7 578.9 741.1 584.8C737.4 590.7 733.8 598.5 731.5 605.3C729.2 612.2 727.9 619 727.4 625.9C726.9 632.7 726.7 640 728.8 646.4C730.8 652.8 738.6 663.8 739.7 664.2C740.9 664.7 736.8 655.1 735.6 649.2C734.5 643.2 732.6 635.5 732.9 628.6C733.1 621.8 734.7 614.7 737 608.1C739.3 601.5 743.4 594.8 746.6 588.9C749.8 583 755 575.7 756.2 572.5C757.3 569.3 755.9 567.7 753.4 569.7Z" fill="#fff"/>
<path d="M761.6 557.4C763.2 554.9 767.8 551.2 771.2 550.5C774.7 549.9 779.9 550.8 782.2 553.3C784.5 555.8 785.4 562.4 784.9 565.6C784.5 568.8 782.2 571.1 779.5 572.5C776.7 573.8 771.5 575 768.5 573.8C765.5 572.7 762.8 568.4 761.6 565.6C760.5 562.9 760 559.9 761.6 557.4Z" fill="#fff"/>
<path d="M911 582.1C912.8 579.8 918.7 583.2 921.9 584.8C925.1 586.4 928.3 587.1 930.1 591.6C932 596.2 932.6 606.5 932.9 612.2C933.1 617.9 933.3 622.9 931.5 625.9C929.7 628.9 923.5 626.6 921.9 630C920.3 633.4 922.6 642.6 921.9 646.4C921.2 650.3 919.2 650.8 917.8 653.3C916.4 655.8 915.1 662.6 913.7 661.5C912.3 660.4 911 651.2 909.6 646.4C908.2 641.6 905.5 637.3 905.5 632.7C905.5 628.2 908.7 624.7 909.6 619C910.5 613.3 910.7 604.7 911 598.5C911.2 592.3 909.1 584.3 911 582.1Z" fill="#fff"/>
<path d="M890.4 572.5C887.4 574.5 883.6 581.8 880.8 587.5C878.1 593.2 874.7 600.3 874 606.7C873.3 613.1 875.1 624.5 876.7 625.9C878.3 627.3 882.6 619.5 883.6 614.9C884.5 610.4 880.8 604 882.2 598.5C883.6 593 889 585.9 891.8 582.1C894.5 578.2 898.9 576.8 898.6 575.2C898.4 573.6 893.4 570.4 890.4 572.5Z" fill="#fff"/>
<path d="M920.5 558.8C921.3 556.9 924 555 926 554.7C928.1 554.3 932 555.1 932.9 556.7C933.8 558.3 932.9 562.1 931.5 564.2C930.1 566.4 926.4 569.5 924.7 569.7C922.9 570 921.9 567.4 921.2 565.6C920.5 563.8 919.7 560.6 920.5 558.8Z" fill="#fff"/>
<path d="M1049 565.8C1050.2 565.3 1051.2 577 1053.4 580.5C1055.6 583.9 1060 583.4 1062.2 586.3C1064.4 589.3 1066.4 593.7 1066.6 598.1C1066.8 602.5 1063.4 607.8 1063.7 612.7C1063.9 617.6 1067.3 621.3 1068.1 627.4C1068.8 633.5 1067.6 643.3 1068.1 649.4C1068.6 655.5 1071 660.2 1071 664.1C1071 668 1070 672.9 1068.1 672.9C1066.1 672.9 1062.2 668 1059.3 664.1C1056.3 660.2 1052.9 655.5 1050.5 649.4C1048 643.3 1045.8 634.8 1044.6 627.4C1043.4 620.1 1042.9 612.7 1043.1 605.4C1043.4 598.1 1045.1 590 1046 583.4C1047 576.8 1047.8 566.3 1049 565.8Z" fill="#fff"/>
<path d="M1073.9 601C1075.2 599.5 1080.5 601.5 1081.3 603.9C1082 606.4 1077.6 611.8 1078.3 615.7C1079.1 619.6 1086.2 624.5 1085.7 627.4C1085.2 630.4 1077.8 633.8 1075.4 633.3C1073 632.8 1071.2 627.9 1071 624.5C1070.8 621.1 1073.4 616.7 1073.9 612.7C1074.4 608.8 1072.7 602.5 1073.9 601Z" fill="#fff"/>
<path d="M1024 568.7C1021.3 571.6 1015.2 580.2 1012.3 586.3C1009.4 592.4 1007.4 598.6 1006.4 605.4C1005.4 612.3 1005.4 620.1 1006.4 627.4C1007.4 634.8 1009.4 642.6 1012.3 649.4C1015.2 656.3 1023.3 668.5 1024 668.5C1024.8 668.5 1018.9 656.3 1016.7 649.4C1014.5 642.6 1011.7 634.8 1010.8 627.4C1010 620.1 1010.3 612.3 1011.6 605.4C1012.8 598.6 1015.3 592.4 1018.2 586.3C1021 580.2 1027.5 571.6 1028.4 568.7C1029.4 565.8 1026.7 565.8 1024 568.7Z" fill="#fff"/>
<path d="M1078.3 551.1C1079.1 549.3 1083.2 545.2 1085.7 545.2C1088.1 545.2 1092.8 549.1 1093 551.1C1093.3 553.1 1089.1 556.1 1087.1 557C1085.2 557.8 1082.7 557.2 1081.3 556.2C1079.8 555.3 1077.6 552.9 1078.3 551.1Z" fill="#fff"/>
<path d="M1034.3 554C1035 552.3 1042.4 551.1 1046 551.1C1049.7 551.1 1055.1 551.8 1056.3 554C1057.5 556.2 1055.8 563.1 1053.4 564.3C1050.9 565.5 1044.8 563.1 1041.6 561.4C1038.5 559.7 1033.6 555.7 1034.3 554Z" fill="#fff"/>
<path d="M1197.2 598.1C1199.2 597.3 1203.1 598.6 1204.6 601C1206 603.4 1206.8 608.3 1206 612.7C1205.3 617.1 1200.9 622.5 1200.2 627.4C1199.4 632.3 1200.9 637.2 1201.6 642.1C1202.4 647 1203.8 651.9 1204.6 656.8C1205.3 661.7 1205.5 666.6 1206 671.4C1206.5 676.3 1208 684.2 1207.5 686.1C1207 688.1 1204.8 686.9 1203.1 683.2C1201.4 679.5 1199.2 671 1197.2 664.1C1195.3 657.3 1192.6 649.4 1191.4 642.1C1190.1 634.8 1189.6 626.2 1189.9 620.1C1190.1 614 1191.6 609.1 1192.8 605.4C1194 601.7 1195.3 598.8 1197.2 598.1Z" fill="#fff"/>
<path d="M1222.2 621.5C1223.6 620.1 1226.8 617.1 1226.6 618.6C1226.3 620.1 1222.7 626.4 1220.7 630.4C1218.7 634.3 1216.5 637.7 1214.8 642.1C1213.1 646.5 1211.4 651.9 1210.4 656.8C1209.5 661.7 1209.5 671.4 1209 671.4C1208.5 671.4 1207 662.2 1207.5 656.8C1208 651.4 1210.2 644.1 1211.9 639.2C1213.6 634.3 1216.1 630.4 1217.8 627.4C1219.5 624.5 1220.7 623 1222.2 621.5Z" fill="#fff"/>
<path d="M1176.7 580.5C1174 582.9 1168 589.7 1164.9 595.1C1161.9 600.5 1159.3 606.1 1158.3 612.7C1157.3 619.3 1158 628.4 1159.1 634.8C1160.2 641.1 1164.6 650.9 1164.9 650.9C1165.3 650.9 1161.8 641.1 1161.3 634.8C1160.8 628.4 1160.7 619.3 1162 612.7C1163.3 606.1 1166.2 600.5 1169.3 595.1C1172.5 589.7 1179.9 582.9 1181.1 580.5C1182.3 578 1179.4 578 1176.7 580.5Z" fill="#fff"/>
<path d="M1213.4 554C1214.3 552.1 1221.4 552.6 1223.6 554C1225.8 555.5 1227.6 560.9 1226.6 562.8C1225.6 564.8 1220 567.2 1217.8 565.8C1215.6 564.3 1212.4 556 1213.4 554Z" fill="#fff"/>
<g filter="url(#hy)">
<path d="M720.5 735.5C721.2 733.1 724 727.5 727.4 724.5C730.8 721.5 736.5 719.5 741.1 717.7C745.7 715.8 752.3 713.3 754.8 713.5C757.3 713.8 757.8 716.7 756.2 719C754.6 721.3 749.3 724.5 745.2 727.2C741.1 730 735.2 733.5 731.5 735.5C727.9 737.4 725.1 738.9 723.3 738.9C721.5 738.9 719.9 737.9 720.5 735.5Z" fill="#45203a"/>
<path d="M794.5 727.2C795 725.5 796.3 722.7 798.6 723.8C800.9 725 805.3 730.8 808.2 734.1C811.2 737.4 814.2 741.1 816.4 743.7C818.7 746.3 822.4 749.2 821.9 749.8C821.5 750.5 816.7 749.3 813.7 747.8C810.7 746.3 807.1 743.2 804.1 740.9C801.1 738.7 797.5 736.4 795.9 734.1C794.3 731.8 794.1 729 794.5 727.2Z" fill="#45203a"/>
<path d="M754.8 727.2C749.8 727.9 740.2 734.1 734.2 738.2C728.3 742.3 722.1 745.7 719.2 751.9C716.2 758.1 716.4 766.7 716.4 775.2C716.4 783.6 716.9 794.6 719.2 802.6C721.5 810.6 725.3 816.7 730.1 823.1C734.9 829.5 741.6 836.2 747.9 840.9C754.3 845.7 762.8 850 768.5 851.9C774.2 853.8 777.6 854 782.2 852.6C786.8 851.2 791.3 848.6 795.9 843.7C800.5 838.8 806.2 830 809.6 823.1C813 816.3 815.1 809.4 816.4 802.6C817.8 795.7 818 788.9 817.8 782C817.6 775.2 816.9 767.2 815.1 761.5C813.2 755.8 810 751.7 806.8 747.8C803.7 743.9 800 740.3 795.9 738.2C791.8 736.2 785.8 735.5 782.2 735.5C778.5 735.5 776.9 738.4 774 738.2C771 738 767.6 735.9 764.4 734.1C761.2 732.3 759.8 726.6 754.8 727.2Z" fill="url(#trg)"/>
<path d="M870.5 741.1C871.2 738.6 873.2 733.3 876.7 730.1C880.3 726.9 887 723.7 891.8 721.9C896.6 720.1 903 718.7 905.5 719.2C908 719.6 908.4 722.4 906.8 724.7C905.3 726.9 900.2 730.1 895.9 732.9C891.6 735.6 884.7 739 880.8 741.1C876.9 743.2 874.3 745.2 872.6 745.2C870.9 745.2 869.9 743.6 870.5 741.1Z" fill="#45203a"/>
<path d="M932.9 732.9C934.7 731.3 938.1 729 941.1 730.1C944.1 731.3 948.1 735.6 950.7 739.7C953.3 743.8 957.5 753.2 956.8 754.8C956.2 756.4 950.1 750.9 946.6 749.3C943 747.7 938.4 746.8 935.6 745.2C932.9 743.6 930.6 741.8 930.1 739.7C929.7 737.7 931.1 734.5 932.9 732.9Z" fill="#45203a"/>
<path d="M917.8 727.4C918.9 724.7 923.1 722.4 926 721.9C929 721.5 934.5 722.4 935.6 724.7C936.8 726.9 934.7 732.6 932.9 735.6C931.1 738.6 926.9 742 924.7 742.5C922.4 742.9 920.3 740.9 919.2 738.4C918 735.8 916.7 730.1 917.8 727.4Z" fill="#45203a"/>
<path d="M891.8 739.7C887.9 740.6 882.2 743.4 878.1 746.6C874 749.8 869.5 753 867.1 758.9C864.7 764.8 863.7 774.2 863.7 782.2C863.7 790.2 864.7 799.3 867.1 806.8C869.5 814.4 873.5 821.2 878.1 827.4C882.6 833.6 888.8 840.2 894.5 843.8C900.2 847.5 906.4 849.1 912.3 849.3C918.3 849.5 924.4 848.9 930.1 845.2C935.8 841.6 942.5 833.8 946.6 827.4C950.7 821 953 814.4 954.8 806.8C956.6 799.3 957.5 789.7 957.5 782.2C957.5 774.7 956.6 766.7 954.8 761.6C953 756.6 950.2 754.1 946.6 752.1C942.9 750 937 749.3 932.9 749.3C928.8 749.3 925.6 752.3 921.9 752.1C918.3 751.8 914.4 749.8 911 747.9C907.5 746.1 904.6 742.5 901.4 741.1C898.2 739.7 895.7 738.8 891.8 739.7Z" fill="url(#trg)"/>
<path d="M1002 736.2C1001.8 734 1005 728.2 1006.4 723C1007.9 717.9 1009.1 709.3 1010.8 705.4C1012.5 701.5 1013.8 699.8 1016.7 699.5C1019.6 699.3 1025.5 701.5 1028.4 704C1031.4 706.4 1035 712 1034.3 714.2C1033.6 716.4 1027.2 715 1024 717.2C1020.9 719.4 1017.9 724.3 1015.2 727.4C1012.5 730.6 1010.1 734.8 1007.9 736.2C1005.7 737.7 1002.3 738.4 1002 736.2Z" fill="#45203a"/>
<path d="M1069.5 726C1070 722.8 1073.2 714 1075.4 711.3C1077.6 708.6 1079.1 708.4 1082.7 709.8C1086.4 711.3 1093 715.9 1097.4 720.1C1101.8 724.3 1106.5 730.6 1109.2 734.8C1111.8 738.9 1115 744.3 1113.6 745C1112.1 745.8 1105.5 741.1 1100.4 739.2C1095.2 737.2 1087.4 734.8 1082.7 733.3C1078.1 731.8 1074.7 731.6 1072.5 730.4C1070.3 729.1 1069 729.1 1069.5 726Z" fill="#45203a"/>
<path d="M1028.4 730.4C1023.1 732.1 1017.2 736.5 1012.3 740.6C1007.4 744.8 1002.3 749.7 999.1 755.3C995.9 760.9 993.9 767.6 993.2 774.4C992.5 781.3 993 789.1 994.7 796.4C996.4 803.8 999.6 811.3 1003.5 818.4C1007.4 825.5 1012.3 832.9 1018.2 839C1024 845.1 1031.6 851.2 1038.7 855.1C1045.8 859 1053.9 861.5 1060.7 862.5C1067.6 863.4 1074.2 863.4 1079.8 861C1085.4 858.5 1090.1 853.7 1094.5 847.8C1098.9 841.9 1103.3 833.1 1106.2 825.8C1109.2 818.4 1110.9 811.1 1112.1 803.8C1113.3 796.4 1114.1 789.1 1113.6 781.7C1113.1 774.4 1111.8 766.3 1109.2 759.7C1106.5 753.1 1101.8 746.5 1097.4 742.1C1093 737.7 1087.6 735.3 1082.7 733.3C1077.8 731.3 1072.7 730.1 1068.1 730.4C1063.4 730.6 1058.8 734.8 1054.9 734.8C1050.9 734.8 1049 731.1 1044.6 730.4C1040.2 729.6 1033.8 728.7 1028.4 730.4Z" fill="url(#trg)"/>
<path d="M1151.7 742.1C1152.2 740.9 1152.9 739.4 1156.1 736.2C1159.3 733.1 1166.4 726.1 1170.8 723C1175.2 720 1180.3 718.1 1182.5 717.9C1184.7 717.6 1185.5 719.5 1184 721.6C1182.5 723.6 1177.7 727.4 1173.7 730.4C1169.8 733.3 1164 737 1160.5 739.2C1157.1 741.4 1154.7 743.1 1153.2 743.6C1151.7 744.1 1151.2 743.3 1151.7 742.1Z" fill="#45203a"/>
<path d="M1203.1 727.4C1203.1 724 1204.6 717.6 1209 717.2C1213.4 716.7 1223.6 721.1 1229.5 724.5C1235.4 727.9 1239.8 733.1 1244.2 737.7C1248.6 742.4 1253.5 748 1255.9 752.4C1258.4 756.8 1260.1 763.1 1258.9 764.1C1257.6 765.1 1252.5 760.9 1248.6 758.3C1244.7 755.6 1239.8 750.9 1235.4 748C1231 745 1226.6 742.4 1222.2 740.6C1217.8 738.9 1212.1 739.9 1209 737.7C1205.8 735.5 1203.1 730.9 1203.1 727.4Z" fill="#45203a"/>
<path d="M1184.7 737.7C1185.4 734.5 1189 725.6 1191.4 720.1C1193.7 714.6 1197.2 707 1198.7 704.7C1200.2 702.4 1201 703.1 1200.2 706.2C1199.3 709.2 1195.6 717.5 1193.6 723C1191.5 728.5 1189.1 736.7 1187.7 739.2C1186.2 741.6 1184.1 740.9 1184.7 737.7Z" fill="#45203a"/>
<path d="M1185.5 740.6C1181.8 741.4 1175.9 745 1170.8 748C1165.7 750.9 1158.8 754.1 1154.7 758.3C1150.5 762.4 1147.6 767.6 1145.9 772.9C1144.1 778.3 1143.9 784.2 1144.4 790.5C1144.9 796.9 1146.3 804.5 1148.8 811.1C1151.2 817.7 1154.7 824.1 1159.1 830.2C1163.5 836.3 1169.6 842.9 1175.2 847.8C1180.8 852.7 1187.2 857.1 1192.8 859.5C1198.4 862 1203.3 863.2 1209 862.5C1214.6 861.7 1221.2 859.3 1226.6 855.1C1232 851 1237.3 844.1 1241.3 837.5C1245.2 830.9 1248.1 822.8 1250.1 815.5C1252 808.2 1253 800.6 1253 793.5C1253 786.4 1252 779 1250.1 772.9C1248.1 766.8 1245.2 761.2 1241.3 756.8C1237.3 752.4 1231.5 748.5 1226.6 746.5C1221.7 744.6 1216.3 744.3 1211.9 745C1207.5 745.8 1203.3 751.2 1200.2 750.9C1197 750.7 1195.3 745.3 1192.8 743.6C1190.4 741.9 1189.1 739.9 1185.5 740.6Z" fill="url(#trg)"/>
</g>
<path d="M767.1 738.2C768.3 738.2 771.5 744.4 772.6 747.8C773.7 751.2 771.7 758.1 774 758.8C776.3 759.4 783.8 751.2 786.3 751.9C788.8 752.6 788.8 758.8 789 762.9C789.3 767 789 773.4 787.7 776.6C786.3 779.8 781.5 778.6 780.8 782C780.1 785.5 783.8 792.5 783.6 797.1C783.3 801.7 779.9 804.4 779.5 809.4C779 814.5 781.5 822.5 780.8 827.2C780.1 832 777.4 836.6 775.3 838.2C773.3 839.8 769.9 839.3 768.5 836.8C767.1 834.3 767.8 828.8 767.1 823.1C766.4 817.4 765.1 809.4 764.4 802.6C763.7 795.7 763 788.9 763 782C763 775.2 763.9 767.2 764.4 761.5C764.8 755.8 765.3 751.7 765.8 747.8C766.2 743.9 766 738.2 767.1 738.2Z" fill="#fff"/>
<path d="M753.4 732.7C750.9 734.8 744.7 741.9 741.1 747.8C737.4 753.7 733.8 761.5 731.5 768.3C729.2 775.2 727.9 782 727.4 788.9C726.9 795.7 726.7 803 728.8 809.4C730.8 815.8 738.6 826.8 739.7 827.2C740.9 827.7 736.8 818.1 735.6 812.2C734.5 806.2 732.6 798.5 732.9 791.6C733.1 784.8 734.7 777.7 737 771.1C739.3 764.5 743.4 757.8 746.6 751.9C749.8 746 755 738.7 756.2 735.5C757.3 732.3 755.9 730.7 753.4 732.7Z" fill="#fff"/>
<path d="M761.6 720.4C763.2 717.9 767.8 714.2 771.2 713.5C774.7 712.9 779.9 713.8 782.2 716.3C784.5 718.8 785.4 725.4 784.9 728.6C784.5 731.8 782.2 734.1 779.5 735.5C776.7 736.8 771.5 738 768.5 736.8C765.5 735.7 762.8 731.4 761.6 728.6C760.5 725.9 760 722.9 761.6 720.4Z" fill="#fff"/>
<path d="M760.3 720.4C761 721.8 763 725.6 764.4 728.6C765.8 731.6 767.8 736.6 768.5 738.2" fill="none" stroke="#2f4fb5" stroke-width="2.2" stroke-linecap="round"/>
<path d="M783.6 717.7C783.3 719.5 783.3 725.4 782.2 728.6C781.1 731.8 777.6 735.5 776.7 736.8" fill="none" stroke="#2f4fb5" stroke-width="2.2" stroke-linecap="round"/>
<path d="M911 752.1C912.8 749.8 918.7 753.2 921.9 754.8C925.1 756.4 928.3 757.1 930.1 761.6C932 766.2 932.6 776.5 932.9 782.2C933.1 787.9 933.3 792.9 931.5 795.9C929.7 798.9 923.5 796.6 921.9 800C920.3 803.4 922.6 812.6 921.9 816.4C921.2 820.3 919.2 820.8 917.8 823.3C916.4 825.8 915.1 832.6 913.7 831.5C912.3 830.4 911 821.2 909.6 816.4C908.2 811.6 905.5 807.3 905.5 802.7C905.5 798.2 908.7 794.7 909.6 789C910.5 783.3 910.7 774.7 911 768.5C911.2 762.3 909.1 754.3 911 752.1Z" fill="#fff"/>
<path d="M890.4 742.5C887.4 744.5 883.6 751.8 880.8 757.5C878.1 763.2 874.7 770.3 874 776.7C873.3 783.1 875.1 794.5 876.7 795.9C878.3 797.3 882.6 789.5 883.6 784.9C884.5 780.4 880.8 774 882.2 768.5C883.6 763 889 755.9 891.8 752.1C894.5 748.2 898.9 746.8 898.6 745.2C898.4 743.6 893.4 740.4 890.4 742.5Z" fill="#fff"/>
<path d="M920.5 728.8C921.3 726.9 924 725 926 724.7C928.1 724.3 932 725.1 932.9 726.7C933.8 728.3 932.9 732.1 931.5 734.2C930.1 736.4 926.4 739.5 924.7 739.7C922.9 740 921.9 737.4 921.2 735.6C920.5 733.8 919.7 730.6 920.5 728.8Z" fill="#fff"/>
<path d="M901.4 738.4C902.5 739.7 906.2 744.3 908.2 746.6C910.3 748.9 912.8 751.1 913.7 752.1" fill="none" stroke="#2f4fb5" stroke-width="2.2" stroke-linecap="round"/>
<path d="M919.2 727.4C920.1 729.7 924.2 737 924.7 741.1C925.1 745.2 922.4 750.2 921.9 752.1" fill="none" stroke="#2f4fb5" stroke-width="2.2" stroke-linecap="round"/>
<path d="M1049 734.8C1050.2 734.3 1051.2 746 1053.4 749.5C1055.6 752.9 1060 752.4 1062.2 755.3C1064.4 758.3 1066.4 762.7 1066.6 767.1C1066.8 771.5 1063.4 776.8 1063.7 781.7C1063.9 786.6 1067.3 790.3 1068.1 796.4C1068.8 802.5 1067.6 812.3 1068.1 818.4C1068.6 824.5 1071 829.2 1071 833.1C1071 837 1070 841.9 1068.1 841.9C1066.1 841.9 1062.2 837 1059.3 833.1C1056.3 829.2 1052.9 824.5 1050.5 818.4C1048 812.3 1045.8 803.8 1044.6 796.4C1043.4 789.1 1042.9 781.7 1043.1 774.4C1043.4 767.1 1045.1 759 1046 752.4C1047 745.8 1047.8 735.3 1049 734.8Z" fill="#fff"/>
<path d="M1073.9 770C1075.2 768.5 1080.5 770.5 1081.3 772.9C1082 775.4 1077.6 780.8 1078.3 784.7C1079.1 788.6 1086.2 793.5 1085.7 796.4C1085.2 799.4 1077.8 802.8 1075.4 802.3C1073 801.8 1071.2 796.9 1071 793.5C1070.8 790.1 1073.4 785.7 1073.9 781.7C1074.4 777.8 1072.7 771.5 1073.9 770Z" fill="#fff"/>
<path d="M1024 737.7C1021.3 740.6 1015.2 749.2 1012.3 755.3C1009.4 761.4 1007.4 767.6 1006.4 774.4C1005.4 781.3 1005.4 789.1 1006.4 796.4C1007.4 803.8 1009.4 811.6 1012.3 818.4C1015.2 825.3 1023.3 837.5 1024 837.5C1024.8 837.5 1018.9 825.3 1016.7 818.4C1014.5 811.6 1011.7 803.8 1010.8 796.4C1010 789.1 1010.3 781.3 1011.6 774.4C1012.8 767.6 1015.3 761.4 1018.2 755.3C1021 749.2 1027.5 740.6 1028.4 737.7C1029.4 734.8 1026.7 734.8 1024 737.7Z" fill="#fff"/>
<path d="M1078.3 720.1C1079.1 718.3 1083.2 714.2 1085.7 714.2C1088.1 714.2 1092.8 718.1 1093 720.1C1093.3 722.1 1089.1 725.1 1087.1 726C1085.2 726.8 1082.7 726.2 1081.3 725.2C1079.8 724.3 1077.6 721.9 1078.3 720.1Z" fill="#fff"/>
<path d="M1034.3 723C1035 721.3 1042.4 720.1 1046 720.1C1049.7 720.1 1055.1 720.8 1056.3 723C1057.5 725.2 1055.8 732.1 1053.4 733.3C1050.9 734.5 1044.8 732.1 1041.6 730.4C1038.5 728.7 1033.6 724.7 1034.3 723Z" fill="#fff"/>
<path d="M1050.5 727.4C1051.7 729.1 1055.8 733.1 1057.8 737.7C1059.7 742.4 1061.5 752.4 1062.2 755.3" fill="none" stroke="#2f4fb5" stroke-width="2.2" stroke-linecap="round"/>
<path d="M1059.3 723C1059.7 724.5 1061.7 730.4 1062.2 731.8" fill="none" stroke="#2f4fb5" stroke-width="2.2" stroke-linecap="round"/>
<path d="M1197.2 767.1C1199.2 766.3 1203.1 767.6 1204.6 770C1206 772.4 1206.8 777.3 1206 781.7C1205.3 786.1 1200.9 791.5 1200.2 796.4C1199.4 801.3 1200.9 806.2 1201.6 811.1C1202.4 816 1203.8 820.9 1204.6 825.8C1205.3 830.7 1205.5 835.6 1206 840.4C1206.5 845.3 1208 853.2 1207.5 855.1C1207 857.1 1204.8 855.9 1203.1 852.2C1201.4 848.5 1199.2 840 1197.2 833.1C1195.3 826.3 1192.6 818.4 1191.4 811.1C1190.1 803.8 1189.6 795.2 1189.9 789.1C1190.1 783 1191.6 778.1 1192.8 774.4C1194 770.7 1195.3 767.8 1197.2 767.1Z" fill="#fff"/>
<path d="M1222.2 790.5C1223.6 789.1 1226.8 786.1 1226.6 787.6C1226.3 789.1 1222.7 795.4 1220.7 799.4C1218.7 803.3 1216.5 806.7 1214.8 811.1C1213.1 815.5 1211.4 820.9 1210.4 825.8C1209.5 830.7 1209.5 840.4 1209 840.4C1208.5 840.4 1207 831.2 1207.5 825.8C1208 820.4 1210.2 813.1 1211.9 808.2C1213.6 803.3 1216.1 799.4 1217.8 796.4C1219.5 793.5 1220.7 792 1222.2 790.5Z" fill="#fff"/>
<path d="M1176.7 749.5C1174 751.9 1168 758.7 1164.9 764.1C1161.9 769.5 1159.3 775.1 1158.3 781.7C1157.3 788.3 1158 797.4 1159.1 803.8C1160.2 810.1 1164.6 819.9 1164.9 819.9C1165.3 819.9 1161.8 810.1 1161.3 803.8C1160.8 797.4 1160.7 788.3 1162 781.7C1163.3 775.1 1166.2 769.5 1169.3 764.1C1172.5 758.7 1179.9 751.9 1181.1 749.5C1182.3 747 1179.4 747 1176.7 749.5Z" fill="#fff"/>
<path d="M1213.4 723C1214.3 721.1 1221.4 721.6 1223.6 723C1225.8 724.5 1227.6 729.9 1226.6 731.8C1225.6 733.8 1220 736.2 1217.8 734.8C1215.6 733.3 1212.4 725 1213.4 723Z" fill="#fff"/>
<path d="M1198.7 705.4C1197.5 708.4 1193.6 717.4 1191.4 723C1189.1 728.7 1185.5 735.5 1185.5 739.2C1185.5 742.8 1190.4 744.1 1191.4 745" fill="none" stroke="#2f4fb5" stroke-width="2.2" stroke-linecap="round"/>
<path d="M1206 718.6C1205.8 720.8 1204.1 727.9 1204.6 731.8C1205 735.8 1208.2 740.4 1209 742.1" fill="none" stroke="#2f4fb5" stroke-width="2.2" stroke-linecap="round"/>
<g filter="url(#hx)">
<path d="M743.8 1507.9C743.2 1506.2 745.7 1500.6 747.9 1497C750.2 1493.3 753.2 1488.2 757.5 1486C761.9 1483.9 770.5 1483.1 774 1484C777.4 1484.9 777.9 1488.7 778.1 1491.5C778.3 1494.4 777.6 1498.8 775.3 1501.1C773.1 1503.4 768.3 1504.2 764.4 1505.2C760.5 1506.2 755.5 1506.8 752.1 1507.3C748.6 1507.7 744.5 1509.7 743.8 1507.9Z" fill="#c22896"/>
<path d="M787.7 1499.7C788.8 1499.5 792.7 1504.3 795.9 1503.8C799.1 1503.4 803.4 1497.7 806.8 1497C810.3 1496.3 813.9 1497.2 816.4 1499.7C818.9 1502.2 820.5 1507.5 821.9 1512.1C823.3 1516.6 825.3 1525.5 824.7 1527.1C824 1528.7 820.3 1523.7 817.8 1521.6C815.3 1519.6 812.3 1516.4 809.6 1514.8C806.8 1513.2 803.7 1513.2 801.4 1512.1C799.1 1510.9 797.9 1509.1 795.9 1507.9C793.8 1506.8 790.4 1506.6 789 1505.2C787.7 1503.8 786.5 1500 787.7 1499.7Z" fill="#c22896"/>
<path d="M765.8 1512.1C762.1 1512.3 756.6 1512.1 752.1 1513.4C747.5 1514.8 741.8 1516.4 738.4 1520.3C734.9 1524.2 733 1530.8 731.5 1536.7C730 1542.6 729.2 1549.3 729.5 1555.9C729.7 1562.5 730.7 1570 732.9 1576.4C735 1582.8 738.4 1588.8 742.5 1594.2C746.6 1599.7 752.3 1605.2 757.5 1609.3C762.8 1613.4 769.4 1617.2 774 1618.9C778.5 1620.6 780.8 1620.7 784.9 1619.6C789 1618.4 794.3 1615.8 798.6 1612.1C803 1608.3 807.5 1602.9 811 1597C814.4 1591.1 817.2 1583.3 819.2 1576.4C821.1 1569.6 822.4 1562.5 822.6 1555.9C822.8 1549.3 822 1542 820.5 1536.7C819.1 1531.5 816.4 1527.4 813.7 1524.4C811 1521.4 807.1 1518.7 804.1 1518.9C801.1 1519.1 798.6 1526 795.9 1525.8C793.2 1525.5 790.4 1521 787.7 1517.5C784.9 1514.1 781.7 1506.1 779.5 1505.2C777.2 1504.3 776.3 1510.9 774 1512.1C771.7 1513.2 769.4 1511.8 765.8 1512.1Z" fill="#c22896"/>
<path d="M857.5 1520.3C855.9 1518 855.7 1508.4 857.5 1503.8C859.4 1499.3 862.8 1495.2 868.5 1492.9C874.2 1490.6 888.1 1488.8 891.8 1490.1C895.4 1491.5 890.4 1497.4 890.4 1501.1C890.4 1504.7 893.4 1509.5 891.8 1512.1C890.2 1514.6 884.9 1515.3 880.8 1516.2C876.7 1517.1 871 1516.8 867.1 1517.5C863.2 1518.2 859.1 1522.6 857.5 1520.3Z" fill="#c22896"/>
<path d="M919.2 1505.2C920.5 1503.2 926.5 1501.6 930.1 1502.5C933.8 1503.4 937.9 1506.8 941.1 1510.7C944.3 1514.6 947.6 1521.6 949.3 1525.8C951 1529.9 952.7 1534.9 951.4 1535.3C950 1535.8 944.6 1531 941.1 1528.5C937.6 1526 933.3 1522.6 930.1 1520.3C926.9 1518 923.7 1517.3 921.9 1514.8C920.1 1512.3 917.8 1507.3 919.2 1505.2Z" fill="#c22896"/>
<path d="M901.4 1501.1C902.1 1497.7 906.8 1496.1 908.2 1498.4C909.6 1500.6 910.3 1511.4 909.6 1514.8C908.9 1518.2 905.5 1521.2 904.1 1518.9C902.7 1516.6 900.7 1504.5 901.4 1501.1Z" fill="#c22896"/>
<path d="M878.1 1524.4C873.1 1525.8 867.5 1522.8 864.4 1525.8C861.3 1528.7 860.5 1536 859.6 1542.2C858.7 1548.4 858.1 1555.9 858.9 1562.7C859.7 1569.6 861.6 1577.4 864.4 1583.3C867.1 1589.2 870.8 1593.8 875.3 1598.4C879.9 1602.9 886.3 1607 891.8 1610.7C897.3 1614.3 903.7 1618.4 908.2 1620.3C912.8 1622.1 915.1 1623.2 919.2 1621.6C923.3 1620 928.8 1615.3 932.9 1610.7C937 1606.1 940.9 1600.4 943.8 1594.2C946.8 1588.1 949.4 1580.5 950.7 1573.7C951.9 1566.8 952.1 1559.3 951.4 1553.2C950.7 1547 949 1540.8 946.6 1536.7C944.2 1532.6 940.4 1529.4 937 1528.5C933.6 1527.6 929.5 1532.4 926 1531.2C922.6 1530.1 919.9 1524.4 916.4 1521.6C913 1518.9 909.1 1515.5 905.5 1514.8C901.8 1514.1 899.1 1515.9 894.5 1517.5C890 1519.1 883.1 1523 878.1 1524.4Z" fill="#c22896"/>
<path d="M1004.2 1510.7C1004 1508.9 1009 1505 1009.7 1501.1C1010.4 1497.2 1007 1490.4 1008.4 1487.4C1009.7 1484.4 1012.9 1484.9 1017.9 1483.3C1023 1481.7 1032.8 1479.6 1038.5 1477.8C1044.2 1476 1046.9 1473.4 1052.2 1472.3C1057.4 1471.3 1065.4 1470.3 1070 1471.6C1074.6 1473 1077.3 1477.5 1079.6 1480.5C1081.9 1483.6 1084.2 1487.9 1083.7 1490.1C1083.2 1492.4 1076.4 1491.7 1076.8 1494.2C1077.3 1496.8 1083.9 1500 1086.4 1505.2C1088.9 1510.5 1093.1 1523.2 1091.9 1525.8C1090.8 1528.3 1083.9 1521.6 1079.6 1520.3C1075.3 1518.9 1070.5 1518 1065.9 1517.5C1061.3 1517.1 1056.8 1518.4 1052.2 1517.5C1047.6 1516.6 1043.1 1512.5 1038.5 1512.1C1033.9 1511.6 1029.4 1514.8 1024.8 1514.8C1020.2 1514.8 1014.5 1512.7 1011.1 1512.1C1007.7 1511.4 1004.5 1512.5 1004.2 1510.7Z" fill="#c22896"/>
<path d="M1004.2 1517.5C1000.4 1518.2 996.1 1523.2 993.3 1528.5C990.4 1533.7 988 1542.2 987.1 1549C986.2 1555.9 986.6 1562.7 987.8 1569.6C989.1 1576.4 991.2 1583.7 994.7 1590.1C998.1 1596.5 1003.8 1602.9 1008.4 1607.9C1012.9 1613 1017.5 1617.2 1022.1 1620.3C1026.6 1623.4 1031.6 1625.8 1035.8 1626.4C1039.9 1627.1 1042.1 1627 1046.7 1624.4C1051.3 1621.8 1058.1 1616.4 1063.2 1610.7C1068.2 1605 1073.2 1597 1076.8 1590.1C1080.5 1583.3 1083.2 1576.4 1085.1 1569.6C1086.9 1562.7 1087.8 1555.4 1087.8 1549C1087.8 1542.6 1086.9 1535.6 1085.1 1531.2C1083.2 1526.9 1080 1524.4 1076.8 1523C1073.7 1521.6 1069.5 1522.6 1065.9 1523C1062.2 1523.5 1058.1 1526.7 1054.9 1525.8C1051.7 1524.8 1049.5 1519.8 1046.7 1517.5C1044 1515.3 1041.7 1511.4 1038.5 1512.1C1035.3 1512.7 1031.2 1519.6 1027.5 1521.6C1023.9 1523.7 1020.5 1525.1 1016.6 1524.4C1012.7 1523.7 1008.1 1516.8 1004.2 1517.5Z" fill="#c22896"/>
<path d="M1124.8 1514.8C1123.2 1512.1 1125.9 1505 1127.5 1501.1C1129.1 1497.2 1131 1493.4 1134.4 1491.5C1137.8 1489.6 1145.6 1489 1148.1 1489.5C1150.6 1489.9 1150.6 1492.8 1149.5 1494.2C1148.3 1495.7 1142.1 1495.4 1141.2 1498.4C1140.3 1501.3 1144.7 1508.9 1144 1512.1C1143.3 1515.3 1140.3 1517.1 1137.1 1517.5C1133.9 1518 1126.4 1517.5 1124.8 1514.8Z" fill="#c22896"/>
<path d="M1153.6 1502.5C1153.3 1500.2 1160.4 1494.9 1164.5 1492.9C1168.6 1490.8 1173.2 1489 1178.2 1490.1C1183.2 1491.3 1189.9 1496.1 1194.7 1499.7C1199.5 1503.4 1204.2 1507.3 1207 1512.1C1209.7 1516.8 1211.8 1526.9 1211.1 1528.5C1210.4 1530.1 1206.1 1523.9 1202.9 1521.6C1199.7 1519.4 1196 1516.4 1191.9 1514.8C1187.8 1513.2 1182.6 1513.4 1178.2 1512.1C1173.9 1510.7 1170 1508.2 1165.9 1506.6C1161.8 1505 1153.8 1504.7 1153.6 1502.5Z" fill="#c22896"/>
<path d="M1131.6 1520.3C1127.1 1522.6 1123.2 1526.4 1120.7 1531.2C1118.2 1536 1117 1543.1 1116.6 1549C1116.1 1555 1116.6 1561.1 1117.9 1566.8C1119.3 1572.6 1121.6 1577.8 1124.8 1583.3C1128 1588.8 1132.6 1594.7 1137.1 1599.7C1141.7 1604.7 1146.9 1610 1152.2 1613.4C1157.4 1616.8 1163.8 1619.1 1168.6 1620.3C1173.4 1621.4 1176.6 1622.3 1181 1620.3C1185.3 1618.2 1190.5 1613 1194.7 1607.9C1198.8 1602.9 1203.1 1596.5 1205.6 1590.1C1208.1 1583.7 1209 1576.4 1209.7 1569.6C1210.4 1562.7 1210.9 1555.4 1209.7 1549C1208.6 1542.6 1205.8 1535.8 1202.9 1531.2C1199.9 1526.7 1196 1523.5 1191.9 1521.6C1187.8 1519.8 1182.3 1519.6 1178.2 1520.3C1174.1 1521 1170.5 1526.7 1167.3 1525.8C1164.1 1524.8 1162.2 1516.2 1159 1514.8C1155.8 1513.4 1152.6 1516.6 1148.1 1517.5C1143.5 1518.4 1136.2 1518 1131.6 1520.3Z" fill="#c22896"/>
</g>
<path d="M779.5 1501.1C780.8 1501.1 783.3 1511.6 784.9 1514.8C786.5 1518 786.3 1520.7 789 1520.3C791.8 1519.8 798.6 1512.5 801.4 1512.1C804.1 1511.6 806.2 1514.8 805.5 1517.5C804.8 1520.3 798.9 1524.8 797.3 1528.5C795.7 1532.1 797.3 1538.1 795.9 1539.5C794.5 1540.8 791.1 1535.8 789 1536.7C787 1537.6 784.9 1540.6 783.6 1544.9C782.2 1549.3 781.1 1556.3 780.8 1562.7C780.6 1569.1 781.1 1578 782.2 1583.3C783.3 1588.5 787.4 1589.9 787.7 1594.2C787.9 1598.6 784.7 1607 783.6 1609.3C782.4 1611.6 782 1611.1 780.8 1607.9C779.7 1604.7 777.9 1596.5 776.7 1590.1C775.6 1583.7 774.2 1576.4 774 1569.6C773.7 1562.7 774.7 1555.9 775.3 1549C776 1542.2 777.9 1534.2 778.1 1528.5C778.3 1522.8 776.5 1519.4 776.7 1514.8C776.9 1510.2 778.1 1501.1 779.5 1501.1Z" fill="#fff"/>
<path d="M767.1 1514.8C765.1 1516.4 761 1521.2 757.5 1525.8C754.1 1530.3 749.5 1538.3 746.6 1542.2C743.6 1546.1 740.2 1544.5 739.7 1549C739.3 1553.6 741.3 1561.4 743.8 1569.6C746.3 1577.8 754.3 1597.2 754.8 1598.4C755.3 1599.5 748.2 1583.5 746.6 1576.4C745 1569.4 744.3 1561.6 745.2 1555.9C746.1 1550.2 749.3 1546.8 752.1 1542.2C754.8 1537.6 758.7 1532.8 761.6 1528.5C764.6 1524.2 768.9 1518.4 769.9 1516.2C770.8 1513.9 769.2 1513.2 767.1 1514.8Z" fill="#fff"/>
<path d="M754.8 1495.6C755.5 1494.2 759.4 1492.9 761.6 1492.9C763.9 1492.9 767.8 1494.2 768.5 1495.6C769.2 1497 767.6 1500.2 765.8 1501.1C763.9 1502 759.4 1502 757.5 1501.1C755.7 1500.2 754.1 1497 754.8 1495.6Z" fill="#fff"/>
<path d="M891.8 1525.8C892.2 1524.4 895.9 1528.5 898.6 1531.2C901.4 1534 905.7 1538.1 908.2 1542.2C910.7 1546.3 911 1556.8 913.7 1555.9C916.4 1555 922.6 1543.1 924.7 1536.7C926.7 1530.3 924.7 1521.2 926 1517.5C927.4 1513.9 932.2 1512.5 932.9 1514.8C933.6 1517.1 931.3 1525.8 930.1 1531.2C929 1536.7 927.9 1543.1 926 1547.7C924.2 1552.2 920.5 1555 919.2 1558.6C917.8 1562.3 917.8 1565.5 917.8 1569.6C917.8 1573.7 919.4 1579.9 919.2 1583.3C918.9 1586.7 917.8 1590.1 916.4 1590.1C915.1 1590.1 912.3 1586.7 911 1583.3C909.6 1579.9 909.6 1574.6 908.2 1569.6C906.8 1564.6 904.8 1558.2 902.7 1553.2C900.7 1548.1 897.7 1544 895.9 1539.5C894.1 1534.9 891.3 1527.1 891.8 1525.8Z" fill="#fff"/>
<path d="M875.3 1525.8C876.9 1524.8 881.7 1528.5 882.2 1531.2C882.6 1534 879.2 1538.1 878.1 1542.2C876.9 1546.3 876.3 1551.3 875.3 1555.9C874.4 1560.5 872.4 1565 872.6 1569.6C872.8 1574.2 875.1 1579.6 876.7 1583.3C878.3 1586.9 882.2 1590.6 882.2 1591.5C882.2 1592.4 878.8 1591.3 876.7 1588.8C874.7 1586.3 871 1581.9 869.9 1576.4C868.7 1571 869.4 1562.5 869.9 1555.9C870.3 1549.3 871.7 1541.7 872.6 1536.7C873.5 1531.7 873.7 1526.7 875.3 1525.8Z" fill="#fff"/>
<path d="M864.4 1506.6C865.1 1505 868.9 1503.7 871.2 1503.8C873.5 1503.9 877.2 1505.8 878.1 1507.3C879 1508.7 878.5 1511.7 876.7 1512.7C874.9 1513.8 869.2 1514.5 867.1 1513.4C865.1 1512.4 863.7 1508.2 864.4 1506.6Z" fill="#fff"/>
<path d="M1034.4 1539.5C1036 1537.2 1039.6 1539.5 1041.2 1542.2C1042.8 1544.9 1043.7 1550.2 1044 1555.9C1044.2 1561.6 1043.1 1569.6 1042.6 1576.4C1042.1 1583.3 1041.9 1592.4 1041.2 1597C1040.5 1601.6 1039.6 1603.8 1038.5 1603.8C1037.4 1603.8 1035.5 1601.6 1034.4 1597C1033.2 1592.4 1032.1 1583.3 1031.6 1576.4C1031.2 1569.6 1031.2 1562.1 1031.6 1555.9C1032.1 1549.7 1032.8 1541.7 1034.4 1539.5Z" fill="#fff"/>
<path d="M1057.7 1534C1059 1534.4 1062 1540.8 1063.2 1544.9C1064.3 1549 1065 1555 1064.5 1558.6C1064.1 1562.3 1061.8 1567.3 1060.4 1566.8C1059 1566.4 1057.2 1560 1056.3 1555.9C1055.4 1551.8 1054.7 1545.8 1054.9 1542.2C1055.2 1538.5 1056.3 1533.5 1057.7 1534Z" fill="#fff"/>
<path d="M1038.5 1514.8C1040.1 1513.7 1045.1 1518 1046.7 1521.6C1048.3 1525.3 1048.5 1533.7 1048.1 1536.7C1047.6 1539.7 1045.8 1540.8 1044 1539.5C1042.1 1538.1 1038 1532.6 1037.1 1528.5C1036.2 1524.4 1036.9 1515.9 1038.5 1514.8Z" fill="#fff"/>
<path d="M1015.2 1517.5C1013.4 1519.4 1010.6 1530.8 1008.4 1536.7C1006.1 1542.6 1002.9 1547.7 1001.5 1553.2C1000.1 1558.6 999.7 1566.4 1000.1 1569.6C1000.6 1572.8 1003.1 1574.6 1004.2 1572.3C1005.4 1570 1005.4 1560.9 1007 1555.9C1008.6 1550.9 1011.8 1547.2 1013.8 1542.2C1015.9 1537.2 1019.1 1529.9 1019.3 1525.8C1019.5 1521.6 1017 1515.7 1015.2 1517.5Z" fill="#fff"/>
<path d="M1015.2 1491.5C1017.5 1488.5 1026.2 1488.5 1028.9 1490.1C1031.6 1491.7 1032.3 1497 1031.6 1501.1C1031 1505.2 1027.3 1511.4 1024.8 1514.8C1022.3 1518.2 1018.2 1522.8 1016.6 1521.6C1015 1520.5 1015.4 1513 1015.2 1507.9C1015 1502.9 1012.9 1494.5 1015.2 1491.5Z" fill="#fff"/>
<path d="M1061.1 1480.5C1061.8 1478.6 1066.9 1475.3 1070 1475.8C1073.1 1476.2 1078.7 1481.1 1079.6 1483.3C1080.5 1485.5 1077.8 1488.1 1075.5 1488.8C1073.2 1489.5 1068.3 1488.8 1065.9 1487.4C1063.5 1486 1060.4 1482.5 1061.1 1480.5Z" fill="#fff"/>
<path d="M1070 1505.2C1070.5 1503.6 1075.9 1502.5 1078.2 1503.8C1080.5 1505.2 1084.2 1511.8 1083.7 1513.4C1083.2 1515 1077.8 1514.8 1075.5 1513.4C1073.2 1512.1 1069.5 1506.8 1070 1505.2Z" fill="#fff"/>
<path d="M1164.5 1512.1C1167 1509.8 1172.7 1507 1175.5 1507.9C1178.2 1508.9 1181.4 1514.6 1181 1517.5C1180.5 1520.5 1175.5 1523.5 1172.7 1525.8C1170 1528 1166.3 1528 1164.5 1531.2C1162.7 1534.4 1161.1 1540.8 1161.8 1544.9C1162.5 1549 1165.9 1552.2 1168.6 1555.9C1171.4 1559.5 1176.4 1563.4 1178.2 1566.8C1180 1570.3 1180.5 1574.8 1179.6 1576.4C1178.7 1578 1175.3 1578 1172.7 1576.4C1170.2 1574.8 1166.8 1570.7 1164.5 1566.8C1162.2 1563 1160.2 1558.2 1159 1553.2C1157.9 1548.1 1157.4 1542 1157.7 1536.7C1157.9 1531.5 1159.3 1525.8 1160.4 1521.6C1161.6 1517.5 1162 1514.3 1164.5 1512.1Z" fill="#fff"/>
<path d="M1135.8 1516.2C1137.4 1513.4 1141.7 1516.8 1142.6 1520.3C1143.5 1523.7 1142.1 1530.8 1141.2 1536.7C1140.3 1542.6 1138.3 1550.4 1137.1 1555.9C1136 1561.4 1133.7 1566.2 1134.4 1569.6C1135.1 1573 1141.5 1575.8 1141.2 1576.4C1141 1577.1 1134.8 1577.1 1133 1573.7C1131.2 1570.3 1130.3 1562.1 1130.3 1555.9C1130.3 1549.7 1132.1 1543.3 1133 1536.7C1133.9 1530.1 1134.2 1518.9 1135.8 1516.2Z" fill="#fff"/>
<path d="M1194.7 1505.2C1195.3 1504.3 1201.1 1507.3 1202.9 1509.3C1204.7 1511.4 1206.3 1516.6 1205.6 1517.5C1204.9 1518.4 1200.6 1516.8 1198.8 1514.8C1196.9 1512.7 1194 1506.1 1194.7 1505.2Z" fill="#fff"/>
<g filter="url(#hy)">
<path d="M743.8 1678.9C743.2 1677.2 745.7 1671.6 747.9 1668C750.2 1664.3 753.2 1659.2 757.5 1657C761.9 1654.9 770.5 1654.1 774 1655C777.4 1655.9 777.9 1659.7 778.1 1662.5C778.3 1665.4 777.6 1669.8 775.3 1672.1C773.1 1674.4 768.3 1675.2 764.4 1676.2C760.5 1677.2 755.5 1677.8 752.1 1678.3C748.6 1678.7 744.5 1680.7 743.8 1678.9Z" fill="#45203a"/>
<path d="M787.7 1670.7C788.8 1670.5 792.7 1675.3 795.9 1674.8C799.1 1674.4 803.4 1668.7 806.8 1668C810.3 1667.3 813.9 1668.2 816.4 1670.7C818.9 1673.2 820.5 1678.5 821.9 1683.1C823.3 1687.6 825.3 1696.5 824.7 1698.1C824 1699.7 820.3 1694.7 817.8 1692.6C815.3 1690.6 812.3 1687.4 809.6 1685.8C806.8 1684.2 803.7 1684.2 801.4 1683.1C799.1 1681.9 797.9 1680.1 795.9 1678.9C793.8 1677.8 790.4 1677.6 789 1676.2C787.7 1674.8 786.5 1671 787.7 1670.7Z" fill="#45203a"/>
<path d="M765.8 1683.1C762.1 1683.3 756.6 1683.1 752.1 1684.4C747.5 1685.8 741.8 1687.4 738.4 1691.3C734.9 1695.2 733 1701.8 731.5 1707.7C730 1713.6 729.2 1720.3 729.5 1726.9C729.7 1733.5 730.7 1741 732.9 1747.4C735 1753.8 738.4 1759.8 742.5 1765.2C746.6 1770.7 752.3 1776.2 757.5 1780.3C762.8 1784.4 769.4 1788.2 774 1789.9C778.5 1791.6 780.8 1791.7 784.9 1790.6C789 1789.4 794.3 1786.8 798.6 1783.1C803 1779.3 807.5 1773.9 811 1768C814.4 1762.1 817.2 1754.3 819.2 1747.4C821.1 1740.6 822.4 1733.5 822.6 1726.9C822.8 1720.3 822 1713 820.5 1707.7C819.1 1702.5 816.4 1698.4 813.7 1695.4C811 1692.4 807.1 1689.7 804.1 1689.9C801.1 1690.1 798.6 1697 795.9 1696.8C793.2 1696.5 790.4 1692 787.7 1688.5C784.9 1685.1 781.7 1677.1 779.5 1676.2C777.2 1675.3 776.3 1681.9 774 1683.1C771.7 1684.2 769.4 1682.8 765.8 1683.1Z" fill="url(#trg)"/>
<path d="M857.5 1691.3C855.9 1689 855.7 1679.4 857.5 1674.8C859.4 1670.3 862.8 1666.2 868.5 1663.9C874.2 1661.6 888.1 1659.8 891.8 1661.1C895.4 1662.5 890.4 1668.4 890.4 1672.1C890.4 1675.7 893.4 1680.5 891.8 1683.1C890.2 1685.6 884.9 1686.3 880.8 1687.2C876.7 1688.1 871 1687.8 867.1 1688.5C863.2 1689.2 859.1 1693.6 857.5 1691.3Z" fill="#45203a"/>
<path d="M919.2 1676.2C920.5 1674.2 926.5 1672.6 930.1 1673.5C933.8 1674.4 937.9 1677.8 941.1 1681.7C944.3 1685.6 947.6 1692.6 949.3 1696.8C951 1700.9 952.7 1705.9 951.4 1706.3C950 1706.8 944.6 1702 941.1 1699.5C937.6 1697 933.3 1693.6 930.1 1691.3C926.9 1689 923.7 1688.3 921.9 1685.8C920.1 1683.3 917.8 1678.3 919.2 1676.2Z" fill="#45203a"/>
<path d="M901.4 1672.1C902.1 1668.7 906.8 1667.1 908.2 1669.4C909.6 1671.6 910.3 1682.4 909.6 1685.8C908.9 1689.2 905.5 1692.2 904.1 1689.9C902.7 1687.6 900.7 1675.5 901.4 1672.1Z" fill="#45203a"/>
<path d="M878.1 1695.4C873.1 1696.8 867.5 1693.8 864.4 1696.8C861.3 1699.7 860.5 1707 859.6 1713.2C858.7 1719.4 858.1 1726.9 858.9 1733.7C859.7 1740.6 861.6 1748.4 864.4 1754.3C867.1 1760.2 870.8 1764.8 875.3 1769.4C879.9 1773.9 886.3 1778 891.8 1781.7C897.3 1785.3 903.7 1789.4 908.2 1791.3C912.8 1793.1 915.1 1794.2 919.2 1792.6C923.3 1791 928.8 1786.3 932.9 1781.7C937 1777.1 940.9 1771.4 943.8 1765.2C946.8 1759.1 949.4 1751.5 950.7 1744.7C951.9 1737.8 952.1 1730.3 951.4 1724.2C950.7 1718 949 1711.8 946.6 1707.7C944.2 1703.6 940.4 1700.4 937 1699.5C933.6 1698.6 929.5 1703.4 926 1702.2C922.6 1701.1 919.9 1695.4 916.4 1692.6C913 1689.9 909.1 1686.5 905.5 1685.8C901.8 1685.1 899.1 1686.9 894.5 1688.5C890 1690.1 883.1 1694 878.1 1695.4Z" fill="url(#trg)"/>
<path d="M1004.2 1681.7C1004 1679.9 1009 1676 1009.7 1672.1C1010.4 1668.2 1007 1661.4 1008.4 1658.4C1009.7 1655.4 1012.9 1655.9 1017.9 1654.3C1023 1652.7 1032.8 1650.6 1038.5 1648.8C1044.2 1647 1046.9 1644.4 1052.2 1643.3C1057.4 1642.3 1065.4 1641.3 1070 1642.6C1074.6 1644 1077.3 1648.5 1079.6 1651.5C1081.9 1654.6 1084.2 1658.9 1083.7 1661.1C1083.2 1663.4 1076.4 1662.7 1076.8 1665.2C1077.3 1667.8 1083.9 1671 1086.4 1676.2C1088.9 1681.5 1093.1 1694.2 1091.9 1696.8C1090.8 1699.3 1083.9 1692.6 1079.6 1691.3C1075.3 1689.9 1070.5 1689 1065.9 1688.5C1061.3 1688.1 1056.8 1689.4 1052.2 1688.5C1047.6 1687.6 1043.1 1683.5 1038.5 1683.1C1033.9 1682.6 1029.4 1685.8 1024.8 1685.8C1020.2 1685.8 1014.5 1683.7 1011.1 1683.1C1007.7 1682.4 1004.5 1683.5 1004.2 1681.7Z" fill="#45203a"/>
<path d="M1004.2 1688.5C1000.4 1689.2 996.1 1694.2 993.3 1699.5C990.4 1704.7 988 1713.2 987.1 1720C986.2 1726.9 986.6 1733.7 987.8 1740.6C989.1 1747.4 991.2 1754.7 994.7 1761.1C998.1 1767.5 1003.8 1773.9 1008.4 1778.9C1012.9 1784 1017.5 1788.2 1022.1 1791.3C1026.6 1794.4 1031.6 1796.8 1035.8 1797.4C1039.9 1798.1 1042.1 1798 1046.7 1795.4C1051.3 1792.8 1058.1 1787.4 1063.2 1781.7C1068.2 1776 1073.2 1768 1076.8 1761.1C1080.5 1754.3 1083.2 1747.4 1085.1 1740.6C1086.9 1733.7 1087.8 1726.4 1087.8 1720C1087.8 1713.6 1086.9 1706.6 1085.1 1702.2C1083.2 1697.9 1080 1695.4 1076.8 1694C1073.7 1692.6 1069.5 1693.6 1065.9 1694C1062.2 1694.5 1058.1 1697.7 1054.9 1696.8C1051.7 1695.8 1049.5 1690.8 1046.7 1688.5C1044 1686.3 1041.7 1682.4 1038.5 1683.1C1035.3 1683.7 1031.2 1690.6 1027.5 1692.6C1023.9 1694.7 1020.5 1696.1 1016.6 1695.4C1012.7 1694.7 1008.1 1687.8 1004.2 1688.5Z" fill="url(#trg)"/>
<path d="M1124.8 1685.8C1123.2 1683.1 1125.9 1676 1127.5 1672.1C1129.1 1668.2 1131 1664.4 1134.4 1662.5C1137.8 1660.6 1145.6 1660 1148.1 1660.5C1150.6 1660.9 1150.6 1663.8 1149.5 1665.2C1148.3 1666.7 1142.1 1666.4 1141.2 1669.4C1140.3 1672.3 1144.7 1679.9 1144 1683.1C1143.3 1686.3 1140.3 1688.1 1137.1 1688.5C1133.9 1689 1126.4 1688.5 1124.8 1685.8Z" fill="#45203a"/>
<path d="M1153.6 1673.5C1153.3 1671.2 1160.4 1665.9 1164.5 1663.9C1168.6 1661.8 1173.2 1660 1178.2 1661.1C1183.2 1662.3 1189.9 1667.1 1194.7 1670.7C1199.5 1674.4 1204.2 1678.3 1207 1683.1C1209.7 1687.8 1211.8 1697.9 1211.1 1699.5C1210.4 1701.1 1206.1 1694.9 1202.9 1692.6C1199.7 1690.4 1196 1687.4 1191.9 1685.8C1187.8 1684.2 1182.6 1684.4 1178.2 1683.1C1173.9 1681.7 1170 1679.2 1165.9 1677.6C1161.8 1676 1153.8 1675.7 1153.6 1673.5Z" fill="#45203a"/>
<path d="M1131.6 1691.3C1127.1 1693.6 1123.2 1697.4 1120.7 1702.2C1118.2 1707 1117 1714.1 1116.6 1720C1116.1 1726 1116.6 1732.1 1117.9 1737.8C1119.3 1743.6 1121.6 1748.8 1124.8 1754.3C1128 1759.8 1132.6 1765.7 1137.1 1770.7C1141.7 1775.7 1146.9 1781 1152.2 1784.4C1157.4 1787.8 1163.8 1790.1 1168.6 1791.3C1173.4 1792.4 1176.6 1793.3 1181 1791.3C1185.3 1789.2 1190.5 1784 1194.7 1778.9C1198.8 1773.9 1203.1 1767.5 1205.6 1761.1C1208.1 1754.7 1209 1747.4 1209.7 1740.6C1210.4 1733.7 1210.9 1726.4 1209.7 1720C1208.6 1713.6 1205.8 1706.8 1202.9 1702.2C1199.9 1697.7 1196 1694.5 1191.9 1692.6C1187.8 1690.8 1182.3 1690.6 1178.2 1691.3C1174.1 1692 1170.5 1697.7 1167.3 1696.8C1164.1 1695.8 1162.2 1687.2 1159 1685.8C1155.8 1684.4 1152.6 1687.6 1148.1 1688.5C1143.5 1689.4 1136.2 1689 1131.6 1691.3Z" fill="url(#trg)"/>
</g>
<path d="M779.5 1672.1C780.8 1672.1 783.3 1682.6 784.9 1685.8C786.5 1689 786.3 1691.7 789 1691.3C791.8 1690.8 798.6 1683.5 801.4 1683.1C804.1 1682.6 806.2 1685.8 805.5 1688.5C804.8 1691.3 798.9 1695.8 797.3 1699.5C795.7 1703.1 797.3 1709.1 795.9 1710.5C794.5 1711.8 791.1 1706.8 789 1707.7C787 1708.6 784.9 1711.6 783.6 1715.9C782.2 1720.3 781.1 1727.3 780.8 1733.7C780.6 1740.1 781.1 1749 782.2 1754.3C783.3 1759.5 787.4 1760.9 787.7 1765.2C787.9 1769.6 784.7 1778 783.6 1780.3C782.4 1782.6 782 1782.1 780.8 1778.9C779.7 1775.7 777.9 1767.5 776.7 1761.1C775.6 1754.7 774.2 1747.4 774 1740.6C773.7 1733.7 774.7 1726.9 775.3 1720C776 1713.2 777.9 1705.2 778.1 1699.5C778.3 1693.8 776.5 1690.4 776.7 1685.8C776.9 1681.2 778.1 1672.1 779.5 1672.1Z" fill="#fff"/>
<path d="M767.1 1685.8C765.1 1687.4 761 1692.2 757.5 1696.8C754.1 1701.3 749.5 1709.3 746.6 1713.2C743.6 1717.1 740.2 1715.5 739.7 1720C739.3 1724.6 741.3 1732.4 743.8 1740.6C746.3 1748.8 754.3 1768.2 754.8 1769.4C755.3 1770.5 748.2 1754.5 746.6 1747.4C745 1740.4 744.3 1732.6 745.2 1726.9C746.1 1721.2 749.3 1717.8 752.1 1713.2C754.8 1708.6 758.7 1703.8 761.6 1699.5C764.6 1695.2 768.9 1689.4 769.9 1687.2C770.8 1684.9 769.2 1684.2 767.1 1685.8Z" fill="#fff"/>
<path d="M754.8 1666.6C755.5 1665.2 759.4 1663.9 761.6 1663.9C763.9 1663.9 767.8 1665.2 768.5 1666.6C769.2 1668 767.6 1671.2 765.8 1672.1C763.9 1673 759.4 1673 757.5 1672.1C755.7 1671.2 754.1 1668 754.8 1666.6Z" fill="#fff"/>
<path d="M780.8 1670.7C781.1 1672.3 781.5 1677.3 782.2 1680.3C782.9 1683.3 784.5 1687.2 784.9 1688.5" fill="none" stroke="#2f4fb5" stroke-width="2.2" stroke-linecap="round"/>
<path d="M891.8 1696.8C892.2 1695.4 895.9 1699.5 898.6 1702.2C901.4 1705 905.7 1709.1 908.2 1713.2C910.7 1717.3 911 1727.8 913.7 1726.9C916.4 1726 922.6 1714.1 924.7 1707.7C926.7 1701.3 924.7 1692.2 926 1688.5C927.4 1684.9 932.2 1683.5 932.9 1685.8C933.6 1688.1 931.3 1696.8 930.1 1702.2C929 1707.7 927.9 1714.1 926 1718.7C924.2 1723.2 920.5 1726 919.2 1729.6C917.8 1733.3 917.8 1736.5 917.8 1740.6C917.8 1744.7 919.4 1750.9 919.2 1754.3C918.9 1757.7 917.8 1761.1 916.4 1761.1C915.1 1761.1 912.3 1757.7 911 1754.3C909.6 1750.9 909.6 1745.6 908.2 1740.6C906.8 1735.6 904.8 1729.2 902.7 1724.2C900.7 1719.1 897.7 1715 895.9 1710.5C894.1 1705.9 891.3 1698.1 891.8 1696.8Z" fill="#fff"/>
<path d="M875.3 1696.8C876.9 1695.8 881.7 1699.5 882.2 1702.2C882.6 1705 879.2 1709.1 878.1 1713.2C876.9 1717.3 876.3 1722.3 875.3 1726.9C874.4 1731.5 872.4 1736 872.6 1740.6C872.8 1745.2 875.1 1750.6 876.7 1754.3C878.3 1757.9 882.2 1761.6 882.2 1762.5C882.2 1763.4 878.8 1762.3 876.7 1759.8C874.7 1757.3 871 1752.9 869.9 1747.4C868.7 1742 869.4 1733.5 869.9 1726.9C870.3 1720.3 871.7 1712.7 872.6 1707.7C873.5 1702.7 873.7 1697.7 875.3 1696.8Z" fill="#fff"/>
<path d="M864.4 1677.6C865.1 1676 868.9 1674.7 871.2 1674.8C873.5 1674.9 877.2 1676.8 878.1 1678.3C879 1679.7 878.5 1682.7 876.7 1683.7C874.9 1684.8 869.2 1685.5 867.1 1684.4C865.1 1683.4 863.7 1679.2 864.4 1677.6Z" fill="#fff"/>
<path d="M902.7 1672.1C903.2 1673.9 905.3 1679.9 905.5 1683.1C905.7 1686.3 904.3 1689.9 904.1 1691.3" fill="none" stroke="#2f4fb5" stroke-width="2.2" stroke-linecap="round"/>
<path d="M1034.4 1710.5C1036 1708.2 1039.6 1710.5 1041.2 1713.2C1042.8 1715.9 1043.7 1721.2 1044 1726.9C1044.2 1732.6 1043.1 1740.6 1042.6 1747.4C1042.1 1754.3 1041.9 1763.4 1041.2 1768C1040.5 1772.6 1039.6 1774.8 1038.5 1774.8C1037.4 1774.8 1035.5 1772.6 1034.4 1768C1033.2 1763.4 1032.1 1754.3 1031.6 1747.4C1031.2 1740.6 1031.2 1733.1 1031.6 1726.9C1032.1 1720.7 1032.8 1712.7 1034.4 1710.5Z" fill="#fff"/>
<path d="M1057.7 1705C1059 1705.4 1062 1711.8 1063.2 1715.9C1064.3 1720 1065 1726 1064.5 1729.6C1064.1 1733.3 1061.8 1738.3 1060.4 1737.8C1059 1737.4 1057.2 1731 1056.3 1726.9C1055.4 1722.8 1054.7 1716.8 1054.9 1713.2C1055.2 1709.5 1056.3 1704.5 1057.7 1705Z" fill="#fff"/>
<path d="M1038.5 1685.8C1040.1 1684.7 1045.1 1689 1046.7 1692.6C1048.3 1696.3 1048.5 1704.7 1048.1 1707.7C1047.6 1710.7 1045.8 1711.8 1044 1710.5C1042.1 1709.1 1038 1703.6 1037.1 1699.5C1036.2 1695.4 1036.9 1686.9 1038.5 1685.8Z" fill="#fff"/>
<path d="M1015.2 1688.5C1013.4 1690.4 1010.6 1701.8 1008.4 1707.7C1006.1 1713.6 1002.9 1718.7 1001.5 1724.2C1000.1 1729.6 999.7 1737.4 1000.1 1740.6C1000.6 1743.8 1003.1 1745.6 1004.2 1743.3C1005.4 1741 1005.4 1731.9 1007 1726.9C1008.6 1721.9 1011.8 1718.2 1013.8 1713.2C1015.9 1708.2 1019.1 1700.9 1019.3 1696.8C1019.5 1692.6 1017 1686.7 1015.2 1688.5Z" fill="#fff"/>
<path d="M1015.2 1662.5C1017.5 1659.5 1026.2 1659.5 1028.9 1661.1C1031.6 1662.7 1032.3 1668 1031.6 1672.1C1031 1676.2 1027.3 1682.4 1024.8 1685.8C1022.3 1689.2 1018.2 1693.8 1016.6 1692.6C1015 1691.5 1015.4 1684 1015.2 1678.9C1015 1673.9 1012.9 1665.5 1015.2 1662.5Z" fill="#fff"/>
<path d="M1061.1 1651.5C1061.8 1649.6 1066.9 1646.3 1070 1646.8C1073.1 1647.2 1078.7 1652.1 1079.6 1654.3C1080.5 1656.5 1077.8 1659.1 1075.5 1659.8C1073.2 1660.5 1068.3 1659.8 1065.9 1658.4C1063.5 1657 1060.4 1653.5 1061.1 1651.5Z" fill="#fff"/>
<path d="M1070 1676.2C1070.5 1674.6 1075.9 1673.5 1078.2 1674.8C1080.5 1676.2 1084.2 1682.8 1083.7 1684.4C1083.2 1686 1077.8 1685.8 1075.5 1684.4C1073.2 1683.1 1069.5 1677.8 1070 1676.2Z" fill="#fff"/>
<path d="M1059 1644.7C1061.1 1644.5 1067.9 1642 1071.4 1643.3C1074.8 1644.7 1078.9 1650.4 1079.6 1652.9C1080.3 1655.4 1076.2 1657.5 1075.5 1658.4" fill="none" stroke="#2f4fb5" stroke-width="2.2" stroke-linecap="round"/>
<path d="M1035.8 1658.4C1037.6 1659.8 1043.5 1663.6 1046.7 1666.6C1049.9 1669.6 1053.6 1674.6 1054.9 1676.2" fill="none" stroke="#2f4fb5" stroke-width="2.2" stroke-linecap="round"/>
<path d="M1027.5 1689.9C1028.4 1690.8 1032.1 1694.5 1033 1695.4" fill="none" stroke="#2f4fb5" stroke-width="2.2" stroke-linecap="round"/>
<path d="M1164.5 1683.1C1167 1680.8 1172.7 1678 1175.5 1678.9C1178.2 1679.9 1181.4 1685.6 1181 1688.5C1180.5 1691.5 1175.5 1694.5 1172.7 1696.8C1170 1699 1166.3 1699 1164.5 1702.2C1162.7 1705.4 1161.1 1711.8 1161.8 1715.9C1162.5 1720 1165.9 1723.2 1168.6 1726.9C1171.4 1730.5 1176.4 1734.4 1178.2 1737.8C1180 1741.3 1180.5 1745.8 1179.6 1747.4C1178.7 1749 1175.3 1749 1172.7 1747.4C1170.2 1745.8 1166.8 1741.7 1164.5 1737.8C1162.2 1734 1160.2 1729.2 1159 1724.2C1157.9 1719.1 1157.4 1713 1157.7 1707.7C1157.9 1702.5 1159.3 1696.8 1160.4 1692.6C1161.6 1688.5 1162 1685.3 1164.5 1683.1Z" fill="#fff"/>
<path d="M1135.8 1687.2C1137.4 1684.4 1141.7 1687.8 1142.6 1691.3C1143.5 1694.7 1142.1 1701.8 1141.2 1707.7C1140.3 1713.6 1138.3 1721.4 1137.1 1726.9C1136 1732.4 1133.7 1737.2 1134.4 1740.6C1135.1 1744 1141.5 1746.8 1141.2 1747.4C1141 1748.1 1134.8 1748.1 1133 1744.7C1131.2 1741.3 1130.3 1733.1 1130.3 1726.9C1130.3 1720.7 1132.1 1714.3 1133 1707.7C1133.9 1701.1 1134.2 1689.9 1135.8 1687.2Z" fill="#fff"/>
<path d="M1194.7 1676.2C1195.3 1675.3 1201.1 1678.3 1202.9 1680.3C1204.7 1682.4 1206.3 1687.6 1205.6 1688.5C1204.9 1689.4 1200.6 1687.8 1198.8 1685.8C1196.9 1683.7 1194 1677.1 1194.7 1676.2Z" fill="#fff"/>
<path d="M1152.2 1691.3C1152.6 1692.6 1154.7 1697.2 1154.9 1699.5C1155.2 1701.8 1153.8 1704.1 1153.6 1705" fill="none" stroke="#2f4fb5" stroke-width="2.2" stroke-linecap="round"/>
<text font-size="20.5" font-weight="700" letter-spacing="1.01" stroke="#000" stroke-width="0.5" x="807.9" y="484.2">SHAM</text>
<text font-size="20.5" font-weight="700" letter-spacing="0.57" stroke="#000" stroke-width="0.5" x="1113.8" y="484.2">TAC</text>
<line x1="721.4" y1="495.9" x2="958.1" y2="495.9" stroke="#000" stroke-width="1.8"/>
<line x1="1009.7" y1="495.9" x2="1246.1" y2="495.9" stroke="#000" stroke-width="1.8"/>
<text font-size="20.5" font-weight="700" letter-spacing="0.78" stroke="#000" stroke-width="0.5" x="740.2" y="519.1">CTRL</text>
<text font-size="20.5" font-weight="700" letter-spacing="0.92" stroke="#000" stroke-width="0.5" x="895.4" y="517.5">DKO</text>
<text font-size="20.5" font-weight="700" letter-spacing="0.89" stroke="#000" stroke-width="0.5" x="1028.3" y="519.1">CTRL</text>
<text font-size="20.5" font-weight="700" letter-spacing="0.92" stroke="#000" stroke-width="0.5" x="1183.7" y="517.5">DKO</text>
<text font-size="33" font-weight="700" stroke="#000" stroke-width="0.5" x="688.7" y="483.6">g</text>
<text font-size="20.5" font-weight="700" letter-spacing="2.00" stroke="#000" stroke-width="0.5" transform="translate(692.6 625.4) rotate(-90)">H&amp;E</text>
<text font-size="20.5" font-weight="700" letter-spacing="0.84" stroke="#000" stroke-width="0.5" transform="translate(692.6 840.6) rotate(-90)">Trichrome</text>
<rect x="1247.7" y="860.7" width="22.6" height="3.2" fill="#000"/>
<text font-size="20.5" font-weight="700" letter-spacing="1.11" stroke="#000" stroke-width="0.5" x="798.8" y="1424">SHAM</text>
<text font-size="20.5" font-weight="700" letter-spacing="0.70" stroke="#000" stroke-width="0.5" x="1050" y="1424">Exercise</text>
<line x1="712.3" y1="1433.7" x2="949.1" y2="1433.7" stroke="#000" stroke-width="1.8"/>
<line x1="979.4" y1="1433.7" x2="1215.7" y2="1433.7" stroke="#000" stroke-width="1.8"/>
<text font-size="20.5" font-weight="700" letter-spacing="0.56" stroke="#000" stroke-width="0.5" x="747.2" y="1457.8">CTRL</text>
<text font-size="20.5" font-weight="700" letter-spacing="1.07" stroke="#000" stroke-width="0.5" x="866.5" y="1457.8">DKO</text>
<text font-size="20.5" font-weight="700" letter-spacing="0.76" stroke="#000" stroke-width="0.5" x="1012.3" y="1457.8">CTRL</text>
<text font-size="20.5" font-weight="700" letter-spacing="1.07" stroke="#000" stroke-width="0.5" x="1133.6" y="1457.8">DKO</text>
<text font-size="33" font-weight="700" stroke="#000" stroke-width="0.5" x="687.2" y="1424">o</text>
<text font-size="20.5" font-weight="700" letter-spacing="0.68" stroke="#000" stroke-width="0.5" transform="translate(714.3 1569.2) rotate(-90)">H&amp;E</text>
<text font-size="20.5" font-weight="700" letter-spacing="0.38" stroke="#000" stroke-width="0.5" transform="translate(714.3 1780.9) rotate(-90)">Trichrome</text>
<rect x="1208.8" y="1798" width="22.5" height="3.7" fill="#000"/>
</svg>
</body></html>
